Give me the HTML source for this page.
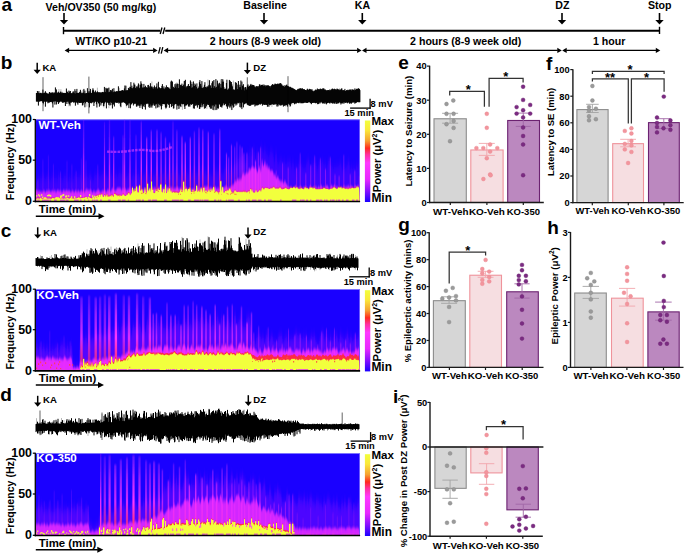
<!DOCTYPE html>
<html><head><meta charset="utf-8"><style>
html,body{margin:0;padding:0;background:#fff;overflow:hidden;}
svg{display:block;}
text{font-family:"Liberation Sans",sans-serif;font-weight:bold;}
</style></head><body>
<svg width="685" height="554" viewBox="0 0 685 554">
<defs>
<linearGradient id="cbar" x1="0" y1="0" x2="0" y2="1">
<stop offset="0" stop-color="#f2ff3c"/>
<stop offset="0.12" stop-color="#fbe83a"/>
<stop offset="0.25" stop-color="#f5a030"/>
<stop offset="0.34" stop-color="#ff2a1e"/>
<stop offset="0.42" stop-color="#ff30a0"/>
<stop offset="0.52" stop-color="#ff38ff"/>
<stop offset="0.72" stop-color="#e828ff"/>
<stop offset="0.86" stop-color="#8a10ff"/>
<stop offset="1" stop-color="#1a00ff"/>
</linearGradient>

<filter id="bl_h" filterUnits="userSpaceOnUse" x="0" y="0" width="685" height="554"><feGaussianBlur stdDeviation="0.6 5"/></filter>
<filter id="bl_m" filterUnits="userSpaceOnUse" x="0" y="0" width="685" height="554"><feGaussianBlur stdDeviation="0.4 1.6"/></filter>
<filter id="bl_s" filterUnits="userSpaceOnUse" x="0" y="0" width="685" height="554"><feGaussianBlur stdDeviation="0.45 0.8"/></filter>
<filter id="bl_y" filterUnits="userSpaceOnUse" x="0" y="0" width="685" height="554"><feGaussianBlur stdDeviation="0.3 0.45"/></filter>
<filter id="bl_c" filterUnits="userSpaceOnUse" x="0" y="0" width="685" height="554"><feGaussianBlur stdDeviation="3 3"/></filter>
<linearGradient id="hot_b" gradientUnits="userSpaceOnUse" x1="0" y1="119.3" x2="0" y2="201.0">
<stop offset="0" stop-color="#8020ff" stop-opacity="0.55"/>
<stop offset="0.3" stop-color="#d030ff" stop-opacity="0.85"/>
<stop offset="0.6" stop-color="#ff38ff" stop-opacity="1"/>
<stop offset="0.85" stop-color="#ff3080" stop-opacity="1"/>
<stop offset="1" stop-color="#ff5020" stop-opacity="1"/>
</linearGradient>
<linearGradient id="stk_b" gradientUnits="userSpaceOnUse" x1="0" y1="119.3" x2="0" y2="201.0">
<stop offset="0" stop-color="#7018ff" stop-opacity="0.5"/>
<stop offset="0.35" stop-color="#b024ff" stop-opacity="0.8"/>
<stop offset="0.6" stop-color="#f030ff" stop-opacity="0.95"/>
<stop offset="1" stop-color="#ff38c0" stop-opacity="1"/>
</linearGradient>
<linearGradient id="hot_c" gradientUnits="userSpaceOnUse" x1="0" y1="289.0" x2="0" y2="370.4">
<stop offset="0" stop-color="#8020ff" stop-opacity="0.55"/>
<stop offset="0.3" stop-color="#d030ff" stop-opacity="0.85"/>
<stop offset="0.6" stop-color="#ff38ff" stop-opacity="1"/>
<stop offset="0.85" stop-color="#ff3080" stop-opacity="1"/>
<stop offset="1" stop-color="#ff5020" stop-opacity="1"/>
</linearGradient>
<linearGradient id="stk_c" gradientUnits="userSpaceOnUse" x1="0" y1="289.0" x2="0" y2="370.4">
<stop offset="0" stop-color="#7018ff" stop-opacity="0.5"/>
<stop offset="0.35" stop-color="#b024ff" stop-opacity="0.8"/>
<stop offset="0.6" stop-color="#f030ff" stop-opacity="0.95"/>
<stop offset="1" stop-color="#ff38c0" stop-opacity="1"/>
</linearGradient>
<linearGradient id="hot_d" gradientUnits="userSpaceOnUse" x1="0" y1="453.0" x2="0" y2="535.0">
<stop offset="0" stop-color="#8020ff" stop-opacity="0.55"/>
<stop offset="0.3" stop-color="#d030ff" stop-opacity="0.85"/>
<stop offset="0.6" stop-color="#ff38ff" stop-opacity="1"/>
<stop offset="0.85" stop-color="#ff3080" stop-opacity="1"/>
<stop offset="1" stop-color="#ff5020" stop-opacity="1"/>
</linearGradient>
<linearGradient id="stk_d" gradientUnits="userSpaceOnUse" x1="0" y1="453.0" x2="0" y2="535.0">
<stop offset="0" stop-color="#7018ff" stop-opacity="0.5"/>
<stop offset="0.35" stop-color="#b024ff" stop-opacity="0.8"/>
<stop offset="0.6" stop-color="#f030ff" stop-opacity="0.95"/>
<stop offset="1" stop-color="#ff38c0" stop-opacity="1"/>
</linearGradient>
</defs>
<text x="1.43" y="10.70" font-size="19.00" fill="#000">a</text>
<text x="45.60" y="10.70" font-size="10.60" fill="#000">Veh/OV350 (50 mg/kg)</text>
<text x="243.26" y="9.20" font-size="10.60" fill="#000">Baseline</text>
<text x="354.76" y="9.40" font-size="10.60" fill="#000">KA</text>
<text x="555.34" y="9.40" font-size="10.60" fill="#000">DZ</text>
<text x="647.94" y="9.40" font-size="10.60" fill="#000">Stop</text>
<line x1="64.00" y1="13.00" x2="64.00" y2="20.50" stroke="#000" stroke-width="1.6" />
<path d="M59.80,20.00 L68.20,20.00 L64.00,24.50 Z" fill="#000"/>
<line x1="264.00" y1="13.00" x2="264.00" y2="20.50" stroke="#000" stroke-width="1.6" />
<path d="M259.80,20.00 L268.20,20.00 L264.00,24.50 Z" fill="#000"/>
<line x1="362.30" y1="13.00" x2="362.30" y2="20.50" stroke="#000" stroke-width="1.6" />
<path d="M358.10,20.00 L366.50,20.00 L362.30,24.50 Z" fill="#000"/>
<line x1="562.00" y1="13.00" x2="562.00" y2="20.50" stroke="#000" stroke-width="1.6" />
<path d="M557.80,20.00 L566.20,20.00 L562.00,24.50 Z" fill="#000"/>
<line x1="659.50" y1="13.00" x2="659.50" y2="20.50" stroke="#000" stroke-width="1.6" />
<path d="M655.30,20.00 L663.70,20.00 L659.50,24.50 Z" fill="#000"/>
<line x1="63.50" y1="30.70" x2="160.30" y2="30.70" stroke="#000" stroke-width="2.0" />
<line x1="165.20" y1="30.70" x2="659.50" y2="30.70" stroke="#000" stroke-width="2.0" />
<line x1="63.50" y1="27.00" x2="63.50" y2="34.20" stroke="#000" stroke-width="1.4" />
<line x1="659.50" y1="26.80" x2="659.50" y2="34.00" stroke="#000" stroke-width="1.4" />
<line x1="160.20" y1="34.00" x2="162.00" y2="27.50" stroke="#000" stroke-width="1.3" />
<line x1="163.00" y1="34.00" x2="164.80" y2="27.50" stroke="#000" stroke-width="1.3" />
<line x1="68.60" y1="50.40" x2="153.60" y2="50.40" stroke="#000" stroke-width="1.3" />
<path d="M64.60,50.40 L69.10,47.80 L69.10,53.00 Z" fill="#000"/>
<path d="M157.60,50.40 L153.10,47.80 L153.10,53.00 Z" fill="#000"/>
<line x1="158.60" y1="53.60" x2="160.20" y2="47.20" stroke="#000" stroke-width="1.3" />
<line x1="161.20" y1="53.60" x2="162.80" y2="47.20" stroke="#000" stroke-width="1.3" />
<line x1="167.60" y1="50.40" x2="357.60" y2="50.40" stroke="#000" stroke-width="1.3" />
<path d="M163.60,50.40 L168.10,47.80 L168.10,53.00 Z" fill="#000"/>
<path d="M361.60,50.40 L357.10,47.80 L357.10,53.00 Z" fill="#000"/>
<line x1="366.00" y1="50.40" x2="557.80" y2="50.40" stroke="#000" stroke-width="1.3" />
<path d="M362.00,50.40 L366.50,47.80 L366.50,53.00 Z" fill="#000"/>
<path d="M561.80,50.40 L557.30,47.80 L557.30,53.00 Z" fill="#000"/>
<line x1="566.20" y1="50.40" x2="656.30" y2="50.40" stroke="#000" stroke-width="1.3" />
<path d="M562.20,50.40 L566.70,47.80 L566.70,53.00 Z" fill="#000"/>
<path d="M660.30,50.40 L655.80,47.80 L655.80,53.00 Z" fill="#000"/>
<text x="75.25" y="44.90" font-size="10.60" fill="#000">WT/KO p10-21</text>
<text x="209.85" y="44.50" font-size="10.60" fill="#000">2 hours (8-9 week old)</text>
<text x="410.10" y="44.50" font-size="10.60" fill="#000">2 hours (8-9 week old)</text>
<text x="593.02" y="44.50" font-size="10.60" fill="#000">1 hour</text>
<text x="0.76" y="68.80" font-size="19.00" fill="#000">b</text>
<line x1="37.20" y1="62.80" x2="37.20" y2="70.30" stroke="#000" stroke-width="1.5" />
<path d="M33.60,69.80 L40.80,69.80 L37.20,74.00 Z" fill="#000"/>
<text x="42.38" y="71.20" font-size="9.60" fill="#000">KA</text>
<line x1="247.40" y1="62.60" x2="247.40" y2="70.60" stroke="#000" stroke-width="1.5" />
<path d="M243.80,70.10 L251.00,70.10 L247.40,74.30 Z" fill="#000"/>
<text x="253.28" y="70.50" font-size="9.60" fill="#000">DZ</text>
<path d="M43.4 100.8V105.4M58.9 89.0V93.8M60.9 89.2V93.8M68.9 101.0V106.3M70.4 101.1V106.3M82.9 89.8V93.8M83.4 90.0V93.8M86.9 101.2V106.7M89.9 88.3V93.7M93.4 88.7V93.5M97.4 87.7V93.3M103.9 101.4V107.5M107.4 89.1V93.0M108.9 101.4V108.2M119.4 87.9V92.6M126.4 101.8V107.6M136.9 102.6V106.6M141.4 102.7V107.9M151.9 81.5V89.9M160.9 102.7V106.9M167.4 102.7V106.7M173.9 102.7V106.3M176.9 82.3V89.8M179.4 102.7V108.2M182.4 102.7V109.8M183.9 81.2V89.7M192.4 82.1V89.7M201.4 84.0V89.6M206.9 102.8V108.9M207.9 79.5V89.6M220.4 79.4V90.2M221.9 80.8V90.3M229.4 79.7V90.7M229.9 80.2V90.7M229.9 102.4V108.4M231.4 102.3V110.1M233.4 80.6V90.9M248.4 84.7V88.4M250.4 86.7V87.6M262.4 103.3V104.4M266.4 103.3V104.5M271.9 103.3V106.9M277.4 103.3V105.0M280.9 84.4V87.6M285.4 103.3V106.5M289.4 102.7V106.7M291.9 90.7V90.3M291.9 102.0V105.2M294.4 102.0V103.9M295.9 102.0V104.2M300.4 102.0V103.1M304.9 89.7V91.0M309.4 88.4V91.2M317.4 101.9V103.4M317.9 89.7V91.2M326.4 101.9V104.4M334.9 90.8V91.2M339.4 88.3V91.2M353.9 101.8V102.4M357.4 88.4V91.2" stroke="#888" stroke-width="0.6" fill="none"/><path d="M43.0 77.2V111.2M88.9 76.6V113.4M247.3 77.3V105.2M288.0 76.2V112.2" stroke="#222" stroke-width="0.7" fill="none"/><path d="M36.4 93.0V101.6M36.9 93.0V101.4M37.4 91.0V101.3M37.9 93.0V101.9M38.4 92.7V105.6M38.9 91.1V101.2M39.4 93.3V101.6M39.9 93.2V101.4M40.4 93.0V101.1M40.9 92.7V101.2M41.4 93.3V101.1M41.9 93.5V101.0M42.4 93.2V101.5M42.9 89.6V102.9M43.4 93.3V103.5M43.9 93.0V101.3M44.4 92.8V101.6M44.9 92.7V101.5M45.4 91.2V106.7M45.9 92.4V102.0M46.4 93.1V101.4M46.9 93.3V101.4M47.4 93.7V101.6M47.9 93.6V103.3M48.4 93.7V102.3M48.9 93.9V102.8M49.4 92.0V102.4M49.9 92.2V101.8M50.4 93.1V102.0M50.9 93.2V102.1M51.4 92.5V101.7M51.9 93.2V102.1M52.4 92.9V103.4M52.9 92.0V107.5M53.4 93.4V101.6M53.9 93.0V101.4M54.4 92.6V101.3M54.9 92.6V104.6M55.4 87.4V101.2M55.9 92.8V101.4M56.4 89.4V104.5M56.9 93.4V101.5M57.4 92.5V101.7M57.9 93.1V102.1M58.4 91.7V104.0M58.9 93.0V102.8M59.4 93.0V102.2M59.9 92.6V101.7M60.4 91.6V101.4M60.9 93.2V101.4M61.4 93.2V101.6M61.9 91.8V101.6M62.4 93.1V102.8M62.9 92.8V102.2M63.4 93.0V102.7M63.9 92.9V101.7M64.4 93.1V102.3M64.9 92.9V102.1M65.4 93.0V106.0M65.9 93.2V102.4M66.4 88.5V101.8M66.9 91.2V104.0M67.4 92.0V101.6M67.9 93.1V101.6M68.4 93.1V101.6M68.9 90.6V103.5M69.4 91.5V104.1M69.9 93.1V105.5M70.4 91.0V102.6M70.9 93.4V102.3M71.4 93.3V102.5M71.9 93.2V102.2M72.4 93.2V101.7M72.9 91.6V101.8M73.4 92.4V102.0M73.9 91.2V103.1M74.4 93.2V102.1M74.9 89.2V102.1M75.4 93.6V105.7M75.9 90.9V102.4M76.4 92.8V102.5M76.9 88.9V102.2M77.4 92.8V103.3M77.9 93.0V104.7M78.4 93.0V102.4M78.9 92.9V102.7M79.4 92.2V103.0M79.9 91.8V102.5M80.4 89.8V102.9M80.9 91.6V102.6M81.4 93.3V102.8M81.9 93.0V102.5M82.4 93.3V105.4M82.9 92.7V105.2M83.4 92.6V103.2M83.9 88.9V102.2M84.4 93.3V102.0M84.9 90.6V107.3M85.4 93.4V103.4M85.9 93.3V101.7M86.4 93.1V101.8M86.9 93.0V101.9M87.4 88.2V101.8M87.9 92.9V102.1M88.4 92.7V103.0M88.9 91.2V101.7M89.4 93.1V107.4M89.9 91.4V102.4M90.4 89.0V102.8M90.9 92.9V103.1M91.4 93.1V103.3M91.9 92.8V101.7M92.4 90.3V102.4M92.9 88.3V102.4M93.4 90.1V101.8M93.9 91.5V106.0M94.4 92.3V102.8M94.9 92.4V101.4M95.4 90.5V101.4M95.9 92.3V101.8M96.4 92.6V104.3M96.9 92.3V107.5M97.4 91.3V101.7M97.9 92.6V101.8M98.4 92.4V103.1M98.9 92.2V103.6M99.4 92.3V106.7M99.9 92.9V101.9M100.4 92.4V102.1M100.9 92.7V105.5M101.4 92.6V103.3M101.9 92.4V102.3M102.4 92.0V102.9M102.9 91.9V102.2M103.4 92.5V106.2M103.9 92.1V105.9M104.4 86.9V103.5M104.9 92.4V102.1M105.4 91.8V101.7M105.9 87.8V102.5M106.4 88.5V108.4M106.9 92.8V102.6M107.4 88.8V102.5M107.9 88.1V102.4M108.4 92.2V103.4M108.9 87.6V105.0M109.4 92.1V102.9M109.9 91.7V105.5M110.4 90.0V101.9M110.9 91.6V105.1M111.4 90.3V102.8M111.9 92.0V102.5M112.4 88.8V108.5M112.9 92.7V104.4M113.4 92.1V104.5M113.9 88.2V102.1M114.4 91.5V106.5M114.9 91.7V102.8M115.4 91.8V102.4M115.9 91.8V102.1M116.4 91.1V102.8M116.9 91.8V102.9M117.4 91.2V102.4M117.9 91.5V102.9M118.4 86.3V102.1M118.9 91.5V103.6M119.4 90.9V102.6M119.9 91.0V102.9M120.4 90.9V106.1M120.9 90.9V107.2M121.4 90.4V102.5M121.9 91.1V102.8M122.4 90.0V102.4M122.9 90.6V102.0M123.4 90.4V102.1M123.9 91.0V102.4M124.4 88.4V102.7M124.9 85.5V102.9M125.4 90.4V103.2M125.9 85.7V104.1M126.4 90.5V105.6M126.9 90.1V105.6M127.4 90.3V104.8M127.9 90.3V104.6M128.4 87.9V103.4M128.9 88.4V108.1M129.4 88.8V102.9M129.9 86.8V103.7M130.4 87.0V108.3M130.9 82.1V104.9M131.4 87.9V104.1M131.9 85.7V103.2M132.4 88.3V102.8M132.9 88.3V103.4M133.4 87.2V105.5M133.9 82.7V104.0M134.4 84.6V103.4M134.9 84.6V104.2M135.4 87.9V103.5M135.9 88.4V103.5M136.4 86.4V106.5M136.9 88.6V106.5M137.4 87.2V105.5M137.9 85.6V104.4M138.4 83.4V104.8M138.9 84.6V106.1M139.4 88.3V105.7M139.9 87.7V107.9M140.4 84.7V104.4M140.9 81.3V105.8M141.4 83.5V104.4M141.9 84.0V103.9M142.4 88.0V109.1M142.9 87.2V105.6M143.4 87.7V106.5M143.9 83.9V104.2M144.4 87.1V104.7M144.9 87.8V107.1M145.4 85.7V109.6M145.9 87.1V103.7M146.4 87.4V103.6M146.9 87.5V104.2M147.4 88.0V103.5M147.9 85.1V103.3M148.4 84.9V103.8M148.9 86.9V107.2M149.4 87.7V106.2M149.9 86.1V108.0M150.4 83.2V104.5M150.9 87.9V106.8M151.4 86.8V105.6M151.9 86.3V107.7M152.4 88.3V105.5M152.9 87.1V103.3M153.4 89.0V103.6M153.9 87.4V105.2M154.4 85.5V105.9M154.9 87.4V104.9M155.4 88.5V104.3M155.9 87.1V108.4M156.4 86.5V104.3M156.9 83.4V103.4M157.4 88.7V107.6M157.9 88.5V102.9M158.4 81.8V103.9M158.9 87.0V107.3M159.4 87.6V104.9M159.9 88.3V103.3M160.4 88.3V105.8M160.9 88.7V103.5M161.4 88.0V109.4M161.9 85.9V106.0M162.4 84.1V104.1M162.9 88.1V104.1M163.4 88.5V104.1M163.9 86.4V103.8M164.4 89.2V104.3M164.9 88.4V103.8M165.4 87.3V107.3M165.9 88.9V108.5M166.4 85.3V107.6M166.9 88.1V104.1M167.4 87.0V103.6M167.9 87.1V103.4M168.4 88.0V104.6M168.9 87.5V104.8M169.4 88.6V107.8M169.9 89.1V103.8M170.4 89.2V103.8M170.9 81.6V104.1M171.4 80.6V107.1M171.9 82.2V106.1M172.4 81.5V103.7M172.9 88.7V106.0M173.4 86.8V108.5M173.9 88.3V108.4M174.4 88.0V104.7M174.9 84.2V104.2M175.4 86.6V103.8M175.9 83.5V104.1M176.4 88.1V104.1M176.9 84.4V109.6M177.4 83.6V105.7M177.9 88.6V104.5M178.4 88.0V105.8M178.9 83.9V109.0M179.4 79.3V104.7M179.9 87.5V105.7M180.4 84.8V106.0M180.9 85.7V107.1M181.4 85.2V103.7M181.9 83.6V103.8M182.4 86.0V104.1M182.9 86.0V104.3M183.4 84.6V104.1M183.9 86.8V103.6M184.4 80.9V106.6M184.9 87.1V109.0M185.4 79.8V105.6M185.9 88.2V105.3M186.4 87.2V105.4M186.9 86.1V104.9M187.4 86.3V104.1M187.9 85.7V103.8M188.4 84.0V106.2M188.9 86.5V106.8M189.4 86.0V105.4M189.9 86.1V106.6M190.4 80.4V104.1M190.9 81.8V104.4M191.4 87.8V104.8M191.9 83.9V104.4M192.4 87.5V103.9M192.9 87.3V103.8M193.4 81.4V108.4M193.9 86.1V103.7M194.4 86.0V108.7M194.9 83.5V105.7M195.4 84.6V105.7M195.9 88.9V103.1M196.4 86.8V105.4M196.9 83.4V103.9M197.4 88.6V107.6M197.9 88.7V105.0M198.4 88.0V105.2M198.9 86.5V104.6M199.4 82.2V109.0M199.9 80.1V108.7M200.4 83.9V107.1M200.9 85.8V104.7M201.4 87.8V103.3M201.9 81.1V107.3M202.4 87.9V104.9M202.9 88.7V106.6M203.4 87.6V104.0M203.9 86.8V104.1M204.4 84.8V108.7M204.9 82.2V103.3M205.4 87.0V108.2M205.9 87.1V104.2M206.4 87.9V106.4M206.9 86.5V104.7M207.4 86.5V104.6M207.9 87.6V103.3M208.4 86.3V105.0M208.9 84.9V104.5M209.4 80.2V106.8M209.9 85.0V107.3M210.4 85.6V108.7M210.9 88.1V105.8M211.4 87.8V108.7M211.9 83.2V104.8M212.4 81.4V105.6M212.9 81.3V109.8M213.4 88.0V105.2M213.9 80.0V110.2M214.4 86.2V106.5M214.9 88.2V104.2M215.4 87.6V104.5M215.9 79.1V110.1M216.4 86.8V104.6M216.9 88.8V109.7M217.4 80.6V108.2M217.9 83.2V108.1M218.4 85.4V108.6M218.9 84.0V103.7M219.4 82.8V104.6M219.9 89.1V103.9M220.4 87.5V106.9M220.9 83.9V106.0M221.4 87.8V106.8M221.9 79.0V107.6M222.4 81.8V105.5M222.9 79.4V105.3M223.4 81.6V103.5M223.9 87.1V103.1M224.4 89.1V105.2M224.9 88.7V104.3M225.4 88.9V103.8M225.9 88.7V103.6M226.4 83.0V106.2M226.9 79.7V106.6M227.4 89.6V108.8M227.9 90.0V105.3M228.4 88.5V105.5M228.9 89.8V106.7M229.4 80.1V103.2M229.9 82.0V107.7M230.4 81.2V106.5M230.9 84.3V105.8M231.4 82.0V104.2M231.9 84.4V109.9M232.4 86.3V105.5M232.9 90.0V103.5M233.4 89.3V107.6M233.9 90.1V106.9M234.4 89.6V103.5M234.9 90.3V103.9M235.4 82.2V103.5M235.9 86.5V105.6M236.4 82.8V103.7M236.9 89.4V104.7M237.4 89.1V102.7M237.9 84.6V103.3M238.4 81.0V103.2M238.9 89.5V102.0M239.4 87.2V102.7M239.9 84.7V107.1M240.4 87.1V103.1M240.9 80.5V107.6M241.4 89.6V106.9M241.9 81.6V109.1M242.4 85.6V102.4M242.9 86.1V102.6M243.4 84.2V107.4M243.9 87.4V103.6M244.4 90.4V104.3M244.9 87.6V103.8M245.4 87.0V103.3M245.9 87.2V103.2M246.4 90.0V102.8M246.9 88.6V103.5M247.4 85.7V104.2M247.9 84.4V105.0M248.4 86.7V105.0M248.9 87.1V105.6M249.4 85.8V105.9M249.9 86.2V104.3M250.4 84.8V105.8M250.9 83.9V105.4M251.4 85.7V104.6M251.9 84.7V104.7M252.4 84.9V104.1M252.9 85.5V105.0M253.4 85.1V104.4M253.9 85.0V104.0M254.4 86.6V104.3M254.9 86.3V106.5M255.4 87.5V104.7M255.9 86.8V105.8M256.4 86.3V105.2M256.9 86.1V104.3M257.4 87.0V105.3M257.9 86.0V105.3M258.4 87.3V104.8M258.9 86.0V104.5M259.4 84.4V104.2M259.9 84.4V103.7M260.4 85.7V104.6M260.9 85.5V103.9M261.4 84.9V103.6M261.9 85.0V103.7M262.4 84.7V105.7M262.9 85.5V104.3M263.4 86.1V104.0M263.9 84.4V105.0M264.4 85.8V104.7M264.9 85.2V104.9M265.4 86.5V104.5M265.9 85.3V104.8M266.4 85.5V104.8M266.9 86.0V105.0M267.4 85.6V106.8M267.9 85.1V105.7M268.4 85.5V103.9M268.9 85.8V106.8M269.4 86.3V105.1M269.9 86.1V104.3M270.4 87.4V105.2M270.9 86.0V104.6M271.4 85.4V104.5M271.9 85.3V104.2M272.4 84.1V104.0M272.9 84.4V104.5M273.4 84.9V104.8M273.9 84.9V103.9M274.4 84.7V104.3M274.9 83.7V104.8M275.4 83.8V103.8M275.9 84.8V104.3M276.4 84.2V104.0M276.9 84.0V106.5M277.4 83.6V105.1M277.9 84.2V106.5M278.4 84.2V104.0M278.9 83.6V105.5M279.4 83.5V104.4M279.9 83.9V105.0M280.4 83.1V105.6M280.9 83.3V104.7M281.4 84.4V105.4M281.9 84.5V104.7M282.4 85.6V104.5M282.9 86.0V105.2M283.4 85.7V106.6M283.9 86.9V104.7M284.4 86.9V105.7M284.9 85.2V105.8M285.4 85.8V104.9M285.9 86.3V105.2M286.4 84.9V105.2M286.9 84.6V104.6M287.4 86.0V106.6M287.9 86.0V104.4M288.4 86.5V103.8M288.9 86.4V103.3M289.4 87.2V104.6M289.9 87.1V105.2M290.4 86.8V106.4M290.9 87.6V104.0M291.4 87.9V103.3M291.9 87.6V103.1M292.4 88.1V102.9M292.9 88.7V103.1M293.4 88.5V102.9M293.9 88.9V102.6M294.4 89.1V104.3M294.9 89.7V103.2M295.4 89.8V103.4M295.9 90.2V103.4M296.4 90.2V103.4M296.9 90.5V102.4M297.4 89.6V102.7M297.9 88.9V102.8M298.4 89.3V103.0M298.9 88.7V103.3M299.4 89.0V102.3M299.9 88.2V102.9M300.4 88.5V102.3M300.9 88.3V103.3M301.4 88.9V103.2M301.9 88.6V103.0M302.4 88.3V103.3M302.9 89.7V102.9M303.4 89.1V103.2M303.9 89.6V102.5M304.4 89.2V102.8M304.9 90.0V102.0M305.4 90.0V102.7M305.9 90.0V102.4M306.4 90.4V102.8M306.9 89.6V103.0M307.4 88.7V102.9M307.9 89.8V102.7M308.4 89.8V102.2M308.9 89.7V102.2M309.4 89.0V102.2M309.9 89.9V102.3M310.4 89.1V103.2M310.9 90.2V103.1M311.4 90.1V104.2M311.9 89.0V102.6M312.4 90.8V103.0M312.9 90.5V102.4M313.4 91.4V102.8M313.9 91.3V102.7M314.4 90.6V102.6M314.9 90.8V102.9M315.4 89.8V103.3M315.9 89.5V103.0M316.4 90.2V102.8M316.9 89.8V102.8M317.4 88.5V104.2M317.9 90.1V102.2M318.4 89.2V104.1M318.9 89.3V103.2M319.4 89.6V102.3M319.9 88.9V103.6M320.4 88.6V102.6M320.9 89.8V102.0M321.4 89.2V101.8M321.9 88.9V102.7M322.4 89.3V103.2M322.9 88.2V103.6M323.4 88.7V103.3M323.9 88.4V102.9M324.4 89.7V102.7M324.9 89.4V104.0M325.4 89.7V102.3M325.9 90.5V103.0M326.4 90.7V104.3M326.9 90.0V103.1M327.4 90.5V103.2M327.9 90.0V103.0M328.4 90.1V102.5M328.9 90.1V102.7M329.4 90.5V103.1M329.9 89.4V103.6M330.4 90.3V102.4M330.9 90.1V102.8M331.4 89.6V102.7M331.9 88.9V103.2M332.4 88.6V103.1M332.9 88.9V103.8M333.4 89.2V102.7M333.9 90.4V103.2M334.4 88.7V103.1M334.9 89.1V104.0M335.4 89.4V102.5M335.9 89.5V102.4M336.4 89.9V103.9M336.9 88.7V102.5M337.4 88.8V103.6M337.9 89.5V102.2M338.4 89.8V103.3M338.9 89.1V103.2M339.4 90.2V102.1M339.9 90.3V102.3M340.4 89.8V102.9M340.9 89.3V104.5M341.4 88.6V103.4M341.9 88.4V102.9M342.4 90.2V103.5M342.9 90.5V102.4M343.4 90.3V102.4M343.9 90.0V103.8M344.4 90.5V102.6M344.9 88.9V102.2M345.4 90.9V102.7M345.9 91.0V103.0M346.4 90.2V102.2M346.9 90.1V102.5M347.4 90.3V103.3M347.9 89.7V102.4M348.4 90.2V102.5M348.9 90.6V102.2M349.4 89.6V103.4M349.9 89.8V103.9M350.4 89.8V102.9M350.9 89.4V102.8M351.4 90.8V103.7M351.9 89.6V102.6M352.4 89.6V102.5M352.9 89.5V102.3M353.4 90.0V102.3M353.9 89.7V102.4M354.4 90.4V102.3M354.9 88.4V103.8M355.4 90.0V102.9M355.9 89.6V102.8M356.4 88.8V102.6M356.9 89.5V102.3M357.4 89.1V102.0M357.9 88.8V101.6M358.4 88.3V102.1M358.9 88.6V102.3M359.4 89.0V102.1M359.9 90.1V102.2" stroke="#000" stroke-width="1.0" fill="none"/>
<line x1="370.10" y1="98.80" x2="370.10" y2="108.70" stroke="#000" stroke-width="1.3" />
<line x1="350.10" y1="108.10" x2="370.70" y2="108.10" stroke="#000" stroke-width="1.3" />
<text x="370.62" y="107.00" font-size="9.30" fill="#000">8 mV</text>
<text x="344.44" y="116.10" font-size="9.30" fill="#000">15 min</text>
<svg x="36.0" y="119.3" width="323.8" height="81.7" viewBox="36.0 119.3 323.8 81.7" overflow="hidden">
<rect x="36.0" y="119.3" width="323.8" height="81.7" fill="#1a00ff"/>
<path d="M36.0 209.0L36.0 182.0L37.0 182.1L38.0 177.5L39.0 177.8L40.0 181.9L41.0 175.1L42.0 181.4L43.0 175.7L44.0 174.7L45.0 182.1L46.0 176.8L47.0 178.2L48.0 174.8L49.0 179.1L50.0 179.3L51.0 180.9L52.0 175.3L53.0 180.1L54.0 174.6L55.0 182.6L56.0 174.8L57.0 182.7L58.0 176.2L59.0 174.1L60.0 179.8L61.0 177.3L62.0 178.9L63.0 182.1L64.0 174.9L65.0 178.1L66.0 175.2L67.0 182.3L68.0 181.1L69.0 180.4L70.0 174.9L71.0 182.3L72.0 182.3L73.0 178.9L74.0 178.8L75.0 174.4L76.0 174.3L77.0 180.1L78.0 175.3L79.0 178.9L80.0 175.0L81.0 176.0L82.0 181.5L83.0 177.7L84.0 178.1L85.0 177.8L86.0 176.8L87.0 175.5L88.0 178.2L89.0 177.0L90.0 174.1L91.0 175.4L92.0 180.1L93.0 180.6L94.0 179.3L95.0 172.7L96.0 178.1L97.0 173.3L98.0 172.5L99.0 175.0L100.0 178.1L101.0 174.5L102.0 176.8L103.0 172.4L104.0 176.7L105.0 175.4L106.0 174.9L107.0 175.4L108.0 179.8L109.0 175.9L110.0 177.3L111.0 174.8L112.0 173.8L113.0 179.3L114.0 177.7L115.0 178.8L116.0 171.9L117.0 176.4L118.0 176.8L119.0 171.7L120.0 173.5L121.0 172.7L122.0 176.2L123.0 179.8L124.0 177.4L125.0 180.2L126.0 177.1L127.0 176.5L128.0 176.2L129.0 171.2L130.0 175.6L131.0 179.2L132.0 179.1L133.0 174.1L134.0 175.7L135.0 176.7L136.0 175.8L137.0 176.6L138.0 173.9L139.0 174.7L140.0 180.2L141.0 175.6L142.0 178.1L143.0 174.7L144.0 175.9L145.0 172.9L146.0 170.8L147.0 173.0L148.0 174.2L149.0 175.3L150.0 179.2L151.0 173.0L152.0 178.3L153.0 176.5L154.0 174.3L155.0 177.6L156.0 171.4L157.0 174.6L158.0 170.3L159.0 179.9L160.0 175.4L161.0 176.8L162.0 174.2L163.0 173.4L164.0 174.0L165.0 170.4L166.0 175.4L167.0 176.1L168.0 172.2L169.0 174.2L170.0 177.1L171.0 170.3L172.0 177.5L173.0 179.0L174.0 174.2L175.0 170.3L176.0 170.8L177.0 171.2L178.0 173.3L179.0 174.3L180.0 176.6L181.0 177.8L182.0 174.9L183.0 170.8L184.0 173.7L185.0 169.2L186.0 171.1L187.0 173.7L188.0 173.2L189.0 175.0L190.0 169.8L191.0 170.6L192.0 177.4L193.0 169.8L194.0 172.1L195.0 175.4L196.0 171.3L197.0 174.7L198.0 171.8L199.0 173.8L200.0 172.4L201.0 169.3L202.0 169.6L203.0 173.9L204.0 174.8L205.0 171.3L206.0 171.8L207.0 177.9L208.0 173.4L209.0 175.8L210.0 171.9L211.0 177.0L212.0 175.6L213.0 176.0L214.0 175.7L215.0 172.6L216.0 169.4L217.0 171.7L218.0 171.6L219.0 170.4L220.0 174.3L221.0 173.9L222.0 171.5L223.0 176.2L224.0 170.3L225.0 168.5L226.0 168.0L227.0 176.3L228.0 165.8L229.0 173.0L230.0 173.4L231.0 166.8L232.0 169.3L233.0 170.7L234.0 164.4L235.0 164.5L236.0 163.7L237.0 163.2L238.0 161.0L239.0 157.9L240.0 157.8L241.0 157.2L242.0 154.5L243.0 159.1L244.0 155.7L245.0 163.0L246.0 163.2L247.0 157.0L248.0 153.1L249.0 159.8L250.0 147.8L251.0 158.3L252.0 154.7L253.0 154.7L254.0 146.0L255.0 159.2L256.0 157.3L257.0 150.5L258.0 154.8L259.0 154.7L260.0 158.0L261.0 144.1L262.0 152.0L263.0 150.1L264.0 156.3L265.0 145.0L266.0 159.5L267.0 150.0L268.0 161.0L269.0 153.8L270.0 157.6L271.0 147.9L272.0 156.6L273.0 150.8L274.0 164.0L275.0 161.2L276.0 150.0L277.0 160.0L278.0 165.5L279.0 162.5L280.0 161.4L281.0 159.5L282.0 162.1L283.0 163.6L284.0 161.6L285.0 162.2L286.0 166.7L287.0 162.4L288.0 162.1L289.0 162.6L290.0 160.8L291.0 165.2L292.0 168.8L293.0 159.2L294.0 170.1L295.0 167.7L296.0 166.2L297.0 166.3L298.0 169.0L299.0 160.5L300.0 167.8L301.0 164.6L302.0 163.9L303.0 170.2L304.0 166.3L305.0 170.2L306.0 164.9L307.0 162.4L308.0 160.8L309.0 159.8L310.0 170.6L311.0 166.1L312.0 163.4L313.0 167.3L314.0 159.9L315.0 165.7L316.0 160.9L317.0 171.4L318.0 167.2L319.0 163.2L320.0 161.5L321.0 165.9L322.0 161.2L323.0 162.6L324.0 167.1L325.0 163.3L326.0 165.8L327.0 171.0L328.0 160.9L329.0 161.7L330.0 161.1L331.0 169.6L332.0 162.6L333.0 172.1L334.0 166.2L335.0 168.8L336.0 166.2L337.0 167.8L338.0 165.7L339.0 167.2L340.0 163.1L341.0 164.4L342.0 169.3L343.0 170.3L344.0 169.9L345.0 168.8L346.0 167.5L347.0 166.6L348.0 163.3L349.0 160.6L350.0 169.7L351.0 169.3L352.0 166.5L353.0 173.0L354.0 165.1L355.0 172.7L356.0 165.7L357.0 165.8L358.0 168.4L359.0 160.8L359.8 209.0Z" fill="#8a10ff" opacity="0.3" filter="url(#bl_h)"/>
<path d="M37.9 180.1V201.0M42.9 159.5V201.0M48.4 155.3V201.0M53.4 164.2V201.0M60.5 171.7V201.0M67.0 160.9V201.0M71.9 164.5V201.0M76.2 171.1V201.0M81.3 158.5V201.0M86.0 160.4V201.0M90.4 180.0V201.0M97.8 164.8V201.0M268.5 169.8V201.0" stroke="url(#stk_b)" stroke-width="1.0" opacity="0.2" fill="none" filter="url(#bl_s)"/>
<path d="M276.2 170.8V201.0M282.6 162.9V201.0M288.2 167.6V201.0" stroke="url(#stk_b)" stroke-width="1.0" opacity="0.4" fill="none" filter="url(#bl_s)"/>
<path d="M296.6 168.1V201.0M300.2 153.2V201.0M305.8 173.3V201.0M310.7 164.9V201.0M314.7 155.8V201.0M320.4 158.4V201.0M325.5 169.1V201.0M330.3 157.3V201.0M335.0 174.5V201.0M339.1 176.1V201.0M343.8 154.9V201.0M350.2 174.2V201.0M354.8 170.5V201.0M359.4 176.1V201.0" stroke="url(#stk_b)" stroke-width="1.1" opacity="0.4" fill="none" filter="url(#bl_s)"/>
<path d="M228.7 157.5V201.0M234.7 146.7V201.0M236.9 142.0V201.0M240.0 145.5V201.0M243.9 153.2V201.0M246.9 153.0V201.0M252.3 147.8V201.0M258.4 152.3V201.0M260.5 147.4V201.0" stroke="url(#hot_b)" stroke-width="1.2" opacity="0.4" fill="none" filter="url(#bl_s)"/>
<path d="M226.5 153.5V201.0M231.5 144.8V201.0M242.1 147.4V201.0M249.2 168.0V201.0M255.5 160.8V201.0" stroke="url(#hot_b)" stroke-width="1.2" opacity="0.6" fill="none" filter="url(#bl_s)"/>
<path d="M123.0 135.4V201.0M136.0 135.0V201.0" stroke="url(#stk_b)" stroke-width="1.2" opacity="0.6" fill="none" filter="url(#bl_s)"/>
<path d="M161.1 132.6V201.0M165.5 137.4V201.0M173.0 121.6V201.0M176.9 130.3V201.0M194.4 131.4V201.0M214.0 133.8V201.0" stroke="url(#hot_b)" stroke-width="1.4" opacity="0.6" fill="none" filter="url(#bl_s)"/>
<path d="M104.5 122.2V201.0M113.7 136.8V201.0M130.0 120.0V201.0" stroke="url(#stk_b)" stroke-width="1.2" opacity="0.8" fill="none" filter="url(#bl_s)"/>
<path d="M141.3 121.6V201.0M146.7 137.4V201.0M151.3 130.4V201.0M157.0 130.0V201.0M169.6 143.1V201.0M182.0 136.4V201.0M185.3 142.4V201.0M190.3 137.4V201.0M199.0 127.9V201.0M202.8 129.8V201.0M208.3 132.0V201.0M219.8 129.6V201.0" stroke="url(#hot_b)" stroke-width="1.4" opacity="0.8" fill="none" filter="url(#bl_s)"/>
<path d="M83.6 119.3V201.0M109.5 119.3V201.0M124.5 119.3V201.0" stroke="url(#stk_b)" stroke-width="1.4" opacity="0.8" fill="none" filter="url(#bl_s)"/>
<path d="M36.0 207.0L36.0 190.7L37.0 189.7L38.0 192.4L39.0 190.5L40.0 192.1L41.0 191.4L42.0 192.3L43.0 191.8L44.0 189.9L45.0 192.4L46.0 191.7L47.0 189.9L48.0 191.6L49.0 190.2L50.0 191.3L51.0 191.9L52.0 190.5L53.0 190.8L54.0 191.8L55.0 189.5L56.0 192.9L57.0 190.0L58.0 190.5L59.0 190.5L60.0 191.4L61.0 190.4L62.0 193.0L63.0 190.6L64.0 189.9L65.0 191.6L66.0 190.3L67.0 190.5L68.0 191.2L69.0 190.2L70.0 191.3L71.0 192.6L72.0 191.1L73.0 190.2L74.0 192.5L75.0 191.3L76.0 189.9L77.0 193.0L78.0 189.8L79.0 191.7L80.0 191.7L81.0 190.4L82.0 190.8L83.0 191.9L84.0 192.4L85.0 191.4L86.0 189.6L87.0 189.2L88.0 190.2L89.0 190.3L90.0 190.3L91.0 189.5L92.0 192.3L93.0 192.4L94.0 189.7L95.0 192.9L96.0 190.9L97.0 191.3L98.0 189.3L99.0 190.3L100.0 191.8L101.0 192.4L102.0 190.8L103.0 190.4L104.0 190.7L105.0 190.1L106.0 192.2L107.0 190.9L108.0 189.0L109.0 191.1L110.0 191.4L111.0 191.4L112.0 188.3L113.0 188.5L114.0 190.3L115.0 190.6L116.0 190.4L117.0 188.2L118.0 188.0L119.0 187.8L120.0 188.1L121.0 188.8L122.0 191.1L123.0 187.5L124.0 190.8L125.0 188.3L126.0 189.8L127.0 191.2L128.0 188.4L129.0 190.1L130.0 187.3L131.0 190.4L132.0 188.3L133.0 189.2L134.0 190.9L135.0 189.9L136.0 189.8L137.0 187.7L138.0 187.7L139.0 187.0L140.0 190.3L141.0 190.1L142.0 189.4L143.0 189.6L144.0 190.1L145.0 187.7L146.0 191.0L147.0 188.7L148.0 190.4L149.0 189.6L150.0 189.7L151.0 188.9L152.0 186.8L153.0 187.7L154.0 189.1L155.0 186.6L156.0 189.8L157.0 190.1L158.0 188.1L159.0 187.5L160.0 187.7L161.0 188.6L162.0 187.7L163.0 189.4L164.0 186.7L165.0 187.6L166.0 187.3L167.0 188.4L168.0 186.8L169.0 188.7L170.0 186.6L171.0 188.8L172.0 186.6L173.0 189.4L174.0 188.5L175.0 188.3L176.0 188.3L177.0 187.0L178.0 187.0L179.0 189.9L180.0 187.6L181.0 188.3L182.0 188.9L183.0 190.2L184.0 186.6L185.0 186.2L186.0 187.4L187.0 188.1L188.0 190.3L189.0 189.2L190.0 189.1L191.0 190.2L192.0 188.9L193.0 188.9L194.0 188.7L195.0 190.2L196.0 190.0L197.0 186.3L198.0 188.0L199.0 189.5L200.0 188.5L201.0 188.9L202.0 188.3L203.0 189.7L204.0 187.1L205.0 186.3L206.0 187.6L207.0 186.1L208.0 186.8L209.0 188.0L210.0 188.1L211.0 187.3L212.0 188.7L213.0 190.0L214.0 188.3L215.0 186.7L216.0 187.3L217.0 190.2L218.0 186.6L219.0 190.1L220.0 188.0L221.0 189.5L222.0 188.9L223.0 189.2L224.0 187.5L225.0 187.0L226.0 185.6L227.0 186.8L228.0 188.4L229.0 188.0L230.0 187.2L231.0 186.4L232.0 185.6L233.0 184.4L234.0 184.6L235.0 179.9L236.0 182.1L237.0 180.5L238.0 177.7L239.0 181.0L240.0 178.0L241.0 180.5L242.0 176.5L243.0 172.4L244.0 174.3L245.0 175.6L246.0 172.5L247.0 173.2L248.0 172.8L249.0 171.3L250.0 170.2L251.0 168.3L252.0 167.1L253.0 166.8L254.0 167.7L255.0 168.4L256.0 167.0L257.0 172.1L258.0 171.8L259.0 165.5L260.0 168.9L261.0 172.5L262.0 158.3L263.0 166.0L264.0 165.4L265.0 159.7L266.0 168.1L267.0 163.0L268.0 169.6L269.0 165.8L270.0 170.7L271.0 170.3L272.0 170.5L273.0 171.1L274.0 176.1L275.0 173.3L276.0 178.0L277.0 178.3L278.0 175.3L279.0 180.5L280.0 179.6L281.0 182.3L282.0 180.0L283.0 183.3L284.0 182.8L285.0 180.0L286.0 183.8L287.0 184.2L288.0 187.5L289.0 186.7L290.0 188.0L291.0 185.9L292.0 188.7L293.0 188.6L294.0 188.7L295.0 185.8L296.0 186.3L297.0 188.0L298.0 187.9L299.0 188.1L300.0 186.8L301.0 186.7L302.0 188.8L303.0 188.7L304.0 186.4L305.0 188.1L306.0 186.2L307.0 188.6L308.0 188.9L309.0 189.1L310.0 185.3L311.0 186.8L312.0 189.3L313.0 187.7L314.0 186.4L315.0 188.4L316.0 185.4L317.0 189.4L318.0 186.9L319.0 186.6L320.0 188.5L321.0 184.7L322.0 186.8L323.0 188.8L324.0 185.8L325.0 189.3L326.0 186.1L327.0 185.4L328.0 186.3L329.0 189.3L330.0 189.1L331.0 185.4L332.0 185.3L333.0 188.1L334.0 184.9L335.0 185.5L336.0 188.9L337.0 185.2L338.0 189.3L339.0 187.8L340.0 188.4L341.0 188.4L342.0 187.0L343.0 189.2L344.0 184.8L345.0 188.4L346.0 186.1L347.0 187.7L348.0 185.0L349.0 186.7L350.0 187.0L351.0 185.7L352.0 186.7L353.0 187.2L354.0 188.6L355.0 185.6L356.0 186.4L357.0 187.2L358.0 184.7L359.0 187.2L359.8 207.0Z" fill="#ff32ff" opacity="0.78" filter="url(#bl_m)"/>
<path d="M36.0 204.0L36.0 197.9L37.0 197.0L38.0 197.0L39.0 196.9L40.0 197.1L41.0 197.7L42.0 197.8L43.0 197.2L44.0 197.9L45.0 197.5L46.0 197.0L47.0 197.1L48.0 197.6L49.0 197.4L50.0 197.3L51.0 196.9L52.0 197.2L53.0 197.3L54.0 197.1L55.0 197.7L56.0 197.3L57.0 197.1L58.0 197.5L59.0 197.0L60.0 197.1L61.0 197.2L62.0 197.0L63.0 197.5L64.0 197.9L65.0 197.0L66.0 197.2L67.0 196.1L68.0 196.8L69.0 197.2L70.0 197.7L71.0 196.8L72.0 197.4L73.0 196.8L74.0 196.9L75.0 197.3L76.0 197.9L77.0 197.2L78.0 197.0L79.0 196.0L80.0 197.0L81.0 197.0L82.0 197.0L83.0 197.6L84.0 196.2L85.0 196.9L86.0 195.8L87.0 197.8L88.0 197.0L89.0 195.4L90.0 196.2L91.0 196.7L92.0 197.0L93.0 196.8L94.0 197.2L95.0 196.8L96.0 194.4L97.0 194.7L98.0 194.0L99.0 194.8L100.0 195.8L101.0 195.5L102.0 195.2L103.0 195.5L104.0 195.4L105.0 194.9L106.0 194.9L107.0 192.4L108.0 195.4L109.0 195.2L110.0 195.0L111.0 194.3L112.0 193.7L113.0 194.9L114.0 195.1L115.0 192.8L116.0 194.0L117.0 193.1L118.0 194.8L119.0 193.9L120.0 194.7L121.0 194.4L122.0 194.7L123.0 192.5L124.0 193.4L125.0 195.0L126.0 195.1L127.0 192.6L128.0 193.1L129.0 192.1L130.0 194.2L131.0 192.9L132.0 191.6L133.0 187.7L134.0 191.3L135.0 185.6L136.0 190.6L137.0 189.6L138.0 191.7L139.0 189.9L140.0 189.3L141.0 189.0L142.0 186.8L143.0 192.3L144.0 191.6L145.0 185.9L146.0 192.1L147.0 190.5L148.0 190.7L149.0 188.5L150.0 186.0L151.0 191.5L152.0 191.8L153.0 191.5L154.0 192.1L155.0 192.2L156.0 186.7L157.0 191.3L158.0 186.6L159.0 188.9L160.0 191.1L161.0 190.5L162.0 190.3L163.0 191.7L164.0 191.6L165.0 191.9L166.0 191.5L167.0 191.8L168.0 186.1L169.0 191.0L170.0 191.2L171.0 188.3L172.0 192.3L173.0 191.3L174.0 190.6L175.0 190.9L176.0 190.9L177.0 190.9L178.0 191.2L179.0 191.8L180.0 189.6L181.0 187.3L182.0 191.2L183.0 188.5L184.0 192.0L185.0 188.2L186.0 186.6L187.0 187.1L188.0 190.7L189.0 187.8L190.0 185.4L191.0 191.5L192.0 190.4L193.0 188.1L194.0 191.5L195.0 189.2L196.0 190.2L197.0 190.3L198.0 191.0L199.0 188.8L200.0 191.0L201.0 186.1L202.0 188.8L203.0 191.7L204.0 190.4L205.0 190.1L206.0 188.8L207.0 190.9L208.0 190.7L209.0 187.4L210.0 191.2L211.0 187.0L212.0 190.3L213.0 185.7L214.0 184.9L215.0 191.3L216.0 189.9L217.0 190.7L218.0 191.1L219.0 191.1L220.0 190.4L221.0 191.0L222.0 188.6L223.0 191.4L224.0 191.5L225.0 191.1L226.0 191.6L227.0 188.1L228.0 190.2L229.0 188.8L230.0 187.1L231.0 189.3L232.0 191.5L233.0 191.5L234.0 190.6L235.0 188.9L236.0 190.4L237.0 190.7L238.0 190.8L239.0 189.9L240.0 191.4L241.0 190.0L242.0 191.4L243.0 189.7L244.0 190.7L245.0 189.7L246.0 190.9L247.0 191.4L248.0 190.1L249.0 190.1L250.0 190.1L251.0 191.0L252.0 187.5L253.0 191.5L254.0 191.2L255.0 191.7L256.0 188.4L257.0 190.7L258.0 191.1L259.0 189.9L260.0 188.4L261.0 190.4L262.0 186.1L263.0 187.1L264.0 188.1L265.0 186.4L266.0 187.2L267.0 187.0L268.0 187.2L269.0 188.2L270.0 187.8L271.0 186.2L272.0 187.4L273.0 186.1L274.0 185.5L275.0 187.8L276.0 187.3L277.0 186.7L278.0 187.3L279.0 187.3L280.0 185.6L281.0 187.2L282.0 187.8L283.0 187.3L284.0 187.7L285.0 186.9L286.0 186.5L287.0 188.0L288.0 187.2L289.0 188.6L290.0 186.8L291.0 186.3L292.0 187.1L293.0 186.7L294.0 185.5L295.0 186.9L296.0 187.4L297.0 185.1L298.0 188.1L299.0 186.9L300.0 187.8L301.0 186.1L302.0 187.1L303.0 187.9L304.0 188.0L305.0 185.9L306.0 186.9L307.0 186.3L308.0 187.5L309.0 188.2L310.0 186.2L311.0 186.9L312.0 185.4L313.0 188.3L314.0 186.1L315.0 186.8L316.0 188.5L317.0 187.3L318.0 188.5L319.0 188.2L320.0 188.7L321.0 187.1L322.0 188.3L323.0 187.1L324.0 186.5L325.0 187.5L326.0 187.4L327.0 187.9L328.0 188.1L329.0 188.9L330.0 188.0L331.0 187.4L332.0 187.4L333.0 186.8L334.0 186.1L335.0 187.3L336.0 186.8L337.0 188.1L338.0 186.5L339.0 185.4L340.0 186.8L341.0 185.1L342.0 187.9L343.0 186.4L344.0 187.2L345.0 186.7L346.0 187.5L347.0 187.2L348.0 188.0L349.0 187.4L350.0 187.4L351.0 187.7L352.0 185.9L353.0 186.8L354.0 187.3L355.0 187.0L356.0 186.5L357.0 185.3L358.0 186.4L359.0 185.8L359.8 204.0Z" fill="#ff2a30" opacity="0.35" filter="url(#bl_y)"/>
<path d="M36.0 204.0L36.0 198.9L37.0 198.8L38.0 198.7L39.0 198.6L40.0 198.8L41.0 198.6L42.0 198.7L43.0 198.8L44.0 198.8L45.0 198.7L46.0 198.6L47.0 198.8L48.0 198.8L49.0 198.6L50.0 198.8L51.0 198.7L52.0 198.7L53.0 198.5L54.0 198.1L55.0 198.7L56.0 198.7L57.0 198.6L58.0 198.5L59.0 198.5L60.0 198.5L61.0 198.5L62.0 198.3L63.0 198.7L64.0 198.7L65.0 198.3L66.0 198.7L67.0 197.8L68.0 198.6L69.0 198.6L70.0 198.7L71.0 198.4L72.0 198.6L73.0 198.6L74.0 198.7L75.0 198.2L76.0 198.7L77.0 198.0L78.0 198.5L79.0 197.3L80.0 198.5L81.0 198.1L82.0 198.4L83.0 198.5L84.0 197.2L85.0 198.5L86.0 196.8L87.0 198.7L88.0 198.5L89.0 197.2L90.0 197.9L91.0 198.4L92.0 198.5L93.0 197.5L94.0 198.2L95.0 198.2L96.0 195.7L97.0 196.3L98.0 194.8L99.0 196.2L100.0 196.6L101.0 197.1L102.0 196.1L103.0 196.8L104.0 196.9L105.0 196.7L106.0 196.5L107.0 194.0L108.0 196.5L109.0 196.6L110.0 196.4L111.0 195.6L112.0 195.1L113.0 196.1L114.0 196.3L115.0 194.4L116.0 195.5L117.0 194.9L118.0 196.6L119.0 195.5L120.0 195.6L121.0 195.7L122.0 195.9L123.0 194.1L124.0 195.2L125.0 196.0L126.0 195.9L127.0 194.3L128.0 194.9L129.0 193.3L130.0 195.6L131.0 194.1L132.0 192.8L133.0 189.1L134.0 192.8L135.0 187.4L136.0 191.8L137.0 190.9L138.0 193.0L139.0 191.7L140.0 190.6L141.0 190.8L142.0 188.5L143.0 193.1L144.0 193.2L145.0 186.8L146.0 193.4L147.0 191.9L148.0 191.5L149.0 189.9L150.0 187.5L151.0 192.6L152.0 193.1L153.0 192.7L154.0 193.0L155.0 193.3L156.0 188.4L157.0 192.7L158.0 188.0L159.0 190.6L160.0 192.7L161.0 192.1L162.0 191.5L163.0 193.0L164.0 192.7L165.0 192.8L166.0 193.2L167.0 192.7L168.0 187.3L169.0 192.6L170.0 192.3L171.0 190.0L172.0 193.1L173.0 192.3L174.0 191.9L175.0 192.3L176.0 192.5L177.0 192.6L178.0 192.9L179.0 192.8L180.0 191.4L181.0 188.2L182.0 192.4L183.0 189.6L184.0 192.8L185.0 189.2L186.0 188.4L187.0 188.9L188.0 191.8L189.0 189.6L190.0 186.9L191.0 192.3L192.0 191.8L193.0 189.1L194.0 192.6L195.0 190.7L196.0 191.2L197.0 191.4L198.0 191.8L199.0 189.9L200.0 192.1L201.0 187.0L202.0 189.7L203.0 192.9L204.0 191.3L205.0 191.9L206.0 189.8L207.0 192.1L208.0 191.5L209.0 189.0L210.0 192.2L211.0 187.9L212.0 191.4L213.0 187.4L214.0 186.6L215.0 192.6L216.0 191.3L217.0 191.6L218.0 192.8L219.0 192.7L220.0 191.4L221.0 192.7L222.0 189.5L223.0 192.6L224.0 192.5L225.0 192.4L226.0 192.7L227.0 189.5L228.0 191.3L229.0 189.6L230.0 188.0L231.0 190.9L232.0 192.7L233.0 192.8L234.0 192.1L235.0 190.0L236.0 191.4L237.0 192.0L238.0 192.3L239.0 191.5L240.0 192.6L241.0 191.4L242.0 192.5L243.0 191.5L244.0 192.1L245.0 191.3L246.0 192.1L247.0 192.8L248.0 191.6L249.0 191.4L250.0 191.6L251.0 192.1L252.0 189.1L253.0 192.6L254.0 192.6L255.0 192.7L256.0 189.6L257.0 192.4L258.0 191.9L259.0 190.9L260.0 189.7L261.0 191.9L262.0 187.6L263.0 188.6L264.0 189.7L265.0 187.8L266.0 188.1L267.0 188.3L268.0 188.2L269.0 189.0L270.0 189.1L271.0 188.0L272.0 188.7L273.0 187.6L274.0 186.9L275.0 188.6L276.0 188.7L277.0 188.5L278.0 188.8L279.0 188.4L280.0 187.3L281.0 188.6L282.0 189.5L283.0 189.0L284.0 189.0L285.0 188.2L286.0 187.8L287.0 189.1L288.0 188.9L289.0 189.5L290.0 188.6L291.0 187.5L292.0 188.3L293.0 188.1L294.0 186.6L295.0 188.3L296.0 188.3L297.0 186.8L298.0 189.0L299.0 188.5L300.0 189.5L301.0 187.7L302.0 188.7L303.0 188.8L304.0 189.4L305.0 186.7L306.0 188.4L307.0 187.9L308.0 188.5L309.0 189.4L310.0 187.1L311.0 188.3L312.0 186.9L313.0 189.1L314.0 187.5L315.0 188.5L316.0 189.4L317.0 189.1L318.0 189.6L319.0 189.0L320.0 189.5L321.0 188.7L322.0 189.3L323.0 188.8L324.0 187.8L325.0 188.4L326.0 189.0L327.0 189.0L328.0 189.0L329.0 189.7L330.0 189.1L331.0 188.7L332.0 188.7L333.0 188.2L334.0 187.0L335.0 188.1L336.0 188.5L337.0 189.3L338.0 188.0L339.0 187.1L340.0 188.2L341.0 186.6L342.0 188.9L343.0 187.4L344.0 188.5L345.0 188.5L346.0 189.3L347.0 188.3L348.0 189.4L349.0 188.5L350.0 188.6L351.0 188.7L352.0 187.8L353.0 187.9L354.0 188.6L355.0 187.9L356.0 188.2L357.0 186.1L358.0 188.1L359.0 186.8L359.8 204.0Z" fill="#f2ff3c" filter="url(#bl_y)"/>
<path d="M96.0 196.8h1.2v1.4h-1.2ZM98.0 195.8h1.4v1.4h-1.4ZM99.0 193.5h1.6v1.4h-1.6ZM101.0 193.3h1.5v1.4h-1.5ZM104.0 194.0h1.3v1.4h-1.3ZM107.0 195.6h1.4v1.4h-1.4ZM111.0 195.4h1.3v1.4h-1.3ZM113.0 195.7h1.6v1.4h-1.6ZM114.0 192.7h1.5v1.4h-1.5ZM118.0 194.5h1.6v1.4h-1.6ZM119.0 195.7h1.1v1.4h-1.1ZM128.0 192.0h1.4v1.4h-1.4ZM132.0 186.6h1.0v1.4h-1.0ZM134.0 190.4h1.1v1.4h-1.1ZM135.0 189.7h1.1v1.4h-1.1ZM136.0 185.3h1.1v1.4h-1.1ZM139.0 184.3h1.2v1.4h-1.2ZM141.0 192.7h1.6v1.4h-1.6ZM145.0 193.0h1.5v1.4h-1.5ZM147.0 182.6h1.2v1.4h-1.2ZM151.0 180.2h1.1v1.4h-1.1ZM152.0 188.6h1.3v1.4h-1.3ZM156.0 189.8h1.4v1.4h-1.4ZM158.0 190.8h1.3v1.4h-1.3ZM159.0 188.7h1.6v1.4h-1.6ZM160.0 183.2h1.5v1.4h-1.5ZM163.0 188.1h1.5v1.4h-1.5ZM165.0 183.2h1.1v1.4h-1.1ZM169.0 187.3h1.2v1.4h-1.2ZM174.0 191.8h1.4v1.4h-1.4ZM178.0 193.5h1.0v1.4h-1.0ZM180.0 193.7h1.5v1.4h-1.5ZM181.0 190.9h1.5v1.4h-1.5ZM183.0 180.6h1.3v1.4h-1.3ZM188.0 187.8h1.4v1.4h-1.4ZM191.0 193.1h1.3v1.4h-1.3ZM192.0 190.9h1.6v1.4h-1.6ZM193.0 192.5h1.4v1.4h-1.4ZM196.0 184.6h1.2v1.4h-1.2ZM199.0 190.6h1.3v1.4h-1.3ZM203.0 186.5h1.5v1.4h-1.5ZM205.0 192.0h1.4v1.4h-1.4ZM206.0 192.4h1.2v1.4h-1.2ZM210.0 190.9h1.0v1.4h-1.0ZM214.0 191.8h1.1v1.4h-1.1ZM218.0 193.2h1.2v1.4h-1.2ZM220.0 180.0h1.5v1.4h-1.5ZM221.0 193.8h1.5v1.4h-1.5ZM222.0 186.1h1.3v1.4h-1.3ZM225.0 189.9h1.5v1.4h-1.5ZM226.0 192.9h1.5v1.4h-1.5ZM227.0 193.5h1.5v1.4h-1.5ZM230.0 193.5h1.0v1.4h-1.0ZM231.0 192.7h1.6v1.4h-1.6ZM233.0 192.3h1.3v1.4h-1.3ZM234.0 193.7h1.1v1.4h-1.1ZM235.0 193.8h1.6v1.4h-1.6ZM244.0 191.2h1.6v1.4h-1.6ZM249.0 192.3h1.4v1.4h-1.4ZM250.0 188.1h1.2v1.4h-1.2Z" fill="#ff3040" opacity="0.5" filter="url(#bl_y)"/>
<path d="M96.0 198.0h1.2V201.0h-1.2ZM98.0 197.0h1.4V201.0h-1.4ZM99.0 194.7h1.6V201.0h-1.6ZM101.0 194.5h1.5V201.0h-1.5ZM104.0 195.2h1.3V201.0h-1.3ZM107.0 196.8h1.4V201.0h-1.4ZM111.0 196.6h1.3V201.0h-1.3ZM113.0 196.9h1.6V201.0h-1.6ZM114.0 193.9h1.5V201.0h-1.5ZM118.0 195.7h1.6V201.0h-1.6ZM119.0 196.9h1.1V201.0h-1.1ZM128.0 193.2h1.4V201.0h-1.4ZM132.0 187.8h1.0V201.0h-1.0ZM134.0 191.6h1.1V201.0h-1.1ZM135.0 190.9h1.1V201.0h-1.1ZM136.0 186.5h1.1V201.0h-1.1ZM139.0 185.5h1.2V201.0h-1.2ZM141.0 193.9h1.6V201.0h-1.6ZM145.0 194.2h1.5V201.0h-1.5ZM147.0 183.8h1.2V201.0h-1.2ZM151.0 181.4h1.1V201.0h-1.1ZM152.0 189.8h1.3V201.0h-1.3ZM156.0 191.0h1.4V201.0h-1.4ZM158.0 192.0h1.3V201.0h-1.3ZM159.0 189.9h1.6V201.0h-1.6ZM160.0 184.4h1.5V201.0h-1.5ZM163.0 189.3h1.5V201.0h-1.5ZM165.0 184.4h1.1V201.0h-1.1ZM169.0 188.5h1.2V201.0h-1.2ZM174.0 193.0h1.4V201.0h-1.4ZM178.0 194.7h1.0V201.0h-1.0ZM180.0 194.9h1.5V201.0h-1.5ZM181.0 192.1h1.5V201.0h-1.5ZM183.0 181.8h1.3V201.0h-1.3ZM188.0 189.0h1.4V201.0h-1.4ZM191.0 194.3h1.3V201.0h-1.3ZM192.0 192.1h1.6V201.0h-1.6ZM193.0 193.7h1.4V201.0h-1.4ZM196.0 185.8h1.2V201.0h-1.2ZM199.0 191.8h1.3V201.0h-1.3ZM203.0 187.7h1.5V201.0h-1.5ZM205.0 193.2h1.4V201.0h-1.4ZM206.0 193.6h1.2V201.0h-1.2ZM210.0 192.1h1.0V201.0h-1.0ZM214.0 193.0h1.1V201.0h-1.1ZM218.0 194.4h1.2V201.0h-1.2ZM220.0 181.2h1.5V201.0h-1.5ZM221.0 195.0h1.5V201.0h-1.5ZM222.0 187.3h1.3V201.0h-1.3ZM225.0 191.1h1.5V201.0h-1.5ZM226.0 194.1h1.5V201.0h-1.5ZM227.0 194.7h1.5V201.0h-1.5ZM230.0 194.7h1.0V201.0h-1.0ZM231.0 193.9h1.6V201.0h-1.6ZM233.0 193.5h1.3V201.0h-1.3ZM234.0 194.9h1.1V201.0h-1.1ZM235.0 195.0h1.6V201.0h-1.6ZM244.0 192.4h1.6V201.0h-1.6ZM249.0 193.5h1.4V201.0h-1.4ZM250.0 189.3h1.2V201.0h-1.2Z" fill="#f2ff3c" filter="url(#bl_y)"/>
<path d="M36.0 195.2h1.3v1.4h-1.3ZM37.0 198.4h1.3v1.9h-1.3ZM38.0 194.3h1.3v1.5h-1.3ZM39.0 195.2h1.3v1.6h-1.3ZM40.0 197.8h1.3v2.1h-1.3ZM41.0 194.3h1.3v1.4h-1.3ZM42.0 196.5h1.3v1.6h-1.3ZM43.0 198.5h1.3v1.9h-1.3ZM44.0 197.2h1.3v2.5h-1.3ZM45.0 197.2h1.3v1.7h-1.3ZM46.0 198.5h1.3v1.8h-1.3ZM47.0 195.0h1.3v1.3h-1.3ZM48.0 194.5h1.3v1.7h-1.3ZM49.0 194.6h1.3v1.6h-1.3ZM50.0 195.1h1.3v1.6h-1.3ZM51.0 199.0h1.3v2.0h-1.3ZM52.0 198.0h1.3v1.5h-1.3ZM55.0 197.4h1.3v1.6h-1.3ZM56.0 197.1h1.3v2.4h-1.3ZM57.0 197.2h1.3v1.9h-1.3ZM58.0 197.3h1.3v2.1h-1.3ZM59.0 198.2h1.3v2.4h-1.3ZM60.0 195.5h1.3v2.4h-1.3ZM61.0 195.2h1.3v2.2h-1.3ZM62.0 194.4h1.3v1.4h-1.3ZM63.0 194.1h1.3v1.9h-1.3ZM65.0 195.8h1.3v1.8h-1.3ZM66.0 195.3h1.3v2.1h-1.3ZM67.0 197.9h1.3v2.0h-1.3ZM68.0 195.3h1.3v1.4h-1.3ZM69.0 198.9h1.3v2.5h-1.3ZM70.0 197.8h1.3v2.0h-1.3ZM71.0 196.2h1.3v2.2h-1.3ZM74.0 196.3h1.3v1.9h-1.3ZM75.0 198.8h1.3v2.4h-1.3ZM77.0 198.1h1.3v2.0h-1.3ZM78.0 197.4h1.3v2.2h-1.3ZM80.0 195.1h1.3v2.1h-1.3ZM81.0 198.3h1.3v1.7h-1.3ZM82.0 198.0h1.3v1.4h-1.3ZM83.0 198.1h1.3v1.5h-1.3ZM84.0 197.9h1.3v1.3h-1.3ZM85.0 197.3h1.3v1.4h-1.3ZM86.0 197.0h1.3v1.3h-1.3ZM87.0 198.8h1.3v2.2h-1.3ZM88.0 196.7h1.3v1.4h-1.3ZM89.0 194.1h1.3v2.1h-1.3ZM90.0 198.0h1.3v1.4h-1.3ZM92.0 195.2h1.3v2.2h-1.3ZM93.0 196.9h1.3v1.7h-1.3ZM94.0 195.7h1.3v1.8h-1.3ZM95.0 196.8h1.3v2.3h-1.3Z" fill="#f2ff3c" opacity="0.9" filter="url(#bl_y)"/>
<path d="M107 151.6 Q118 152.5 130 150.8 T150 150.6 T172 147" stroke="#ff50ff" stroke-width="2.4" opacity="0.5" stroke-dasharray="2.5 1" fill="none" filter="url(#bl_y)"/>
<path d="M36.0 199.6h1.5v1.4h-1.5ZM38.0 199.6h1.5v1.4h-1.5ZM42.0 199.6h1.8v1.4h-1.8ZM44.0 199.6h2.2v1.4h-2.2ZM46.0 199.6h2.3v1.4h-2.3ZM48.0 199.6h1.6v1.4h-1.6ZM50.0 199.6h1.1v1.4h-1.1ZM54.0 199.6h2.8v1.4h-2.8ZM60.0 199.6h2.1v1.4h-2.1ZM62.0 199.6h2.1v1.4h-2.1ZM64.0 199.6h1.4v1.4h-1.4ZM66.0 199.6h2.6v1.4h-2.6ZM74.0 199.6h2.1v1.4h-2.1ZM76.0 199.6h2.7v1.4h-2.7ZM80.0 199.6h1.6v1.4h-1.6ZM84.0 199.6h1.2v1.4h-1.2ZM88.0 199.6h1.2v1.4h-1.2ZM92.0 199.6h1.4v1.4h-1.4ZM94.0 199.6h1.5v1.4h-1.5ZM96.0 199.6h1.9v1.4h-1.9ZM100.0 199.6h1.9v1.4h-1.9ZM108.0 199.6h2.6v1.4h-2.6ZM118.0 199.6h2.9v1.4h-2.9ZM122.0 199.6h2.1v1.4h-2.1ZM124.0 199.6h1.5v1.4h-1.5ZM128.0 199.6h1.0v1.4h-1.0ZM136.0 199.6h1.6v1.4h-1.6ZM138.0 199.6h2.8v1.4h-2.8ZM142.0 199.6h1.9v1.4h-1.9ZM148.0 199.6h2.1v1.4h-2.1ZM150.0 199.6h1.1v1.4h-1.1ZM152.0 199.6h2.0v1.4h-2.0ZM154.0 199.6h2.8v1.4h-2.8ZM156.0 199.6h1.0v1.4h-1.0ZM164.0 199.6h2.8v1.4h-2.8ZM172.0 199.6h1.9v1.4h-1.9ZM174.0 199.6h2.3v1.4h-2.3ZM176.0 199.6h1.9v1.4h-1.9ZM178.0 199.6h1.4v1.4h-1.4ZM180.0 199.6h2.5v1.4h-2.5ZM182.0 199.6h1.3v1.4h-1.3ZM188.0 199.6h2.7v1.4h-2.7ZM194.0 199.6h2.9v1.4h-2.9ZM196.0 199.6h2.0v1.4h-2.0ZM198.0 199.6h1.6v1.4h-1.6ZM200.0 199.6h1.5v1.4h-1.5ZM202.0 199.6h1.4v1.4h-1.4ZM204.0 199.6h2.1v1.4h-2.1ZM206.0 199.6h2.6v1.4h-2.6ZM214.0 199.6h2.3v1.4h-2.3ZM218.0 199.6h1.3v1.4h-1.3ZM220.0 199.6h1.4v1.4h-1.4ZM226.0 199.6h1.0v1.4h-1.0ZM228.0 199.6h2.7v1.4h-2.7ZM230.0 199.6h2.1v1.4h-2.1ZM232.0 199.6h1.8v1.4h-1.8ZM238.0 199.6h1.8v1.4h-1.8ZM246.0 199.6h1.1v1.4h-1.1ZM248.0 199.6h2.1v1.4h-2.1ZM252.0 199.6h2.2v1.4h-2.2ZM254.0 199.6h2.5v1.4h-2.5ZM258.0 199.6h2.3v1.4h-2.3ZM260.0 199.6h1.5v1.4h-1.5ZM264.0 199.6h1.8v1.4h-1.8ZM268.0 199.6h1.8v1.4h-1.8ZM270.0 199.6h1.7v1.4h-1.7ZM280.0 199.6h1.6v1.4h-1.6ZM292.0 199.6h2.3v1.4h-2.3ZM294.0 199.6h2.4v1.4h-2.4ZM300.0 199.6h1.7v1.4h-1.7ZM302.0 199.6h2.7v1.4h-2.7ZM306.0 199.6h2.1v1.4h-2.1ZM310.0 199.6h1.4v1.4h-1.4ZM316.0 199.6h2.1v1.4h-2.1ZM318.0 199.6h1.5v1.4h-1.5ZM320.0 199.6h2.3v1.4h-2.3ZM324.0 199.6h1.4v1.4h-1.4ZM326.0 199.6h1.6v1.4h-1.6ZM330.0 199.6h1.5v1.4h-1.5ZM332.0 199.6h2.7v1.4h-2.7ZM336.0 199.6h1.3v1.4h-1.3ZM338.0 199.6h2.3v1.4h-2.3ZM342.0 199.6h1.6v1.4h-1.6ZM346.0 199.6h2.5v1.4h-2.5ZM352.0 199.6h2.5v1.4h-2.5ZM356.0 199.6h2.2v1.4h-2.2Z" fill="#e040e0" opacity="0.8"/>
<rect x="36.0" y="119.3" width="323.8" height="0.9" fill="#8a80ff"/>
</svg>
<line x1="35.30" y1="119.00" x2="35.30" y2="202.20" stroke="#000" stroke-width="1.3" />
<line x1="34.70" y1="201.50" x2="360.10" y2="201.50" stroke="#000" stroke-width="1.6" />
<line x1="32.80" y1="119.50" x2="35.30" y2="119.50" stroke="#000" stroke-width="1.2" />
<text x="11.25" y="123.30" font-size="12.40" fill="#000">100</text>
<line x1="32.80" y1="160.15" x2="35.30" y2="160.15" stroke="#000" stroke-width="1.2" />
<text x="18.13" y="163.95" font-size="12.40" fill="#000">50</text>
<line x1="32.80" y1="201.30" x2="35.30" y2="201.30" stroke="#000" stroke-width="1.2" />
<text x="25.01" y="205.10" font-size="12.40" fill="#000">0</text>
<text x="0" y="0" font-size="10.62" fill="#000" transform="translate(14.10,200.19) rotate(-90)">Frequency (Hz)</text>
<text x="38.50" y="128.70" font-size="11.72" fill="#fff">WT-Veh</text>
<rect x="364.9" y="120.50" width="5.4" height="81.50" fill="url(#cbar)"/>
<text x="371.45" y="125.40" font-size="11.57" fill="#000">Max</text>
<text x="371.43" y="201.90" font-size="11.91" fill="#000">Min</text>
<text x="0" y="0" font-size="11.20" fill="#000" transform="translate(381.30,192.13) rotate(-90)">Power (&#956;V<tspan font-size="7" dy="-4">2</tspan><tspan dy="4">)</tspan></text>
<text x="38.69" y="212.50" font-size="11.43" fill="#000">Time (min)</text>
<line x1="35.80" y1="216.20" x2="99.00" y2="216.20" stroke="#000" stroke-width="1.5" />
<path d="M104.50,216.20 L98.50,213.20 L98.50,219.20 Z" fill="#000"/>
<text x="0.84" y="236.50" font-size="19.00" fill="#000">c</text>
<line x1="37.70" y1="227.30" x2="37.70" y2="234.90" stroke="#000" stroke-width="1.5" />
<path d="M34.10,234.40 L41.30,234.40 L37.70,238.60 Z" fill="#000"/>
<text x="43.18" y="235.70" font-size="9.60" fill="#000">KA</text>
<line x1="248.00" y1="227.50" x2="248.00" y2="235.10" stroke="#000" stroke-width="1.5" />
<path d="M244.40,234.60 L251.60,234.60 L248.00,238.80 Z" fill="#000"/>
<text x="253.28" y="235.20" font-size="9.60" fill="#000">DZ</text>
<path d="M40.5 255.4V259.3M50.0 256.4V259.3M51.5 255.0V259.3M57.5 265.2V269.1M63.0 265.2V271.0M81.5 253.3V258.4M83.0 252.7V258.0M87.0 249.3V257.1M89.5 266.7V272.3M93.5 250.8V256.3M94.5 251.4V256.3M99.0 250.4V256.2M102.5 250.5V256.1M105.5 267.2V274.5M106.5 250.7V256.0M109.5 267.3V271.7M111.0 246.6V255.9M116.5 247.3V255.8M117.0 248.0V255.8M118.5 248.2V255.7M119.5 267.5V274.0M122.5 250.3V255.6M124.5 247.7V255.6M132.0 248.1V255.3M138.0 243.5V255.1M144.0 267.9V272.7M147.0 268.0V273.3M154.0 268.1V274.5M177.5 242.4V254.0M182.0 236.9V253.9M184.0 268.4V274.1M184.5 268.4V275.0M189.5 268.4V276.4M198.5 268.5V276.5M200.0 239.4V253.4M208.0 236.4V253.2M214.5 268.6V274.9M217.5 242.8V253.0M227.0 268.5V276.1M231.0 268.5V275.4M238.5 236.9V252.3M240.0 240.8V252.3M246.0 238.8V252.1M254.0 266.1V271.2M272.0 266.2V269.9M275.0 266.2V269.2M290.0 255.8V258.7M290.0 266.3V269.1M295.5 266.3V268.8M298.0 266.3V269.8M310.5 266.4V269.8M314.5 266.4V271.3M315.0 255.7V258.8M316.0 266.4V270.4M320.0 266.4V270.1M329.5 266.5V270.1M337.5 254.7V258.9M346.5 255.3V259.0M352.0 254.7V259.0M353.5 253.6V259.0M355.0 266.6V269.5M355.5 255.2V259.0M355.5 266.6V269.6" stroke="#888" stroke-width="0.6" fill="none"/><path d="" stroke="#222" stroke-width="0.7" fill="none"/><path d="M36.0 258.1V265.8M36.5 258.3V265.9M37.0 258.2V266.0M37.5 257.0V266.3M38.0 257.3V266.0M38.5 258.7V265.6M39.0 258.7V265.9M39.5 258.6V266.5M40.0 258.9V265.4M40.5 258.9V265.7M41.0 258.2V266.0M41.5 258.7V265.7M42.0 256.1V269.1M42.5 258.8V266.7M43.0 258.5V265.7M43.5 258.5V266.7M44.0 259.1V265.8M44.5 259.1V267.1M45.0 259.1V265.3M45.5 259.0V271.1M46.0 259.0V265.9M46.5 258.8V268.8M47.0 257.3V269.6M47.5 258.4V268.9M48.0 259.1V269.7M48.5 258.1V266.2M49.0 258.9V267.9M49.5 258.2V266.4M50.0 259.2V266.0M50.5 259.0V266.0M51.0 259.2V267.1M51.5 258.8V266.2M52.0 259.0V266.1M52.5 257.6V266.3M53.0 258.7V266.4M53.5 258.3V266.2M54.0 259.0V266.5M54.5 258.4V267.0M55.0 254.0V267.7M55.5 258.3V265.8M56.0 257.2V268.4M56.5 254.4V265.5M57.0 258.5V265.4M57.5 257.4V268.0M58.0 258.5V266.1M58.5 258.3V266.1M59.0 258.8V266.0M59.5 258.7V265.5M60.0 258.5V266.0M60.5 258.4V268.8M61.0 256.1V265.8M61.5 258.5V265.8M62.0 255.6V266.4M62.5 258.0V270.0M63.0 258.5V265.9M63.5 257.8V268.7M64.0 254.8V265.7M64.5 258.3V265.8M65.0 254.4V265.7M65.5 258.0V265.4M66.0 257.7V266.0M66.5 258.7V265.5M67.0 256.3V266.1M67.5 258.9V266.6M68.0 256.5V270.5M68.5 258.8V265.9M69.0 258.8V265.5M69.5 258.9V268.0M70.0 258.8V265.9M70.5 259.1V270.7M71.0 256.6V265.7M71.5 257.6V266.1M72.0 258.8V266.0M72.5 258.7V266.2M73.0 259.1V265.9M73.5 259.2V267.1M74.0 257.0V266.9M74.5 258.0V266.1M75.0 258.6V266.4M75.5 255.9V266.3M76.0 258.7V265.5M76.5 259.0V266.0M77.0 258.6V266.3M77.5 258.9V269.3M78.0 258.7V266.0M78.5 258.7V266.3M79.0 255.3V266.5M79.5 258.1V266.9M80.0 257.2V266.9M80.5 255.1V268.5M81.0 257.9V269.6M81.5 257.4V266.6M82.0 255.0V266.3M82.5 253.4V272.3M83.0 257.0V271.3M83.5 251.6V270.8M84.0 257.0V268.2M84.5 252.8V266.8M85.0 256.2V266.8M85.5 257.4V268.4M86.0 257.6V267.2M86.5 253.6V267.0M87.0 254.0V266.9M87.5 255.3V266.6M88.0 256.1V267.1M88.5 255.8V267.5M89.0 253.8V267.5M89.5 255.5V267.5M90.0 250.3V273.0M90.5 251.1V267.8M91.0 248.1V272.5M91.5 250.7V271.7M92.0 249.2V271.0M92.5 254.1V273.8M93.0 252.7V272.7M93.5 251.0V267.4M94.0 253.8V267.4M94.5 253.7V268.1M95.0 253.2V269.0M95.5 248.5V272.0M96.0 254.6V268.8M96.5 250.2V269.9M97.0 251.6V267.7M97.5 253.3V270.5M98.0 254.5V268.2M98.5 254.9V271.8M99.0 255.2V267.1M99.5 253.3V272.7M100.0 255.5V267.9M100.5 251.8V268.8M101.0 248.9V267.6M101.5 255.5V268.4M102.0 248.3V268.1M102.5 250.3V269.0M103.0 250.7V268.3M103.5 251.6V269.4M104.0 247.9V272.9M104.5 253.8V270.9M105.0 254.9V274.1M105.5 255.7V267.7M106.0 253.7V270.4M106.5 249.2V271.9M107.0 254.4V267.7M107.5 254.5V272.0M108.0 247.7V268.0M108.5 254.9V268.6M109.0 249.1V269.8M109.5 253.6V268.9M110.0 251.1V273.0M110.5 253.9V270.9M111.0 255.1V269.4M111.5 253.7V269.3M112.0 254.2V269.0M112.5 254.6V271.2M113.0 252.1V268.9M113.5 255.2V268.9M114.0 255.3V268.6M114.5 249.6V269.9M115.0 248.7V268.2M115.5 254.1V271.7M116.0 254.9V270.1M116.5 250.1V272.8M117.0 253.9V268.5M117.5 251.4V269.4M118.0 255.0V268.4M118.5 249.9V269.5M119.0 255.2V274.6M119.5 247.6V270.2M120.0 254.2V270.2M120.5 248.6V269.5M121.0 253.4V268.6M121.5 253.7V268.5M122.0 250.4V270.8M122.5 252.5V274.0M123.0 253.5V268.9M123.5 252.3V268.3M124.0 248.9V273.6M124.5 249.3V268.7M125.0 248.0V270.4M125.5 253.6V270.5M126.0 254.4V269.4M126.5 250.7V273.6M127.0 253.6V271.5M127.5 254.0V272.1M128.0 252.8V268.4M128.5 247.5V268.2M129.0 254.5V268.4M129.5 253.1V270.3M130.0 254.0V268.9M130.5 251.6V269.5M131.0 249.0V269.4M131.5 250.9V269.4M132.0 248.4V268.9M132.5 255.2V272.0M133.0 251.1V272.8M133.5 246.0V269.8M134.0 249.9V270.4M134.5 253.2V269.0M135.0 252.5V273.4M135.5 247.5V270.0M136.0 249.2V269.7M136.5 252.0V268.6M137.0 253.8V269.0M137.5 254.2V273.2M138.0 253.0V275.1M138.5 247.3V269.3M139.0 246.0V274.9M139.5 254.2V270.7M140.0 252.0V270.6M140.5 252.5V269.1M141.0 248.1V269.7M141.5 252.5V274.7M142.0 245.2V276.0M142.5 243.1V269.2M143.0 246.0V269.0M143.5 253.4V269.1M144.0 245.7V275.6M144.5 254.4V270.0M145.0 252.7V271.3M145.5 253.1V269.3M146.0 252.8V272.5M146.5 252.4V269.0M147.0 254.1V272.6M147.5 252.7V268.7M148.0 254.3V268.3M148.5 243.3V268.5M149.0 252.1V270.6M149.5 252.7V270.3M150.0 244.9V270.4M150.5 251.7V273.6M151.0 249.2V269.1M151.5 248.3V269.4M152.0 251.4V269.2M152.5 249.7V269.1M153.0 248.1V269.5M153.5 252.7V269.5M154.0 243.4V271.6M154.5 253.5V274.2M155.0 251.3V269.0M155.5 253.0V269.8M156.0 250.1V268.6M156.5 251.6V269.1M157.0 253.1V268.9M157.5 246.1V276.1M158.0 253.4V270.1M158.5 253.9V269.7M159.0 252.6V275.9M159.5 252.7V268.9M160.0 248.6V268.8M160.5 243.0V269.2M161.0 249.9V270.5M161.5 251.2V270.9M162.0 252.1V269.8M162.5 253.5V270.4M163.0 250.4V269.6M163.5 251.8V269.7M164.0 249.9V272.8M164.5 243.6V269.6M165.0 242.0V274.0M165.5 249.6V273.4M166.0 245.9V269.3M166.5 247.0V269.7M167.0 245.7V270.2M167.5 251.1V269.2M168.0 250.9V271.7M168.5 250.8V273.6M169.0 252.4V272.2M169.5 249.8V270.0M170.0 242.0V269.3M170.5 244.0V269.3M171.0 253.6V270.4M171.5 242.1V270.4M172.0 251.3V269.6M172.5 240.8V273.9M173.0 248.0V269.3M173.5 252.8V269.7M174.0 248.4V270.9M174.5 242.6V271.1M175.0 243.2V269.0M175.5 242.9V273.1M176.0 247.8V268.7M176.5 240.1V270.4M177.0 243.1V269.6M177.5 246.1V272.4M178.0 251.0V269.8M178.5 249.4V272.5M179.0 253.5V271.2M179.5 250.1V270.5M180.0 249.0V269.3M180.5 240.9V270.4M181.0 244.8V272.4M181.5 252.0V274.3M182.0 250.7V270.9M182.5 249.1V276.8M183.0 238.1V274.3M183.5 248.8V271.9M184.0 247.1V273.8M184.5 250.4V269.2M185.0 247.8V268.7M185.5 240.3V269.0M186.0 250.9V270.8M186.5 251.2V273.3M187.0 238.1V273.8M187.5 239.6V274.3M188.0 249.2V272.1M188.5 251.0V272.2M189.0 242.4V274.6M189.5 252.5V274.6M190.0 248.2V270.1M190.5 248.7V270.5M191.0 252.3V270.0M191.5 252.0V271.9M192.0 251.4V275.6M192.5 244.1V272.2M193.0 249.9V269.4M193.5 248.1V272.2M194.0 251.9V275.8M194.5 247.0V269.5M195.0 243.6V271.7M195.5 247.8V269.4M196.0 252.2V270.4M196.5 240.4V270.5M197.0 248.3V271.7M197.5 246.5V269.6M198.0 251.5V273.8M198.5 250.9V275.8M199.0 246.9V276.9M199.5 243.3V273.3M200.0 243.9V275.5M200.5 243.3V270.7M201.0 252.3V270.2M201.5 245.3V272.5M202.0 250.6V274.9M202.5 246.3V276.2M203.0 242.6V276.3M203.5 252.1V271.8M204.0 249.2V274.5M204.5 242.0V275.4M205.0 240.9V273.5M205.5 247.9V270.5M206.0 251.6V273.1M206.5 249.8V272.8M207.0 249.7V270.3M207.5 250.2V273.9M208.0 249.8V270.0M208.5 249.0V269.5M209.0 237.2V269.3M209.5 248.5V272.0M210.0 243.6V273.6M210.5 250.5V273.3M211.0 244.1V275.7M211.5 240.7V270.3M212.0 250.6V275.3M212.5 241.6V271.5M213.0 250.6V269.8M213.5 247.7V273.0M214.0 242.3V271.1M214.5 251.0V270.9M215.0 242.5V273.4M215.5 247.6V271.8M216.0 250.3V275.7M216.5 252.0V275.3M217.0 244.4V270.6M217.5 244.7V276.8M218.0 242.4V272.3M218.5 238.6V270.5M219.0 250.7V270.4M219.5 250.4V273.3M220.0 250.4V270.9M220.5 251.2V269.2M221.0 249.1V271.2M221.5 248.8V271.5M222.0 248.9V270.4M222.5 250.3V271.2M223.0 248.7V272.1M223.5 249.3V269.7M224.0 244.8V271.9M224.5 240.1V272.0M225.0 236.7V270.2M225.5 244.5V270.1M226.0 240.6V274.9M226.5 251.1V275.8M227.0 247.6V276.1M227.5 249.7V274.5M228.0 251.5V274.4M228.5 240.4V276.0M229.0 250.6V274.0M229.5 240.9V271.7M230.0 247.5V271.2M230.5 248.4V270.2M231.0 238.2V269.4M231.5 245.5V269.6M232.0 248.0V273.0M232.5 249.7V275.5M233.0 250.0V269.6M233.5 251.1V276.7M234.0 250.5V276.0M234.5 251.3V269.4M235.0 250.5V270.7M235.5 250.8V269.5M236.0 251.5V269.3M236.5 251.9V269.9M237.0 250.9V273.0M237.5 252.0V270.4M238.0 251.2V271.2M238.5 250.9V275.2M239.0 243.9V270.1M239.5 237.4V271.5M240.0 248.5V275.6M240.5 242.7V269.5M241.0 249.9V269.3M241.5 246.7V270.0M242.0 248.4V271.0M242.5 249.7V269.2M243.0 250.0V269.2M243.5 250.6V273.3M244.0 250.6V269.8M244.5 245.0V273.9M245.0 250.0V274.6M245.5 250.2V270.7M246.0 248.9V275.5M246.5 249.9V274.4M247.0 244.0V271.4M247.5 246.0V270.2M248.0 248.3V269.9M248.5 249.5V270.2M249.0 239.6V273.8M249.5 245.9V269.4M250.0 250.4V270.3M250.5 243.2V272.3M251.0 247.6V268.0M251.5 253.8V268.5M252.0 253.7V266.4M252.5 257.5V266.4M253.0 258.0V267.4M253.5 257.6V269.7M254.0 257.3V266.3M254.5 254.4V268.8M255.0 257.2V266.3M255.5 257.2V267.0M256.0 257.4V271.5M256.5 257.4V267.4M257.0 256.3V270.0M257.5 257.2V266.9M258.0 254.0V269.3M258.5 257.7V269.4M259.0 258.0V267.2M259.5 257.8V266.9M260.0 257.7V267.4M260.5 257.7V268.1M261.0 257.9V266.9M261.5 257.8V267.5M262.0 257.3V268.8M262.5 254.6V267.3M263.0 255.9V266.7M263.5 257.5V267.3M264.0 255.4V267.4M264.5 256.1V266.6M265.0 257.9V267.5M265.5 258.1V266.9M266.0 256.7V267.3M266.5 256.7V266.6M267.0 258.1V267.6M267.5 258.3V268.1M268.0 257.6V267.5M268.5 258.0V268.1M269.0 256.4V267.3M269.5 257.2V268.6M270.0 257.8V267.2M270.5 257.2V267.5M271.0 258.2V267.4M271.5 254.4V268.7M272.0 257.6V268.9M272.5 257.1V266.9M273.0 258.2V267.2M273.5 257.7V267.1M274.0 257.5V267.5M274.5 257.7V269.5M275.0 257.7V267.0M275.5 257.5V267.1M276.0 254.8V267.5M276.5 258.1V270.7M277.0 257.2V266.8M277.5 255.9V266.5M278.0 256.8V269.8M278.5 258.2V267.3M279.0 254.8V269.8M279.5 255.0V267.0M280.0 255.1V267.4M280.5 254.3V269.2M281.0 258.3V267.6M281.5 258.4V269.7M282.0 255.9V270.7M282.5 258.2V267.9M283.0 257.9V266.9M283.5 257.5V267.3M284.0 254.6V269.4M284.5 257.4V267.6M285.0 257.0V267.3M285.5 258.4V267.2M286.0 257.6V266.9M286.5 257.8V267.8M287.0 255.2V268.5M287.5 256.6V267.7M288.0 254.1V266.8M288.5 257.9V267.1M289.0 255.4V267.0M289.5 257.9V266.9M290.0 258.1V267.0M290.5 257.6V266.7M291.0 258.3V267.4M291.5 256.1V270.5M292.0 258.3V266.5M292.5 258.3V267.9M293.0 257.2V267.3M293.5 255.2V269.8M294.0 258.1V267.3M294.5 258.2V267.1M295.0 256.5V267.3M295.5 256.8V268.3M296.0 258.1V267.2M296.5 258.0V267.1M297.0 257.5V267.0M297.5 258.1V266.8M298.0 258.4V267.2M298.5 258.2V266.9M299.0 255.5V267.1M299.5 257.6V269.0M300.0 258.0V267.1M300.5 254.2V267.2M301.0 258.0V270.7M301.5 258.3V267.7M302.0 257.0V267.6M302.5 253.5V267.0M303.0 257.7V266.8M303.5 257.7V270.0M304.0 258.1V271.1M304.5 258.2V267.1M305.0 257.2V270.7M305.5 258.1V267.0M306.0 258.1V269.1M306.5 257.9V267.2M307.0 255.3V266.6M307.5 257.6V266.5M308.0 258.2V267.2M308.5 258.3V266.9M309.0 257.3V267.2M309.5 258.7V267.0M310.0 255.1V267.0M310.5 258.2V267.0M311.0 258.8V267.5M311.5 258.0V266.4M312.0 256.6V267.1M312.5 258.5V267.8M313.0 257.3V267.1M313.5 256.0V268.4M314.0 255.3V269.8M314.5 258.2V267.4M315.0 257.2V266.7M315.5 257.3V268.9M316.0 258.4V267.1M316.5 254.3V267.2M317.0 258.5V267.6M317.5 254.0V267.6M318.0 258.9V267.8M318.5 257.6V267.7M319.0 258.4V268.2M319.5 258.1V267.3M320.0 255.0V268.2M320.5 258.1V268.5M321.0 257.8V267.8M321.5 258.0V268.3M322.0 258.6V267.3M322.5 257.8V267.6M323.0 258.3V267.6M323.5 258.1V267.5M324.0 257.2V268.1M324.5 258.3V267.2M325.0 258.5V266.9M325.5 258.7V268.4M326.0 258.3V268.9M326.5 258.3V267.0M327.0 254.1V267.2M327.5 255.7V267.2M328.0 257.9V267.7M328.5 255.4V269.2M329.0 254.2V268.0M329.5 257.7V267.3M330.0 253.8V267.2M330.5 255.1V267.3M331.0 257.5V267.5M331.5 256.6V270.8M332.0 258.1V267.8M332.5 256.7V270.5M333.0 258.3V267.9M333.5 258.5V267.5M334.0 255.0V270.4M334.5 258.6V267.7M335.0 258.0V269.5M335.5 258.6V269.3M336.0 258.5V267.1M336.5 258.4V266.9M337.0 256.7V269.1M337.5 258.1V266.7M338.0 258.7V266.8M338.5 258.7V267.0M339.0 258.6V267.8M339.5 256.7V267.7M340.0 253.9V268.0M340.5 254.9V270.7M341.0 258.8V267.8M341.5 258.8V267.9M342.0 258.7V268.0M342.5 257.6V269.7M343.0 256.3V268.2M343.5 258.2V267.5M344.0 254.5V267.3M344.5 258.5V267.3M345.0 257.6V267.3M345.5 255.6V268.3M346.0 257.7V267.2M346.5 256.3V266.8M347.0 255.5V268.1M347.5 257.7V267.0M348.0 256.2V267.8M348.5 257.5V269.2M349.0 257.9V267.5M349.5 258.5V270.5M350.0 254.9V267.9M350.5 258.2V267.5M351.0 258.0V267.8M351.5 254.2V266.6M352.0 253.8V267.7M352.5 258.0V267.2M353.0 258.4V267.0M353.5 254.1V267.5M354.0 258.2V267.2M354.5 258.3V268.0M355.0 257.8V267.0M355.5 257.4V267.4M356.0 257.5V268.0M356.5 258.5V267.1M357.0 256.5V267.7M357.5 258.2V270.3M358.0 258.5V267.8" stroke="#000" stroke-width="1.0" fill="none"/>
<line x1="369.20" y1="267.60" x2="369.20" y2="277.40" stroke="#000" stroke-width="1.3" />
<line x1="349.20" y1="276.80" x2="369.80" y2="276.80" stroke="#000" stroke-width="1.3" />
<text x="369.92" y="275.60" font-size="9.30" fill="#000">8 mV</text>
<text x="343.64" y="284.90" font-size="9.30" fill="#000">15 min</text>
<svg x="36.0" y="289.0" width="323.8" height="81.4" viewBox="36.0 289.0 323.8 81.4" overflow="hidden">
<rect x="36.0" y="289.0" width="323.8" height="81.39999999999998" fill="#1a00ff"/>
<path d="M36.0 378.4L36.0 348.1L37.0 345.9L38.0 350.2L39.0 350.6L40.0 344.4L41.0 349.7L42.0 350.7L43.0 348.3L44.0 346.0L45.0 351.7L46.0 350.4L47.0 346.8L48.0 351.3L49.0 352.6L50.0 350.7L51.0 351.8L52.0 350.6L53.0 348.2L54.0 352.6L55.0 347.0L56.0 349.4L57.0 345.2L58.0 352.4L59.0 352.6L60.0 348.8L61.0 344.6L62.0 345.9L63.0 344.0L64.0 351.0L65.0 344.1L66.0 352.5L67.0 346.3L68.0 346.6L69.0 351.3L70.0 352.3L71.0 345.7L72.0 346.8L73.0 364.9L74.0 363.8L75.0 366.4L76.0 367.1L77.0 363.8L78.0 366.6L79.0 366.6L80.0 336.8L81.0 341.3L82.0 343.6L83.0 338.9L84.0 338.1L85.0 342.8L86.0 333.6L87.0 343.3L88.0 343.2L89.0 335.6L90.0 343.3L91.0 337.8L92.0 340.2L93.0 335.4L94.0 341.4L95.0 339.6L96.0 330.7L97.0 333.1L98.0 335.2L99.0 332.7L100.0 339.1L101.0 335.3L102.0 332.1L103.0 339.6L104.0 333.8L105.0 338.4L106.0 336.2L107.0 331.5L108.0 326.2L109.0 326.3L110.0 328.1L111.0 338.5L112.0 327.4L113.0 335.1L114.0 328.1L115.0 335.6L116.0 327.6L117.0 335.2L118.0 325.2L119.0 328.9L120.0 336.8L121.0 327.1L122.0 327.2L123.0 324.6L124.0 326.0L125.0 324.5L126.0 332.1L127.0 322.4L128.0 331.6L129.0 332.3L130.0 322.2L131.0 335.0L132.0 334.9L133.0 322.7L134.0 328.0L135.0 327.1L136.0 327.4L137.0 327.1L138.0 331.7L139.0 326.2L140.0 322.8L141.0 331.6L142.0 332.3L143.0 333.2L144.0 326.8L145.0 331.7L146.0 332.0L147.0 319.6L148.0 321.6L149.0 329.8L150.0 320.6L151.0 327.2L152.0 326.2L153.0 330.9L154.0 329.4L155.0 318.7L156.0 333.8L157.0 333.1L158.0 321.0L159.0 324.7L160.0 326.7L161.0 318.7L162.0 318.4L163.0 330.1L164.0 327.1L165.0 329.4L166.0 328.6L167.0 324.1L168.0 329.5L169.0 329.6L170.0 324.5L171.0 320.1L172.0 326.7L173.0 328.5L174.0 323.7L175.0 325.7L176.0 324.5L177.0 323.9L178.0 323.5L179.0 319.0L180.0 330.6L181.0 327.9L182.0 331.3L183.0 318.6L184.0 331.7L185.0 321.9L186.0 322.3L187.0 325.2L188.0 330.2L189.0 323.2L190.0 326.5L191.0 322.4L192.0 329.0L193.0 330.6L194.0 321.0L195.0 317.1L196.0 323.3L197.0 322.2L198.0 316.4L199.0 327.4L200.0 317.4L201.0 319.0L202.0 331.3L203.0 319.0L204.0 321.6L205.0 328.0L206.0 317.1L207.0 321.3L208.0 323.1L209.0 322.7L210.0 315.5L211.0 328.0L212.0 326.5L213.0 323.0L214.0 326.7L215.0 331.0L216.0 329.0L217.0 315.1L218.0 320.3L219.0 320.9L220.0 323.7L221.0 321.3L222.0 314.9L223.0 327.2L224.0 318.4L225.0 326.4L226.0 326.9L227.0 323.6L228.0 320.7L229.0 318.8L230.0 329.3L231.0 325.2L232.0 320.2L233.0 329.4L234.0 320.3L235.0 313.1L236.0 319.5L237.0 328.4L238.0 320.3L239.0 324.6L240.0 316.9L241.0 321.0L242.0 323.6L243.0 329.5L244.0 325.0L245.0 328.6L246.0 326.0L247.0 313.7L248.0 322.6L249.0 312.0L250.0 325.3L251.0 325.2L252.0 340.0L253.0 343.4L254.0 338.2L255.0 343.5L256.0 344.0L257.0 333.7L258.0 340.1L259.0 336.0L260.0 335.8L261.0 339.0L262.0 339.4L263.0 336.0L264.0 341.5L265.0 341.9L266.0 337.0L267.0 333.9L268.0 340.8L269.0 342.3L270.0 340.8L271.0 337.2L272.0 335.7L273.0 339.5L274.0 342.7L275.0 340.7L276.0 343.3L277.0 342.8L278.0 339.0L279.0 336.2L280.0 335.8L281.0 336.0L282.0 335.5L283.0 344.3L284.0 339.8L285.0 340.2L286.0 336.5L287.0 338.1L288.0 343.9L289.0 337.2L290.0 342.9L291.0 335.9L292.0 341.8L293.0 336.7L294.0 338.2L295.0 334.1L296.0 333.5L297.0 333.3L298.0 337.9L299.0 334.4L300.0 336.8L301.0 340.7L302.0 336.2L303.0 342.2L304.0 333.5L305.0 343.9L306.0 333.0L307.0 341.8L308.0 339.6L309.0 343.1L310.0 337.9L311.0 338.8L312.0 333.9L313.0 342.0L314.0 333.0L315.0 340.1L316.0 341.0L317.0 343.9L318.0 344.0L319.0 344.2L320.0 338.4L321.0 334.6L322.0 333.6L323.0 332.5L324.0 336.9L325.0 341.1L326.0 334.6L327.0 339.7L328.0 336.7L329.0 343.0L330.0 338.4L331.0 336.3L332.0 344.2L333.0 337.7L334.0 336.2L335.0 344.1L336.0 336.0L337.0 335.6L338.0 341.4L339.0 341.9L340.0 336.9L341.0 332.8L342.0 341.6L343.0 335.2L344.0 343.9L345.0 336.7L346.0 340.4L347.0 333.6L348.0 335.4L349.0 341.0L350.0 340.1L351.0 335.4L352.0 341.3L353.0 340.2L354.0 339.2L355.0 338.5L356.0 340.2L357.0 337.8L358.0 339.5L359.0 334.3L359.8 378.4Z" fill="#8a10ff" opacity="0.5" filter="url(#bl_h)"/>
<path d="M41.1 341.5V370.4M49.8 331.0V370.4M57.8 343.3V370.4M64.0 336.2V370.4M70.1 341.5V370.4" stroke="url(#stk_c)" stroke-width="1.0" opacity="0.2" fill="none" filter="url(#bl_s)"/>
<path d="M253.8 332.7V370.4M258.7 326.3V370.4M264.5 344.8V370.4M268.2 327.8V370.4M273.0 345.5V370.4M276.6 340.5V370.4M282.2 344.3V370.4M288.5 329.1V370.4M294.9 335.3V370.4M300.2 333.9V370.4M306.4 335.8V370.4M311.3 339.9V370.4M317.7 345.2V370.4M321.8 331.7V370.4M326.5 328.6V370.4M330.3 341.3V370.4M334.5 328.5V370.4M340.8 343.0V370.4M345.7 339.9V370.4M350.3 343.4V370.4M355.3 333.2V370.4" stroke="url(#stk_c)" stroke-width="1.1" opacity="0.4" fill="none" filter="url(#bl_s)"/>
<path d="M153.2 313.9V370.4M156.5 313.3V370.4M161.3 315.5V370.4M167.0 302.9V370.4M170.9 315.6V370.4M175.2 315.3V370.4M181.0 325.0V370.4M184.2 305.4V370.4M188.1 305.8V370.4M193.1 301.6V370.4M196.7 305.3V370.4M206.0 310.3V370.4M210.2 314.8V370.4M219.6 324.4V370.4M223.7 315.1V370.4M227.5 306.8V370.4M232.3 304.8V370.4M236.4 324.5V370.4M241.5 306.8V370.4M251.5 312.8V370.4" stroke="url(#hot_c)" stroke-width="1.5" opacity="0.6" fill="none" filter="url(#bl_s)"/>
<path d="M89.1 295.4V370.4M100.1 296.8V370.4M104.9 294.8V370.4M123.8 295.5V370.4M143.2 296.7V370.4" stroke="url(#hot_c)" stroke-width="2.4" opacity="0.6" fill="none" filter="url(#bl_s)"/>
<path d="M201.9 306.8V370.4M215.2 305.0V370.4M247.1 322.9V370.4" stroke="url(#hot_c)" stroke-width="1.5" opacity="0.8" fill="none" filter="url(#bl_s)"/>
<path d="M81.5 296.9V370.4M95.7 297.5V370.4M109.3 296.5V370.4M129.0 296.3V370.4M137.1 293.6V370.4M149.9 297.8V370.4" stroke="url(#hot_c)" stroke-width="2.4" opacity="0.8" fill="none" filter="url(#bl_s)"/>
<path d="M115.9 293.7V370.4" stroke="url(#hot_c)" stroke-width="2.4" opacity="1.0" fill="none" filter="url(#bl_s)"/>
<path d="M36.0 376.4L36.0 357.0L37.0 357.5L38.0 357.3L39.0 357.8L40.0 359.7L41.0 357.9L42.0 358.8L43.0 359.0L44.0 359.7L45.0 360.1L46.0 357.4L47.0 356.9L48.0 356.4L49.0 359.7L50.0 356.4L51.0 360.1L52.0 357.9L53.0 356.3L54.0 359.0L55.0 357.7L56.0 359.9L57.0 358.1L58.0 360.0L59.0 359.2L60.0 357.2L61.0 359.9L62.0 358.3L63.0 360.4L64.0 357.1L65.0 356.6L66.0 358.3L67.0 359.8L68.0 359.2L69.0 358.8L70.0 357.8L71.0 357.2L72.0 360.1L73.0 368.4L74.0 367.1L75.0 367.9L76.0 367.7L77.0 367.0L78.0 367.0L79.0 368.2L80.0 360.9L81.0 361.6L82.0 362.4L83.0 362.1L84.0 362.6L85.0 362.7L86.0 360.9L87.0 362.1L88.0 360.5L89.0 361.1L90.0 361.8L91.0 360.2L92.0 361.9L93.0 358.5L94.0 359.2L95.0 358.0L96.0 360.7L97.0 360.0L98.0 361.2L99.0 358.7L100.0 358.4L101.0 360.9L102.0 358.7L103.0 358.3L104.0 358.8L105.0 359.6L106.0 357.2L107.0 358.3L108.0 358.8L109.0 356.9L110.0 356.3L111.0 357.8L112.0 357.6L113.0 357.2L114.0 356.2L115.0 356.7L116.0 357.5L117.0 357.9L118.0 357.0L119.0 357.8L120.0 357.8L121.0 357.7L122.0 354.8L123.0 356.0L124.0 355.2L125.0 355.5L126.0 352.5L127.0 353.5L128.0 351.3L129.0 350.7L130.0 354.5L131.0 350.3L132.0 353.4L133.0 351.1L134.0 352.0L135.0 352.4L136.0 346.9L137.0 347.0L138.0 350.9L139.0 349.5L140.0 350.5L141.0 350.5L142.0 347.1L143.0 350.8L144.0 347.5L145.0 350.6L146.0 348.8L147.0 350.0L148.0 346.2L149.0 349.3L150.0 348.7L151.0 348.5L152.0 352.2L153.0 346.5L154.0 348.8L155.0 346.9L156.0 347.4L157.0 349.4L158.0 347.1L159.0 346.1L160.0 347.0L161.0 345.9L162.0 350.7L163.0 351.7L164.0 346.8L165.0 345.5L166.0 346.3L167.0 345.5L168.0 346.0L169.0 351.4L170.0 346.1L171.0 349.2L172.0 346.3L173.0 350.4L174.0 349.1L175.0 348.0L176.0 349.4L177.0 349.3L178.0 345.6L179.0 346.6L180.0 345.3L181.0 351.3L182.0 349.3L183.0 344.8L184.0 344.9L185.0 345.3L186.0 350.2L187.0 348.4L188.0 344.7L189.0 349.1L190.0 348.9L191.0 346.2L192.0 345.0L193.0 349.5L194.0 348.6L195.0 350.4L196.0 346.6L197.0 346.5L198.0 347.3L199.0 345.6L200.0 347.9L201.0 344.3L202.0 346.7L203.0 350.6L204.0 348.6L205.0 350.5L206.0 348.0L207.0 350.5L208.0 349.9L209.0 346.2L210.0 345.4L211.0 348.2L212.0 344.7L213.0 348.1L214.0 348.8L215.0 347.1L216.0 344.9L217.0 350.0L218.0 343.8L219.0 350.3L220.0 348.7L221.0 349.3L222.0 344.1L223.0 347.2L224.0 347.1L225.0 345.5L226.0 343.6L227.0 349.0L228.0 347.1L229.0 345.7L230.0 346.9L231.0 343.8L232.0 345.4L233.0 345.6L234.0 349.6L235.0 347.9L236.0 349.9L237.0 349.8L238.0 347.1L239.0 343.7L240.0 343.4L241.0 343.5L242.0 349.7L243.0 343.7L244.0 343.1L245.0 348.3L246.0 347.0L247.0 346.7L248.0 348.3L249.0 348.7L250.0 348.9L251.0 344.3L252.0 350.6L253.0 348.5L254.0 347.5L255.0 349.7L256.0 350.2L257.0 351.5L258.0 353.3L259.0 353.1L260.0 347.3L261.0 352.0L262.0 353.1L263.0 353.1L264.0 348.8L265.0 348.9L266.0 348.2L267.0 350.7L268.0 347.8L269.0 347.3L270.0 350.2L271.0 353.4L272.0 347.4L273.0 350.9L274.0 350.0L275.0 351.3L276.0 348.7L277.0 349.6L278.0 352.8L279.0 352.0L280.0 349.0L281.0 351.2L282.0 348.1L283.0 353.0L284.0 348.1L285.0 352.0L286.0 350.7L287.0 349.4L288.0 351.5L289.0 348.1L290.0 348.2L291.0 348.0L292.0 352.3L293.0 350.6L294.0 353.2L295.0 351.6L296.0 349.3L297.0 349.4L298.0 350.0L299.0 350.5L300.0 349.7L301.0 353.4L302.0 353.4L303.0 348.7L304.0 350.7L305.0 352.4L306.0 350.9L307.0 350.3L308.0 349.3L309.0 348.7L310.0 353.3L311.0 349.8L312.0 351.1L313.0 351.4L314.0 348.1L315.0 349.7L316.0 348.9L317.0 350.6L318.0 349.1L319.0 351.0L320.0 350.2L321.0 352.2L322.0 352.9L323.0 353.5L324.0 351.8L325.0 350.8L326.0 353.0L327.0 348.0L328.0 349.8L329.0 351.8L330.0 348.5L331.0 352.2L332.0 349.5L333.0 348.4L334.0 348.4L335.0 349.1L336.0 349.9L337.0 347.5L338.0 353.3L339.0 353.1L340.0 351.6L341.0 351.7L342.0 350.0L343.0 349.5L344.0 347.9L345.0 353.0L346.0 350.7L347.0 348.2L348.0 350.5L349.0 352.7L350.0 350.9L351.0 352.6L352.0 353.5L353.0 351.7L354.0 352.7L355.0 351.2L356.0 348.1L357.0 349.6L358.0 349.7L359.0 347.3L359.8 376.4Z" fill="#ff32ff" opacity="0.85" filter="url(#bl_m)"/>
<path d="M36.0 373.4L36.0 373.4L37.0 373.4L38.0 373.4L39.0 373.4L40.0 373.4L41.0 373.4L42.0 373.4L43.0 373.4L44.0 373.4L45.0 373.4L46.0 373.4L47.0 373.4L48.0 373.4L49.0 373.4L50.0 373.4L51.0 373.4L52.0 373.4L53.0 373.4L54.0 373.4L55.0 373.4L56.0 373.4L57.0 373.4L58.0 373.4L59.0 373.4L60.0 373.4L61.0 373.4L62.0 373.4L63.0 373.4L64.0 373.4L65.0 373.4L66.0 373.4L67.0 373.4L68.0 373.4L69.0 373.4L70.0 373.4L71.0 373.4L72.0 373.4L73.0 373.4L74.0 373.4L75.0 373.4L76.0 373.4L77.0 373.4L78.0 373.4L79.0 373.4L80.0 373.4L81.0 363.7L82.0 366.3L83.0 365.3L84.0 367.1L85.0 361.4L86.0 364.1L87.0 361.3L88.0 361.8L89.0 366.1L90.0 363.1L91.0 366.0L92.0 361.2L93.0 366.7L94.0 363.0L95.0 366.1L96.0 366.0L97.0 366.0L98.0 362.1L99.0 364.9L100.0 365.7L101.0 362.8L102.0 365.5L103.0 363.2L104.0 364.8L105.0 364.6L106.0 364.8L107.0 364.3L108.0 363.8L109.0 360.5L110.0 361.8L111.0 363.2L112.0 360.2L113.0 361.9L114.0 362.6L115.0 357.7L116.0 356.6L117.0 361.8L118.0 357.2L119.0 360.1L120.0 360.6L121.0 359.6L122.0 360.3L123.0 360.0L124.0 357.8L125.0 359.1L126.0 357.9L127.0 355.9L128.0 355.5L129.0 352.8L130.0 356.1L131.0 355.9L132.0 354.4L133.0 354.2L134.0 352.1L135.0 355.3L136.0 354.3L137.0 352.2L138.0 353.2L139.0 354.6L140.0 354.3L141.0 354.4L142.0 353.8L143.0 354.0L144.0 351.5L145.0 354.9L146.0 353.9L147.0 352.5L148.0 352.6L149.0 351.7L150.0 352.1L151.0 353.0L152.0 352.3L153.0 353.2L154.0 351.8L155.0 354.4L156.0 351.7L157.0 353.7L158.0 351.7L159.0 353.4L160.0 352.0L161.0 353.2L162.0 352.8L163.0 352.8L164.0 354.0L165.0 353.6L166.0 353.3L167.0 353.0L168.0 353.3L169.0 353.8L170.0 352.9L171.0 352.5L172.0 352.3L173.0 352.5L174.0 351.3L175.0 351.1L176.0 353.1L177.0 353.3L178.0 354.0L179.0 352.0L180.0 352.9L181.0 351.4L182.0 353.0L183.0 353.3L184.0 354.1L185.0 354.4L186.0 353.7L187.0 354.3L188.0 352.0L189.0 353.8L190.0 353.2L191.0 353.0L192.0 353.5L193.0 352.9L194.0 353.6L195.0 353.8L196.0 349.8L197.0 350.4L198.0 353.7L199.0 352.1L200.0 351.7L201.0 354.3L202.0 351.0L203.0 350.2L204.0 353.0L205.0 353.9L206.0 351.7L207.0 351.9L208.0 353.9L209.0 353.6L210.0 352.1L211.0 352.4L212.0 353.8L213.0 352.1L214.0 352.8L215.0 354.5L216.0 354.4L217.0 352.8L218.0 349.9L219.0 352.6L220.0 353.6L221.0 351.4L222.0 353.1L223.0 352.2L224.0 354.2L225.0 353.0L226.0 352.3L227.0 351.3L228.0 352.9L229.0 353.3L230.0 353.2L231.0 351.5L232.0 352.9L233.0 353.0L234.0 352.7L235.0 353.6L236.0 354.1L237.0 350.8L238.0 353.4L239.0 350.9L240.0 352.4L241.0 353.6L242.0 353.5L243.0 352.9L244.0 354.0L245.0 351.5L246.0 352.7L247.0 351.5L248.0 351.5L249.0 353.8L250.0 352.4L251.0 353.8L252.0 354.8L253.0 355.1L254.0 354.9L255.0 356.5L256.0 356.5L257.0 357.4L258.0 357.0L259.0 355.8L260.0 355.1L261.0 357.3L262.0 354.2L263.0 356.8L264.0 355.5L265.0 355.5L266.0 356.1L267.0 354.4L268.0 354.4L269.0 355.8L270.0 355.0L271.0 354.2L272.0 354.6L273.0 355.4L274.0 357.2L275.0 356.2L276.0 356.9L277.0 356.0L278.0 354.2L279.0 356.7L280.0 356.7L281.0 357.3L282.0 357.0L283.0 354.3L284.0 354.8L285.0 355.5L286.0 354.6L287.0 354.0L288.0 356.3L289.0 354.6L290.0 355.9L291.0 354.8L292.0 355.4L293.0 354.8L294.0 354.1L295.0 354.6L296.0 356.1L297.0 356.5L298.0 356.5L299.0 354.2L300.0 355.9L301.0 354.6L302.0 355.5L303.0 355.4L304.0 354.9L305.0 356.7L306.0 357.2L307.0 356.0L308.0 355.0L309.0 355.1L310.0 356.1L311.0 354.5L312.0 357.0L313.0 355.6L314.0 355.0L315.0 357.4L316.0 355.2L317.0 354.2L318.0 354.9L319.0 356.4L320.0 355.1L321.0 356.9L322.0 355.5L323.0 354.4L324.0 355.5L325.0 355.9L326.0 354.4L327.0 356.4L328.0 356.3L329.0 355.3L330.0 354.2L331.0 354.4L332.0 357.3L333.0 355.9L334.0 354.8L335.0 356.2L336.0 355.2L337.0 355.5L338.0 353.4L339.0 355.7L340.0 355.3L341.0 355.1L342.0 355.4L343.0 352.8L344.0 355.6L345.0 356.1L346.0 358.0L347.0 356.5L348.0 356.1L349.0 356.4L350.0 352.7L351.0 355.1L352.0 354.8L353.0 355.3L354.0 356.2L355.0 353.7L356.0 354.7L357.0 354.7L358.0 357.0L359.0 354.5L359.8 373.4Z" fill="#ff2a30" opacity="0.9" filter="url(#bl_y)"/>
<path d="M36.0 373.4L36.0 373.4L37.0 373.4L38.0 373.4L39.0 373.4L40.0 373.4L41.0 373.4L42.0 373.4L43.0 373.4L44.0 373.4L45.0 373.4L46.0 373.4L47.0 373.4L48.0 373.4L49.0 373.4L50.0 373.4L51.0 373.4L52.0 373.4L53.0 373.4L54.0 373.4L55.0 373.4L56.0 373.4L57.0 373.4L58.0 373.4L59.0 373.4L60.0 373.4L61.0 373.4L62.0 373.4L63.0 373.4L64.0 373.4L65.0 373.4L66.0 373.4L67.0 373.4L68.0 373.4L69.0 373.4L70.0 373.4L71.0 373.4L72.0 373.4L73.0 373.4L74.0 373.4L75.0 373.4L76.0 373.4L77.0 373.4L78.0 373.4L79.0 373.4L80.0 373.4L81.0 364.8L82.0 367.8L83.0 366.8L84.0 368.2L85.0 362.3L86.0 365.5L87.0 362.8L88.0 363.4L89.0 367.2L90.0 364.3L91.0 367.5L92.0 362.1L93.0 367.8L94.0 364.5L95.0 367.5L96.0 367.8L97.0 367.3L98.0 363.3L99.0 365.9L100.0 367.5L101.0 364.6L102.0 366.4L103.0 365.1L104.0 366.3L105.0 365.8L106.0 366.0L107.0 365.2L108.0 365.2L109.0 361.9L110.0 363.4L111.0 364.4L112.0 361.1L113.0 363.6L114.0 364.0L115.0 359.2L116.0 358.3L117.0 363.1L118.0 359.0L119.0 361.8L120.0 362.3L121.0 360.9L122.0 361.6L123.0 361.0L124.0 359.5L125.0 360.9L126.0 359.4L127.0 357.6L128.0 356.9L129.0 354.7L130.0 357.0L131.0 357.8L132.0 356.0L133.0 355.1L134.0 353.8L135.0 356.9L136.0 356.0L137.0 353.2L138.0 354.2L139.0 355.9L140.0 355.8L141.0 355.7L142.0 355.7L143.0 355.3L144.0 352.8L145.0 356.1L146.0 355.1L147.0 354.3L148.0 354.3L149.0 352.6L150.0 353.1L151.0 354.2L152.0 353.7L153.0 354.2L154.0 353.3L155.0 355.8L156.0 353.5L157.0 355.1L158.0 352.6L159.0 354.3L160.0 353.8L161.0 355.1L162.0 354.4L163.0 354.4L164.0 355.2L165.0 355.2L166.0 354.2L167.0 354.9L168.0 354.8L169.0 355.7L170.0 354.5L171.0 354.5L172.0 354.2L173.0 353.8L174.0 352.3L175.0 352.8L176.0 354.2L177.0 354.3L178.0 355.4L179.0 353.8L180.0 354.6L181.0 353.2L182.0 354.9L183.0 355.2L184.0 355.2L185.0 355.7L186.0 354.9L187.0 355.8L188.0 353.3L189.0 355.0L190.0 354.8L191.0 353.9L192.0 355.0L193.0 354.7L194.0 354.6L195.0 354.8L196.0 351.5L197.0 352.1L198.0 355.1L199.0 354.0L200.0 353.5L201.0 355.4L202.0 352.6L203.0 351.6L204.0 354.7L205.0 355.0L206.0 353.3L207.0 353.9L208.0 355.7L209.0 354.6L210.0 353.3L211.0 353.3L212.0 355.5L213.0 353.9L214.0 354.3L215.0 355.5L216.0 355.4L217.0 354.6L218.0 351.4L219.0 354.0L220.0 354.7L221.0 352.6L222.0 354.7L223.0 354.2L224.0 355.5L225.0 354.0L226.0 354.0L227.0 352.3L228.0 354.1L229.0 355.3L230.0 355.1L231.0 352.5L232.0 354.5L233.0 354.3L234.0 354.1L235.0 355.4L236.0 355.2L237.0 352.1L238.0 354.3L239.0 352.6L240.0 353.6L241.0 354.6L242.0 354.4L243.0 354.5L244.0 355.3L245.0 353.0L246.0 354.2L247.0 352.5L248.0 353.0L249.0 355.3L250.0 353.6L251.0 355.0L252.0 357.2L253.0 359.4L254.0 359.4L255.0 360.0L256.0 360.2L257.0 360.5L258.0 360.3L259.0 360.1L260.0 360.0L261.0 359.9L262.0 359.6L263.0 360.1L264.0 360.2L265.0 360.1L266.0 359.5L267.0 359.4L268.0 359.7L269.0 360.3L270.0 359.8L271.0 359.4L272.0 359.7L273.0 358.2L274.0 359.7L275.0 359.0L276.0 359.8L277.0 358.6L278.0 358.3L279.0 360.4L280.0 359.5L281.0 360.2L282.0 360.3L283.0 359.9L284.0 359.2L285.0 360.2L286.0 359.9L287.0 359.6L288.0 359.4L289.0 359.8L290.0 360.3L291.0 359.5L292.0 358.4L293.0 359.3L294.0 358.5L295.0 359.3L296.0 359.0L297.0 359.2L298.0 360.4L299.0 359.6L300.0 359.3L301.0 360.2L302.0 358.6L303.0 359.7L304.0 359.5L305.0 359.9L306.0 360.3L307.0 359.5L308.0 360.4L309.0 360.0L310.0 359.1L311.0 359.6L312.0 359.7L313.0 360.5L314.0 359.6L315.0 360.1L316.0 358.6L317.0 359.8L318.0 360.3L319.0 359.5L320.0 359.9L321.0 360.4L322.0 359.5L323.0 359.6L324.0 358.5L325.0 359.3L326.0 359.9L327.0 359.4L328.0 359.7L329.0 360.3L330.0 359.4L331.0 359.3L332.0 359.7L333.0 358.6L334.0 359.8L335.0 360.1L336.0 359.1L337.0 359.5L338.0 358.8L339.0 358.9L340.0 359.5L341.0 360.4L342.0 359.9L343.0 358.3L344.0 358.4L345.0 359.1L346.0 360.4L347.0 359.7L348.0 360.3L349.0 359.7L350.0 358.2L351.0 359.2L352.0 360.0L353.0 360.0L354.0 359.3L355.0 358.0L356.0 360.2L357.0 359.6L358.0 360.4L359.0 360.0L359.8 373.4Z" fill="#f2ff3c" filter="url(#bl_y)"/>
<path d="M83.0 357.7h1.3v1.4h-1.3ZM85.0 366.6h1.1v1.4h-1.1ZM87.0 364.7h1.0v1.4h-1.0ZM93.0 365.2h1.1v1.4h-1.1ZM95.0 362.2h1.3v1.4h-1.3ZM99.0 360.7h1.5v1.4h-1.5ZM100.0 359.9h1.2v1.4h-1.2ZM102.0 363.6h1.6v1.4h-1.6ZM104.0 365.1h1.4v1.4h-1.4ZM105.0 362.9h1.3v1.4h-1.3ZM107.0 365.2h1.4v1.4h-1.4ZM111.0 355.6h1.2v1.4h-1.2ZM115.0 358.0h1.1v1.4h-1.1ZM118.0 360.2h1.5v1.4h-1.5ZM119.0 357.6h1.1v1.4h-1.1ZM127.0 359.3h1.3v1.4h-1.3ZM128.0 358.2h1.0v1.4h-1.0ZM129.0 366.7h1.3v1.4h-1.3ZM252.0 360.9h1.3v1.4h-1.3ZM253.0 357.2h1.1v1.4h-1.1ZM254.0 358.4h1.2v1.4h-1.2ZM255.0 357.9h1.2v1.4h-1.2ZM258.0 361.1h1.1v1.4h-1.1ZM259.0 359.3h1.4v1.4h-1.4ZM261.0 356.8h1.5v1.4h-1.5ZM262.0 359.4h1.2v1.4h-1.2ZM266.0 358.5h1.4v1.4h-1.4Z" fill="#ff3040" opacity="0.5" filter="url(#bl_y)"/>
<path d="M83.0 358.9h1.3V370.4h-1.3ZM85.0 367.8h1.1V370.4h-1.1ZM87.0 365.9h1.0V370.4h-1.0ZM93.0 366.4h1.1V370.4h-1.1ZM95.0 363.4h1.3V370.4h-1.3ZM99.0 361.9h1.5V370.4h-1.5ZM100.0 361.1h1.2V370.4h-1.2ZM102.0 364.8h1.6V370.4h-1.6ZM104.0 366.3h1.4V370.4h-1.4ZM105.0 364.1h1.3V370.4h-1.3ZM107.0 366.4h1.4V370.4h-1.4ZM111.0 356.8h1.2V370.4h-1.2ZM115.0 359.2h1.1V370.4h-1.1ZM118.0 361.4h1.5V370.4h-1.5ZM119.0 358.8h1.1V370.4h-1.1ZM127.0 360.5h1.3V370.4h-1.3ZM128.0 359.4h1.0V370.4h-1.0ZM129.0 367.9h1.3V370.4h-1.3ZM252.0 362.1h1.3V370.4h-1.3ZM253.0 358.4h1.1V370.4h-1.1ZM254.0 359.6h1.2V370.4h-1.2ZM255.0 359.1h1.2V370.4h-1.2ZM258.0 362.3h1.1V370.4h-1.1ZM259.0 360.5h1.4V370.4h-1.4ZM261.0 358.0h1.5V370.4h-1.5ZM262.0 360.6h1.2V370.4h-1.2ZM266.0 359.7h1.4V370.4h-1.4Z" fill="#f2ff3c" filter="url(#bl_y)"/>
<path d="M80.0 367.9h1.3v2.4h-1.3ZM82.0 369.3h1.3v2.0h-1.3ZM83.0 369.0h1.3v1.7h-1.3ZM88.0 367.2h1.3v1.4h-1.3ZM89.0 366.7h1.3v1.8h-1.3ZM94.0 364.3h1.3v2.5h-1.3ZM95.0 368.8h1.3v1.7h-1.3ZM99.0 368.7h1.3v1.6h-1.3Z" fill="#f2ff3c" opacity="0.9" filter="url(#bl_y)"/>
<path d="M36.0 367.4h1.2v1.6h-1.2ZM38.0 363.3h1.2v1.6h-1.2ZM40.0 361.6h1.2v1.6h-1.2ZM42.0 364.5h1.2v1.6h-1.2ZM45.0 362.3h1.2v1.6h-1.2ZM50.0 366.7h1.2v1.6h-1.2ZM51.0 364.4h1.2v1.6h-1.2ZM54.0 362.6h1.2v1.6h-1.2ZM56.0 367.4h1.2v1.6h-1.2ZM58.0 363.6h1.2v1.6h-1.2ZM59.0 361.2h1.2v1.6h-1.2ZM60.0 368.1h1.2v1.6h-1.2ZM69.0 364.1h1.2v1.6h-1.2ZM72.0 364.2h1.2v1.6h-1.2ZM255.0 359.2h1.2v1.6h-1.2ZM258.0 358.1h1.2v1.6h-1.2ZM260.0 359.9h1.2v1.6h-1.2ZM261.0 357.4h1.2v1.6h-1.2ZM262.0 359.6h1.2v1.6h-1.2ZM265.0 357.5h1.2v1.6h-1.2ZM272.0 360.8h1.2v1.6h-1.2ZM274.0 360.5h1.2v1.6h-1.2ZM281.0 358.2h1.2v1.6h-1.2ZM282.0 358.1h1.2v1.6h-1.2ZM286.0 357.2h1.2v1.6h-1.2ZM287.0 356.4h1.2v1.6h-1.2ZM289.0 359.0h1.2v1.6h-1.2ZM293.0 361.0h1.2v1.6h-1.2ZM295.0 358.2h1.2v1.6h-1.2ZM296.0 357.6h1.2v1.6h-1.2ZM301.0 357.0h1.2v1.6h-1.2ZM304.0 359.5h1.2v1.6h-1.2ZM305.0 357.8h1.2v1.6h-1.2ZM309.0 358.4h1.2v1.6h-1.2ZM311.0 356.7h1.2v1.6h-1.2ZM316.0 361.1h1.2v1.6h-1.2ZM322.0 357.3h1.2v1.6h-1.2ZM326.0 359.0h1.2v1.6h-1.2ZM328.0 359.6h1.2v1.6h-1.2ZM334.0 360.7h1.2v1.6h-1.2ZM338.0 356.5h1.2v1.6h-1.2ZM339.0 358.6h1.2v1.6h-1.2ZM342.0 357.3h1.2v1.6h-1.2ZM346.0 360.0h1.2v1.6h-1.2ZM347.0 358.4h1.2v1.6h-1.2ZM348.0 359.0h1.2v1.6h-1.2ZM351.0 356.8h1.2v1.6h-1.2ZM353.0 357.9h1.2v1.6h-1.2ZM356.0 357.4h1.2v1.6h-1.2Z" fill="#ff4040" opacity="0.8"/>
<path d="M36.0 369.0h2.1v1.4h-2.1ZM38.0 369.0h2.0v1.4h-2.0ZM40.0 369.0h1.6v1.4h-1.6ZM42.0 369.0h2.0v1.4h-2.0ZM46.0 369.0h1.3v1.4h-1.3ZM48.0 369.0h1.1v1.4h-1.1ZM52.0 369.0h2.1v1.4h-2.1ZM54.0 369.0h2.8v1.4h-2.8ZM58.0 369.0h1.7v1.4h-1.7ZM60.0 369.0h1.4v1.4h-1.4ZM62.0 369.0h1.9v1.4h-1.9ZM64.0 369.0h1.2v1.4h-1.2ZM70.0 369.0h2.4v1.4h-2.4ZM76.0 369.0h2.8v1.4h-2.8ZM78.0 369.0h1.3v1.4h-1.3ZM80.0 369.0h1.3v1.4h-1.3ZM82.0 369.0h2.5v1.4h-2.5ZM86.0 369.0h2.0v1.4h-2.0ZM88.0 369.0h1.9v1.4h-1.9ZM94.0 369.0h2.1v1.4h-2.1ZM96.0 369.0h1.3v1.4h-1.3ZM102.0 369.0h2.2v1.4h-2.2ZM106.0 369.0h2.0v1.4h-2.0ZM108.0 369.0h1.2v1.4h-1.2ZM110.0 369.0h1.5v1.4h-1.5ZM112.0 369.0h1.9v1.4h-1.9ZM114.0 369.0h2.8v1.4h-2.8ZM118.0 369.0h1.7v1.4h-1.7ZM120.0 369.0h2.5v1.4h-2.5ZM122.0 369.0h2.8v1.4h-2.8ZM124.0 369.0h2.0v1.4h-2.0ZM126.0 369.0h1.2v1.4h-1.2ZM128.0 369.0h2.9v1.4h-2.9ZM130.0 369.0h2.6v1.4h-2.6ZM132.0 369.0h1.9v1.4h-1.9ZM134.0 369.0h2.5v1.4h-2.5ZM136.0 369.0h1.8v1.4h-1.8ZM138.0 369.0h2.6v1.4h-2.6ZM142.0 369.0h2.4v1.4h-2.4ZM144.0 369.0h1.3v1.4h-1.3ZM146.0 369.0h2.2v1.4h-2.2ZM148.0 369.0h1.5v1.4h-1.5ZM150.0 369.0h3.0v1.4h-3.0ZM152.0 369.0h2.3v1.4h-2.3ZM154.0 369.0h2.3v1.4h-2.3ZM156.0 369.0h2.7v1.4h-2.7ZM158.0 369.0h1.6v1.4h-1.6ZM166.0 369.0h1.4v1.4h-1.4ZM168.0 369.0h1.4v1.4h-1.4ZM170.0 369.0h1.5v1.4h-1.5ZM172.0 369.0h2.6v1.4h-2.6ZM174.0 369.0h1.4v1.4h-1.4ZM176.0 369.0h1.2v1.4h-1.2ZM180.0 369.0h2.8v1.4h-2.8ZM184.0 369.0h1.8v1.4h-1.8ZM186.0 369.0h1.0v1.4h-1.0ZM190.0 369.0h2.1v1.4h-2.1ZM192.0 369.0h1.3v1.4h-1.3ZM194.0 369.0h1.2v1.4h-1.2ZM198.0 369.0h2.9v1.4h-2.9ZM200.0 369.0h1.9v1.4h-1.9ZM202.0 369.0h2.0v1.4h-2.0ZM208.0 369.0h1.8v1.4h-1.8ZM210.0 369.0h1.7v1.4h-1.7ZM214.0 369.0h2.7v1.4h-2.7ZM218.0 369.0h1.4v1.4h-1.4ZM220.0 369.0h2.4v1.4h-2.4ZM222.0 369.0h1.5v1.4h-1.5ZM224.0 369.0h1.3v1.4h-1.3ZM226.0 369.0h2.8v1.4h-2.8ZM228.0 369.0h1.8v1.4h-1.8ZM230.0 369.0h1.2v1.4h-1.2ZM232.0 369.0h2.4v1.4h-2.4ZM234.0 369.0h2.9v1.4h-2.9ZM236.0 369.0h2.6v1.4h-2.6ZM238.0 369.0h2.2v1.4h-2.2ZM240.0 369.0h2.7v1.4h-2.7ZM244.0 369.0h1.1v1.4h-1.1ZM246.0 369.0h2.0v1.4h-2.0ZM254.0 369.0h2.5v1.4h-2.5ZM256.0 369.0h1.1v1.4h-1.1ZM260.0 369.0h3.0v1.4h-3.0ZM262.0 369.0h1.7v1.4h-1.7ZM264.0 369.0h1.3v1.4h-1.3ZM266.0 369.0h3.0v1.4h-3.0ZM272.0 369.0h1.6v1.4h-1.6ZM274.0 369.0h1.1v1.4h-1.1ZM276.0 369.0h2.8v1.4h-2.8ZM278.0 369.0h1.8v1.4h-1.8ZM280.0 369.0h2.5v1.4h-2.5ZM284.0 369.0h1.8v1.4h-1.8ZM290.0 369.0h2.2v1.4h-2.2ZM292.0 369.0h1.1v1.4h-1.1ZM296.0 369.0h1.7v1.4h-1.7ZM298.0 369.0h2.2v1.4h-2.2ZM300.0 369.0h2.9v1.4h-2.9ZM302.0 369.0h2.5v1.4h-2.5ZM304.0 369.0h2.9v1.4h-2.9ZM306.0 369.0h2.2v1.4h-2.2ZM312.0 369.0h1.3v1.4h-1.3ZM314.0 369.0h1.4v1.4h-1.4ZM320.0 369.0h1.7v1.4h-1.7ZM324.0 369.0h2.9v1.4h-2.9ZM330.0 369.0h1.5v1.4h-1.5ZM332.0 369.0h2.1v1.4h-2.1ZM334.0 369.0h1.3v1.4h-1.3ZM338.0 369.0h2.7v1.4h-2.7ZM340.0 369.0h1.6v1.4h-1.6ZM342.0 369.0h2.8v1.4h-2.8ZM344.0 369.0h1.5v1.4h-1.5ZM346.0 369.0h1.8v1.4h-1.8ZM348.0 369.0h1.7v1.4h-1.7ZM350.0 369.0h1.6v1.4h-1.6ZM352.0 369.0h2.1v1.4h-2.1ZM354.0 369.0h2.3v1.4h-2.3ZM358.0 369.0h2.8v1.4h-2.8Z" fill="#e040e0" opacity="0.8"/>
<rect x="36.0" y="289.0" width="323.8" height="0.9" fill="#8a80ff"/>
</svg>
<line x1="35.30" y1="288.70" x2="35.30" y2="371.60" stroke="#000" stroke-width="1.3" />
<line x1="34.70" y1="370.90" x2="360.10" y2="370.90" stroke="#000" stroke-width="1.6" />
<line x1="32.80" y1="289.20" x2="35.30" y2="289.20" stroke="#000" stroke-width="1.2" />
<text x="11.25" y="293.00" font-size="12.40" fill="#000">100</text>
<line x1="32.80" y1="329.70" x2="35.30" y2="329.70" stroke="#000" stroke-width="1.2" />
<text x="18.13" y="333.50" font-size="12.40" fill="#000">50</text>
<line x1="32.80" y1="370.70" x2="35.30" y2="370.70" stroke="#000" stroke-width="1.2" />
<text x="25.01" y="374.50" font-size="12.40" fill="#000">0</text>
<text x="0" y="0" font-size="10.62" fill="#000" transform="translate(14.10,369.59) rotate(-90)">Frequency (Hz)</text>
<text x="36.33" y="298.70" font-size="11.79" fill="#fff">KO-Veh</text>
<rect x="364.9" y="290.20" width="5.4" height="81.20" fill="url(#cbar)"/>
<text x="371.45" y="295.10" font-size="11.57" fill="#000">Max</text>
<text x="371.43" y="371.30" font-size="11.91" fill="#000">Min</text>
<text x="0" y="0" font-size="11.20" fill="#000" transform="translate(381.30,361.53) rotate(-90)">Power (&#956;V<tspan font-size="7" dy="-4">2</tspan><tspan dy="4">)</tspan></text>
<text x="38.69" y="381.90" font-size="11.43" fill="#000">Time (min)</text>
<line x1="35.80" y1="384.90" x2="98.50" y2="384.90" stroke="#000" stroke-width="1.5" />
<path d="M104.00,384.90 L98.00,381.90 L98.00,387.90 Z" fill="#000"/>
<text x="0.34" y="400.60" font-size="19.00" fill="#000">d</text>
<line x1="37.70" y1="395.80" x2="37.70" y2="403.00" stroke="#000" stroke-width="1.5" />
<path d="M34.10,402.50 L41.30,402.50 L37.70,406.70 Z" fill="#000"/>
<text x="43.08" y="403.20" font-size="9.60" fill="#000">KA</text>
<line x1="248.30" y1="395.20" x2="248.30" y2="402.30" stroke="#000" stroke-width="1.5" />
<path d="M244.70,401.80 L251.90,401.80 L248.30,406.00 Z" fill="#000"/>
<text x="253.28" y="403.40" font-size="9.60" fill="#000">DZ</text>
<path d="M36.5 418.2V424.3M51.5 430.3V435.0M53.0 430.3V433.6M61.5 418.0V424.0M64.0 420.2V424.0M88.0 418.5V423.7M88.0 430.5V435.9M102.0 413.9V423.5M102.5 430.7V435.8M110.0 413.7V422.9M110.5 431.0V438.8M112.5 415.0V422.8M122.5 413.3V422.1M133.0 413.8V421.3M141.5 432.7V440.8M152.5 433.6V439.6M158.5 409.9V418.3M158.5 434.6V438.4M177.5 434.8V439.7M180.0 434.8V438.6M182.0 412.2V417.8M185.5 412.4V417.8M186.5 434.8V440.6M204.0 412.8V417.6M206.0 411.4V417.6M208.5 410.0V417.6M214.5 434.7V440.7M218.5 413.4V417.5M219.0 414.3V417.5M222.0 413.6V417.5M243.5 409.8V417.3M244.5 409.7V417.3M246.5 414.2V417.3M252.5 434.1V441.5M261.5 433.9V437.5M286.0 421.3V423.0M293.0 431.3V435.3M310.5 428.6V430.7M311.0 423.9V424.8M319.5 424.3V424.8M327.5 428.6V430.9M331.0 423.8V424.8M348.5 428.6V430.2M355.5 428.6V430.3M358.5 424.3V424.9" stroke="#888" stroke-width="0.6" fill="none"/><path d="M40.0 410.5V435.2M102.0 412.5V440.0M342.2 412.5V430.2" stroke="#222" stroke-width="0.7" fill="none"/><path d="M36.0 424.1V432.1M36.5 423.9V431.1M37.0 423.8V431.2M37.5 421.7V433.5M38.0 422.9V431.3M38.5 423.9V431.3M39.0 423.6V433.5M39.5 423.7V430.9M40.0 422.6V430.7M40.5 423.6V431.2M41.0 423.8V434.6M41.5 423.6V431.0M42.0 422.0V431.0M42.5 420.0V433.6M43.0 419.0V430.8M43.5 422.6V430.7M44.0 423.5V433.0M44.5 422.9V431.4M45.0 420.7V430.9M45.5 423.5V430.6M46.0 424.2V430.9M46.5 423.6V430.8M47.0 424.0V430.3M47.5 423.6V430.2M48.0 422.1V430.3M48.5 423.3V434.0M49.0 422.0V434.4M49.5 421.5V431.2M50.0 423.5V430.6M50.5 423.1V431.4M51.0 422.3V431.1M51.5 423.8V431.2M52.0 423.1V434.1M52.5 423.2V434.0M53.0 421.7V431.0M53.5 423.4V431.1M54.0 420.2V430.8M54.5 423.6V431.4M55.0 423.6V431.2M55.5 423.3V432.5M56.0 419.8V431.2M56.5 422.0V434.3M57.0 421.5V433.0M57.5 423.4V435.3M58.0 418.8V432.1M58.5 423.5V432.3M59.0 423.3V430.9M59.5 423.8V430.6M60.0 424.1V431.9M60.5 423.7V430.8M61.0 421.8V432.1M61.5 422.0V430.7M62.0 423.0V431.0M62.5 420.1V431.2M63.0 423.2V431.1M63.5 423.1V431.7M64.0 423.4V431.2M64.5 423.6V430.9M65.0 423.6V432.8M65.5 423.5V430.8M66.0 422.6V431.9M66.5 420.6V435.0M67.0 419.1V430.8M67.5 422.9V431.1M68.0 422.6V431.1M68.5 420.8V430.9M69.0 419.5V431.5M69.5 421.3V430.7M70.0 423.0V432.3M70.5 420.3V431.4M71.0 422.0V431.5M71.5 418.2V433.8M72.0 421.4V431.5M72.5 422.4V431.6M73.0 423.1V432.7M73.5 420.9V432.0M74.0 422.0V431.0M74.5 423.2V433.0M75.0 422.9V434.7M75.5 418.7V432.6M76.0 421.9V431.9M76.5 421.8V432.2M77.0 421.8V433.5M77.5 422.6V431.9M78.0 423.0V435.3M78.5 423.4V434.2M79.0 418.1V431.4M79.5 422.9V433.1M80.0 423.0V434.4M80.5 419.3V431.1M81.0 423.6V435.0M81.5 423.7V431.2M82.0 418.9V431.5M82.5 423.1V431.6M83.0 423.2V431.9M83.5 423.3V431.5M84.0 422.6V431.0M84.5 423.0V430.8M85.0 423.3V431.2M85.5 422.1V432.4M86.0 422.1V431.3M86.5 423.1V433.5M87.0 420.2V431.4M87.5 422.9V431.2M88.0 418.2V430.8M88.5 423.0V431.5M89.0 420.1V433.2M89.5 423.0V431.2M90.0 419.1V430.7M90.5 420.0V430.4M91.0 423.1V431.3M91.5 422.6V431.5M92.0 423.0V431.8M92.5 422.7V432.5M93.0 419.7V431.6M93.5 422.7V431.8M94.0 422.6V435.4M94.5 422.6V431.5M95.0 419.4V432.2M95.5 419.8V431.6M96.0 423.1V431.5M96.5 419.5V432.0M97.0 422.4V434.4M97.5 420.7V433.8M98.0 423.3V431.3M98.5 420.3V431.5M99.0 423.2V433.5M99.5 420.9V431.6M100.0 423.4V431.6M100.5 422.7V434.9M101.0 419.6V437.8M101.5 422.4V432.0M102.0 422.0V431.0M102.5 422.4V433.0M103.0 421.9V431.9M103.5 421.3V431.3M104.0 415.9V432.9M104.5 421.1V437.1M105.0 414.6V434.0M105.5 414.2V435.6M106.0 416.7V436.7M106.5 417.6V435.8M107.0 422.0V433.6M107.5 417.8V434.1M108.0 412.5V432.1M108.5 421.8V437.3M109.0 415.3V431.4M109.5 412.1V433.0M110.0 418.9V437.0M110.5 417.0V435.0M111.0 422.1V438.8M111.5 422.4V435.2M112.0 422.6V439.5M112.5 411.1V434.9M113.0 416.0V436.6M113.5 418.4V433.0M114.0 414.5V435.6M114.5 418.5V432.8M115.0 422.3V435.3M115.5 417.6V436.9M116.0 418.8V432.4M116.5 419.7V432.4M117.0 413.1V431.8M117.5 415.8V432.7M118.0 413.5V432.5M118.5 418.7V435.5M119.0 412.0V435.8M119.5 420.7V434.3M120.0 417.2V431.8M120.5 417.9V432.3M121.0 418.8V434.8M121.5 410.5V436.2M122.0 416.9V437.4M122.5 421.0V433.9M123.0 418.2V434.5M123.5 420.9V434.2M124.0 414.3V434.2M124.5 421.2V439.8M125.0 420.8V440.8M125.5 417.8V432.2M126.0 411.6V432.9M126.5 410.7V437.5M127.0 420.8V435.7M127.5 414.8V433.5M128.0 420.5V437.4M128.5 419.4V432.9M129.0 418.2V432.1M129.5 419.8V432.2M130.0 418.6V432.9M130.5 410.4V439.2M131.0 416.2V438.1M131.5 420.0V435.6M132.0 415.3V435.8M132.5 419.8V434.2M133.0 409.6V438.4M133.5 417.3V441.0M134.0 412.6V434.7M134.5 416.8V438.1M135.0 410.8V439.6M135.5 413.9V434.3M136.0 416.1V433.0M136.5 411.7V436.1M137.0 418.7V433.5M137.5 417.9V435.7M138.0 416.9V433.9M138.5 415.8V436.2M139.0 419.6V433.0M139.5 413.6V434.1M140.0 417.3V439.8M140.5 419.0V441.5M141.0 417.4V436.4M141.5 418.7V433.1M142.0 418.6V437.1M142.5 418.2V441.2M143.0 417.5V437.4M143.5 413.5V436.1M144.0 410.9V434.9M144.5 411.0V435.5M145.0 416.4V435.1M145.5 418.8V435.6M146.0 419.0V436.3M146.5 412.4V434.3M147.0 417.5V435.4M147.5 418.1V439.8M148.0 418.8V439.7M148.5 417.0V439.0M149.0 417.9V434.3M149.5 416.9V440.9M150.0 417.5V436.3M150.5 417.1V440.0M151.0 413.6V434.3M151.5 415.9V439.7M152.0 415.2V435.4M152.5 417.3V439.2M153.0 413.4V438.3M153.5 413.0V435.0M154.0 418.1V434.5M154.5 418.3V440.2M155.0 418.6V435.4M155.5 411.9V436.2M156.0 413.0V441.2M156.5 416.7V435.8M157.0 417.3V439.3M157.5 416.7V437.7M158.0 412.6V436.7M158.5 409.7V441.6M159.0 413.2V441.2M159.5 416.0V441.9M160.0 411.5V438.0M160.5 415.0V443.5M161.0 414.1V443.5M161.5 415.0V438.6M162.0 416.1V438.4M162.5 414.1V439.2M163.0 414.0V439.1M163.5 416.7V438.0M164.0 415.4V435.9M164.5 416.7V436.1M165.0 412.0V435.5M165.5 415.7V435.5M166.0 413.1V437.1M166.5 415.6V436.4M167.0 415.5V441.0M167.5 415.6V437.7M168.0 415.8V437.5M168.5 416.4V440.4M169.0 415.5V442.2M169.5 413.3V442.8M170.0 412.2V440.4M170.5 414.7V436.6M171.0 414.4V439.2M171.5 412.6V435.9M172.0 414.1V439.1M172.5 414.2V437.5M173.0 412.9V437.8M173.5 412.4V437.9M174.0 416.1V439.8M174.5 413.4V442.3M175.0 410.7V441.7M175.5 416.9V436.0M176.0 410.7V436.4M176.5 412.6V437.2M177.0 415.0V435.4M177.5 415.5V439.5M178.0 410.3V436.0M178.5 413.6V436.3M179.0 415.9V442.1M179.5 414.1V436.6M180.0 413.8V437.8M180.5 413.5V439.6M181.0 415.6V437.0M181.5 414.2V440.4M182.0 412.2V439.5M182.5 414.5V441.2M183.0 414.0V436.6M183.5 415.7V439.0M184.0 416.0V435.5M184.5 416.1V440.1M185.0 412.9V435.7M185.5 415.3V436.6M186.0 415.9V438.5M186.5 415.0V438.1M187.0 415.2V440.6M187.5 413.7V437.9M188.0 411.7V437.5M188.5 413.9V441.1M189.0 415.4V436.3M189.5 414.3V438.1M190.0 415.5V441.0M190.5 415.3V440.6M191.0 413.2V436.6M191.5 411.3V438.1M192.0 412.7V438.6M192.5 415.0V435.8M193.0 416.5V437.9M193.5 413.8V442.5M194.0 417.0V442.4M194.5 417.5V441.4M195.0 411.3V439.8M195.5 415.8V443.1M196.0 411.1V438.3M196.5 411.7V437.9M197.0 413.2V439.8M197.5 412.9V437.2M198.0 414.2V436.5M198.5 414.6V436.1M199.0 413.8V437.2M199.5 415.4V437.3M200.0 413.4V439.4M200.5 409.9V436.8M201.0 410.7V437.9M201.5 411.6V437.5M202.0 414.4V436.1M202.5 411.9V436.1M203.0 414.5V440.9M203.5 409.1V439.5M204.0 411.4V437.3M204.5 411.8V435.9M205.0 414.4V437.6M205.5 416.6V439.1M206.0 414.4V440.4M206.5 413.6V435.3M207.0 415.3V436.3M207.5 415.0V440.1M208.0 415.3V436.8M208.5 414.7V437.6M209.0 408.9V436.1M209.5 409.6V442.0M210.0 413.0V438.9M210.5 415.2V438.0M211.0 414.1V439.2M211.5 412.2V437.5M212.0 415.3V442.9M212.5 411.2V438.7M213.0 411.2V441.2M213.5 410.5V437.0M214.0 414.2V436.5M214.5 413.4V437.2M215.0 412.4V440.5M215.5 410.6V437.6M216.0 411.7V437.3M216.5 413.9V440.2M217.0 410.5V438.4M217.5 412.4V439.6M218.0 410.0V441.4M218.5 408.9V443.2M219.0 408.7V442.1M219.5 410.0V437.4M220.0 415.7V440.0M220.5 412.8V441.9M221.0 411.2V438.2M221.5 415.9V439.5M222.0 415.7V439.2M222.5 412.6V437.7M223.0 415.6V437.0M223.5 414.0V440.4M224.0 415.3V435.5M224.5 411.8V439.2M225.0 412.2V440.6M225.5 411.0V434.6M226.0 413.4V441.8M226.5 416.9V439.8M227.0 416.3V435.9M227.5 409.9V435.3M228.0 413.4V436.0M228.5 414.4V434.6M229.0 415.0V435.5M229.5 415.8V436.5M230.0 416.1V434.9M230.5 415.2V436.8M231.0 416.3V435.2M231.5 412.0V436.5M232.0 413.7V438.6M232.5 414.3V438.3M233.0 411.0V438.5M233.5 412.9V442.4M234.0 414.7V436.5M234.5 413.5V439.1M235.0 415.2V438.7M235.5 414.9V438.2M236.0 411.1V435.1M236.5 414.9V436.2M237.0 411.0V437.5M237.5 410.0V437.3M238.0 414.5V437.9M238.5 414.1V435.4M239.0 409.0V435.2M239.5 410.1V435.9M240.0 411.6V438.3M240.5 409.8V435.5M241.0 411.8V440.0M241.5 412.9V435.0M242.0 414.8V435.5M242.5 413.6V435.6M243.0 410.8V440.5M243.5 415.2V437.1M244.0 415.1V437.8M244.5 414.9V441.3M245.0 414.4V436.8M245.5 414.0V438.6M246.0 416.9V441.0M246.5 411.4V438.2M247.0 415.1V436.6M247.5 409.5V435.4M248.0 415.2V442.1M248.5 413.9V439.4M249.0 414.6V436.4M249.5 416.0V436.7M250.0 412.9V442.8M250.5 413.7V441.1M251.0 415.4V442.0M251.5 415.3V440.3M252.0 416.0V435.9M252.5 415.4V442.1M253.0 415.2V436.0M253.5 415.8V439.3M254.0 411.8V442.4M254.5 415.7V437.0M255.0 413.5V441.4M255.5 414.8V440.3M256.0 416.2V435.3M256.5 415.0V435.9M257.0 417.9V436.9M257.5 417.4V439.8M258.0 419.0V437.1M258.5 418.6V437.6M259.0 419.5V436.7M259.5 420.1V435.9M260.0 420.0V440.4M260.5 419.8V437.5M261.0 418.7V438.8M261.5 419.3V435.9M262.0 419.9V435.4M262.5 418.5V435.2M263.0 419.7V435.5M263.5 419.9V434.7M264.0 419.9V438.5M264.5 420.2V434.5M265.0 420.2V437.6M265.5 419.7V435.1M266.0 418.5V437.3M266.5 420.6V436.4M267.0 420.6V434.9M267.5 420.5V439.0M268.0 419.7V435.4M268.5 418.9V435.3M269.0 421.0V439.1M269.5 420.6V435.3M270.0 420.2V434.5M270.5 420.4V434.6M271.0 419.6V436.4M271.5 421.2V435.9M272.0 421.1V434.2M272.5 421.7V436.9M273.0 420.1V435.0M273.5 420.6V435.9M274.0 420.8V434.6M274.5 420.8V435.2M275.0 420.9V434.7M275.5 420.6V435.1M276.0 420.2V435.5M276.5 421.0V434.7M277.0 421.1V434.7M277.5 420.7V435.7M278.0 421.0V434.0M278.5 419.1V436.9M279.0 420.5V433.7M279.5 419.6V433.9M280.0 421.6V434.1M280.5 420.7V433.8M281.0 421.7V433.4M281.5 421.4V433.8M282.0 421.0V433.3M282.5 420.5V433.1M283.0 420.9V433.2M283.5 422.2V434.0M284.0 421.9V433.8M284.5 420.4V433.1M285.0 422.8V435.9M285.5 421.6V433.9M286.0 421.8V433.5M286.5 422.2V433.3M287.0 421.8V433.5M287.5 421.1V435.8M288.0 420.4V433.3M288.5 422.9V433.1M289.0 420.6V433.3M289.5 421.2V433.5M290.0 423.0V433.2M290.5 421.5V434.8M291.0 420.6V432.3M291.5 422.6V432.2M292.0 422.9V432.5M292.5 422.6V432.6M293.0 421.1V431.7M293.5 420.7V431.6M294.0 423.1V436.5M294.5 422.2V431.9M295.0 421.8V435.8M295.5 420.4V431.2M296.0 421.9V430.9M296.5 423.2V430.5M297.0 423.3V434.3M297.5 420.8V430.1M298.0 423.0V429.9M298.5 422.1V429.8M299.0 423.8V431.9M299.5 423.3V429.2M300.0 423.7V433.6M300.5 423.8V429.3M301.0 424.1V429.0M301.5 424.1V429.0M302.0 423.3V428.8M302.5 423.9V429.1M303.0 424.2V428.9M303.5 423.6V429.3M304.0 424.0V429.0M304.5 424.5V428.8M305.0 424.2V429.6M305.5 424.0V429.4M306.0 424.4V429.3M306.5 424.2V429.2M307.0 424.3V429.0M307.5 424.5V428.9M308.0 423.7V428.8M308.5 424.3V429.7M309.0 424.0V428.9M309.5 424.2V429.0M310.0 424.3V429.1M310.5 424.2V429.0M311.0 424.3V429.0M311.5 424.3V429.8M312.0 424.2V430.0M312.5 423.8V428.9M313.0 424.6V428.8M313.5 424.2V428.8M314.0 423.7V428.7M314.5 424.0V430.5M315.0 424.2V430.9M315.5 424.2V429.0M316.0 423.9V429.3M316.5 424.0V429.3M317.0 424.1V429.3M317.5 423.6V429.0M318.0 424.3V429.0M318.5 424.1V429.7M319.0 424.4V428.7M319.5 423.8V430.8M320.0 424.6V428.7M320.5 424.4V429.8M321.0 424.0V428.9M321.5 423.2V428.8M322.0 423.9V429.0M322.5 424.2V430.2M323.0 424.3V429.1M323.5 424.4V428.9M324.0 424.2V430.5M324.5 424.3V428.9M325.0 423.8V429.0M325.5 424.6V428.9M326.0 424.1V428.8M326.5 423.8V428.7M327.0 423.8V428.7M327.5 424.4V428.9M328.0 424.2V429.7M328.5 424.6V428.9M329.0 424.4V428.8M329.5 424.2V428.9M330.0 424.5V428.6M330.5 424.4V429.5M331.0 424.5V428.7M331.5 424.6V428.8M332.0 424.3V429.7M332.5 424.3V429.2M333.0 423.8V428.8M333.5 424.3V428.9M334.0 424.1V430.1M334.5 423.9V429.3M335.0 424.5V430.1M335.5 424.5V428.9M336.0 423.9V429.0M336.5 423.8V429.0M337.0 424.4V429.0M337.5 424.4V429.2M338.0 424.2V428.9M338.5 424.2V430.6M339.0 424.5V428.8M339.5 424.0V428.8M340.0 424.4V428.9M340.5 424.0V429.4M341.0 423.7V429.2M341.5 423.8V429.9M342.0 424.5V429.7M342.5 424.5V428.9M343.0 424.3V429.0M343.5 424.4V429.0M344.0 424.0V428.9M344.5 424.5V429.3M345.0 423.2V428.9M345.5 424.5V429.2M346.0 424.3V429.0M346.5 424.2V428.9M347.0 424.5V429.5M347.5 424.1V428.8M348.0 424.3V429.2M348.5 424.2V428.9M349.0 423.6V429.2M349.5 424.2V429.0M350.0 424.2V429.0M350.5 423.4V429.1M351.0 423.8V430.7M351.5 424.2V429.2M352.0 424.0V429.0M352.5 424.4V429.8M353.0 424.3V429.9M353.5 424.0V428.8M354.0 424.3V428.9M354.5 424.2V429.1M355.0 424.0V429.2M355.5 423.4V430.3M356.0 424.0V428.9M356.5 424.2V429.0M357.0 423.7V429.0M357.5 424.1V429.0M358.0 423.9V430.3M358.5 424.3V429.1M359.0 424.3V429.1" stroke="#000" stroke-width="1.0" fill="none"/>
<line x1="370.60" y1="432.10" x2="370.60" y2="441.70" stroke="#000" stroke-width="1.3" />
<line x1="350.60" y1="441.10" x2="371.20" y2="441.10" stroke="#000" stroke-width="1.3" />
<text x="371.12" y="440.40" font-size="9.30" fill="#000">8 mV</text>
<text x="345.34" y="449.20" font-size="9.30" fill="#000">15 min</text>
<svg x="36.0" y="453.0" width="323.8" height="82.0" viewBox="36.0 453.0 323.8 82.0" overflow="hidden">
<rect x="36.0" y="453.0" width="323.8" height="82.0" fill="#1a00ff"/>
<path d="M36.0 543.0L36.0 506.4L37.0 511.6L38.0 505.3L39.0 505.9L40.0 510.6L41.0 504.8L42.0 504.5L43.0 510.9L44.0 513.3L45.0 510.9L46.0 507.8L47.0 511.7L48.0 509.4L49.0 506.5L50.0 512.6L51.0 511.1L52.0 510.7L53.0 513.2L54.0 510.4L55.0 513.8L56.0 505.7L57.0 511.4L58.0 505.4L59.0 512.3L60.0 506.4L61.0 510.7L62.0 511.8L63.0 513.9L64.0 507.4L65.0 511.6L66.0 508.5L67.0 509.3L68.0 513.0L69.0 507.7L70.0 513.5L71.0 510.4L72.0 506.1L73.0 509.6L74.0 506.6L75.0 507.6L76.0 511.8L77.0 508.4L78.0 505.4L79.0 506.3L80.0 505.6L81.0 506.2L82.0 506.7L83.0 512.6L84.0 511.6L85.0 513.1L86.0 505.7L87.0 510.2L88.0 508.8L89.0 516.4L90.0 526.3L91.0 524.7L92.0 527.2L93.0 528.5L94.0 528.7L95.0 527.7L96.0 526.7L97.0 525.3L98.0 527.2L99.0 519.0L100.0 513.3L101.0 510.2L102.0 513.0L103.0 516.4L104.0 508.0L105.0 514.0L106.0 514.8L107.0 514.3L108.0 515.1L109.0 511.2L110.0 509.3L111.0 509.1L112.0 515.1L113.0 512.0L114.0 512.5L115.0 511.5L116.0 505.5L117.0 511.3L118.0 506.0L119.0 506.8L120.0 506.8L121.0 509.9L122.0 506.6L123.0 504.8L124.0 504.1L125.0 509.5L126.0 507.7L127.0 505.6L128.0 508.4L129.0 512.5L130.0 506.4L131.0 505.6L132.0 502.5L133.0 502.8L134.0 507.2L135.0 501.3L136.0 502.1L137.0 509.3L138.0 508.9L139.0 500.1L140.0 508.9L141.0 504.9L142.0 506.3L143.0 505.1L144.0 498.4L145.0 508.2L146.0 502.4L147.0 499.0L148.0 502.8L149.0 505.8L150.0 500.0L151.0 497.8L152.0 505.5L153.0 498.2L154.0 496.5L155.0 505.4L156.0 501.2L157.0 496.6L158.0 506.6L159.0 496.1L160.0 496.7L161.0 503.1L162.0 499.5L163.0 494.0L164.0 490.3L165.0 485.3L166.0 493.0L167.0 484.1L168.0 487.6L169.0 486.7L170.0 474.4L171.0 491.9L172.0 484.6L173.0 484.1L174.0 479.3L175.0 490.5L176.0 477.2L177.0 480.0L178.0 490.4L179.0 480.9L180.0 490.0L181.0 488.7L182.0 490.2L183.0 485.3L184.0 481.5L185.0 479.1L186.0 474.4L187.0 478.6L188.0 479.5L189.0 476.0L190.0 491.2L191.0 487.5L192.0 481.0L193.0 489.4L194.0 481.5L195.0 490.4L196.0 483.4L197.0 478.4L198.0 473.6L199.0 489.4L200.0 478.6L201.0 477.5L202.0 485.6L203.0 481.4L204.0 478.6L205.0 473.3L206.0 490.1L207.0 474.2L208.0 487.5L209.0 483.3L210.0 478.1L211.0 478.1L212.0 479.6L213.0 485.5L214.0 485.0L215.0 485.9L216.0 473.5L217.0 483.7L218.0 473.2L219.0 487.0L220.0 479.5L221.0 487.9L222.0 487.4L223.0 487.7L224.0 482.7L225.0 471.6L226.0 482.2L227.0 487.0L228.0 488.6L229.0 480.2L230.0 486.0L231.0 476.1L232.0 474.1L233.0 478.8L234.0 486.4L235.0 482.3L236.0 481.5L237.0 474.4L238.0 483.1L239.0 485.3L240.0 475.2L241.0 478.3L242.0 475.8L243.0 474.6L244.0 483.7L245.0 478.2L246.0 489.4L247.0 484.2L248.0 491.1L249.0 487.5L250.0 484.6L251.0 478.5L252.0 488.3L253.0 476.0L254.0 486.3L255.0 478.9L256.0 491.5L257.0 489.0L258.0 489.0L259.0 480.0L260.0 484.0L261.0 489.5L262.0 490.5L263.0 487.5L264.0 484.2L265.0 483.8L266.0 497.4L267.0 493.1L268.0 496.7L269.0 494.5L270.0 486.4L271.0 494.4L272.0 498.5L273.0 499.7L274.0 499.9L275.0 488.2L276.0 497.4L277.0 488.7L278.0 488.6L279.0 492.8L280.0 492.7L281.0 494.5L282.0 501.0L283.0 503.4L284.0 500.7L285.0 502.4L286.0 500.1L287.0 492.0L288.0 496.5L289.0 501.6L290.0 501.2L291.0 501.3L292.0 504.9L293.0 497.1L294.0 501.0L295.0 501.4L296.0 504.5L297.0 504.0L298.0 503.1L299.0 495.1L300.0 501.3L301.0 498.3L302.0 501.4L303.0 500.6L304.0 497.6L305.0 496.9L306.0 506.9L307.0 496.4L308.0 502.4L309.0 502.0L310.0 497.2L311.0 497.6L312.0 498.3L313.0 505.0L314.0 500.2L315.0 506.8L316.0 501.2L317.0 499.6L318.0 501.7L319.0 500.9L320.0 505.5L321.0 501.1L322.0 506.7L323.0 507.0L324.0 499.1L325.0 503.8L326.0 505.6L327.0 499.2L328.0 499.5L329.0 498.6L330.0 502.8L331.0 503.9L332.0 507.3L333.0 502.0L334.0 501.6L335.0 505.6L336.0 504.7L337.0 498.1L338.0 507.4L339.0 506.4L340.0 508.5L341.0 508.9L342.0 500.7L343.0 506.9L344.0 505.3L345.0 498.9L346.0 507.7L347.0 505.9L348.0 503.8L349.0 502.9L350.0 502.8L351.0 500.8L352.0 508.4L353.0 509.3L354.0 510.2L355.0 507.1L356.0 505.4L357.0 508.6L358.0 500.5L359.0 506.0L359.8 543.0Z" fill="#8a10ff" opacity="0.45" filter="url(#bl_h)"/>
<path d="M39.0 494.7V535.0M44.2 501.4V535.0M50.0 500.5V535.0M54.2 490.7V535.0M57.9 500.6V535.0M62.1 494.3V535.0M67.8 507.4V535.0M71.5 489.9V535.0M77.2 503.7V535.0M81.7 497.7V535.0M88.2 505.9V535.0M297.2 513.1V535.0M303.1 518.4V535.0M310.7 507.7V535.0M318.1 515.9V535.0M325.4 504.3V535.0M333.0 512.7V535.0M337.3 516.2V535.0M341.5 516.1V535.0M348.9 498.1V535.0M353.9 503.2V535.0" stroke="url(#stk_d)" stroke-width="1.0" opacity="0.2" fill="none" filter="url(#bl_s)"/>
<path d="M265.7 496.5V535.0M270.7 504.9V535.0M274.1 502.8V535.0M278.6 504.2V535.0M281.5 507.5V535.0M285.4 502.0V535.0M289.1 494.7V535.0M292.7 494.5V535.0" stroke="url(#stk_d)" stroke-width="1.1" opacity="0.4" fill="none" filter="url(#bl_s)"/>
<path d="M234.7 479.1V535.0M238.9 483.7V535.0M244.7 485.6V535.0M253.0 479.3V535.0M256.3 484.5V535.0" stroke="url(#stk_d)" stroke-width="1.2" opacity="0.4" fill="none" filter="url(#bl_s)"/>
<path d="M231.9 483.6V535.0M241.8 480.2V535.0M248.9 482.2V535.0M260.0 483.0V535.0" stroke="url(#stk_d)" stroke-width="1.2" opacity="0.6" fill="none" filter="url(#bl_s)"/>
<path d="M162.4 469.8V535.0M168.4 480.5V535.0M173.6 463.8V535.0M179.5 467.0V535.0M185.3 459.9V535.0M202.1 477.9V535.0M207.1 485.1V535.0M212.8 469.9V535.0M216.6 482.4V535.0M222.1 468.4V535.0M226.9 464.3V535.0" stroke="url(#hot_d)" stroke-width="1.5" opacity="0.6" fill="none" filter="url(#bl_s)"/>
<path d="M104.8 456.4V535.0M146.1 460.6V535.0M149.9 463.6V535.0M158.9 463.7V535.0" stroke="url(#hot_d)" stroke-width="2.2" opacity="0.6" fill="none" filter="url(#bl_s)"/>
<path d="M189.4 484.9V535.0M195.7 474.2V535.0" stroke="url(#hot_d)" stroke-width="1.5" opacity="0.8" fill="none" filter="url(#bl_s)"/>
<path d="M109.6 455.3V535.0M115.3 464.5V535.0M120.8 459.4V535.0M127.0 457.5V535.0M139.5 456.2V535.0M154.1 461.5V535.0" stroke="url(#hot_d)" stroke-width="2.2" opacity="0.8" fill="none" filter="url(#bl_s)"/>
<path d="M100.7 453.0V535.0" stroke="url(#stk_d)" stroke-width="1.4" opacity="1.0" fill="none" filter="url(#bl_s)"/>
<path d="M133.5 455.2V535.0" stroke="url(#hot_d)" stroke-width="2.2" opacity="1.0" fill="none" filter="url(#bl_s)"/>
<path d="M36.0 541.0L36.0 523.1L37.0 524.9L38.0 522.9L39.0 524.4L40.0 525.1L41.0 525.2L42.0 522.8L43.0 525.8L44.0 523.1L45.0 523.8L46.0 526.5L47.0 523.1L48.0 525.9L49.0 525.8L50.0 524.0L51.0 523.2L52.0 524.7L53.0 523.1L54.0 523.2L55.0 525.3L56.0 523.4L57.0 523.4L58.0 524.4L59.0 523.9L60.0 524.2L61.0 526.1L62.0 524.7L63.0 523.4L64.0 526.2L65.0 525.4L66.0 524.7L67.0 525.7L68.0 523.3L69.0 525.1L70.0 525.5L71.0 523.4L72.0 523.7L73.0 526.1L74.0 523.4L75.0 526.4L76.0 526.1L77.0 524.3L78.0 523.5L79.0 525.6L80.0 522.8L81.0 523.1L82.0 523.3L83.0 525.5L84.0 525.3L85.0 523.7L86.0 523.9L87.0 523.8L88.0 523.0L89.0 526.6L90.0 531.8L91.0 532.2L92.0 530.8L93.0 530.4L94.0 532.0L95.0 531.5L96.0 530.2L97.0 530.2L98.0 530.7L99.0 526.7L100.0 525.8L101.0 525.2L102.0 526.3L103.0 523.1L104.0 524.3L105.0 523.5L106.0 525.5L107.0 523.6L108.0 522.4L109.0 522.3L110.0 523.5L111.0 524.2L112.0 522.3L113.0 524.5L114.0 525.2L115.0 524.7L116.0 523.4L117.0 525.7L118.0 523.1L119.0 522.8L120.0 521.3L121.0 524.5L122.0 524.9L123.0 523.9L124.0 524.4L125.0 524.2L126.0 525.1L127.0 523.8L128.0 524.2L129.0 522.9L130.0 521.6L131.0 521.9L132.0 522.0L133.0 523.9L134.0 522.7L135.0 521.3L136.0 520.7L137.0 523.8L138.0 521.4L139.0 519.9L140.0 520.1L141.0 522.7L142.0 519.6L143.0 519.7L144.0 520.2L145.0 520.2L146.0 519.5L147.0 522.5L148.0 522.0L149.0 521.7L150.0 521.5L151.0 522.2L152.0 520.3L153.0 517.4L154.0 515.8L155.0 516.5L156.0 517.1L157.0 518.2L158.0 514.0L159.0 516.8L160.0 511.2L161.0 511.7L162.0 510.2L163.0 512.6L164.0 515.0L165.0 513.4L166.0 511.9L167.0 510.0L168.0 509.5L169.0 506.2L170.0 510.8L171.0 506.9L172.0 508.2L173.0 507.2L174.0 502.8L175.0 507.3L176.0 505.7L177.0 506.3L178.0 502.0L179.0 505.9L180.0 505.1L181.0 508.0L182.0 503.6L183.0 505.3L184.0 500.2L185.0 500.6L186.0 500.9L187.0 499.3L188.0 500.5L189.0 501.5L190.0 503.9L191.0 506.4L192.0 506.1L193.0 500.2L194.0 498.2L195.0 504.1L196.0 500.6L197.0 502.6L198.0 496.7L199.0 498.1L200.0 503.7L201.0 501.6L202.0 497.5L203.0 496.7L204.0 502.3L205.0 498.2L206.0 497.0L207.0 496.9L208.0 502.7L209.0 502.7L210.0 496.9L211.0 500.6L212.0 496.1L213.0 495.8L214.0 497.7L215.0 498.0L216.0 501.6L217.0 495.9L218.0 497.1L219.0 502.8L220.0 495.4L221.0 495.0L222.0 500.1L223.0 503.7L224.0 497.1L225.0 503.4L226.0 496.7L227.0 500.6L228.0 503.7L229.0 502.4L230.0 497.2L231.0 500.8L232.0 494.2L233.0 501.5L234.0 501.5L235.0 501.6L236.0 494.6L237.0 496.3L238.0 493.8L239.0 496.2L240.0 498.6L241.0 502.4L242.0 498.5L243.0 495.7L244.0 498.0L245.0 503.6L246.0 503.2L247.0 496.8L248.0 502.5L249.0 503.6L250.0 503.5L251.0 503.8L252.0 501.0L253.0 503.0L254.0 495.3L255.0 503.9L256.0 497.0L257.0 501.0L258.0 504.7L259.0 507.1L260.0 501.2L261.0 509.8L262.0 510.8L263.0 507.2L264.0 507.1L265.0 508.5L266.0 511.5L267.0 511.0L268.0 509.8L269.0 507.7L270.0 513.4L271.0 511.3L272.0 509.4L273.0 510.2L274.0 514.5L275.0 515.5L276.0 513.1L277.0 511.8L278.0 516.0L279.0 516.7L280.0 513.6L281.0 514.8L282.0 517.1L283.0 516.7L284.0 517.6L285.0 519.7L286.0 517.8L287.0 519.1L288.0 522.0L289.0 524.1L290.0 521.5L291.0 523.4L292.0 525.6L293.0 524.4L294.0 525.1L295.0 527.2L296.0 529.1L297.0 527.5L298.0 529.6L299.0 528.2L300.0 527.5L301.0 529.7L302.0 528.2L303.0 528.5L304.0 529.0L305.0 528.1L306.0 528.8L307.0 529.4L308.0 528.6L309.0 529.0L310.0 528.7L311.0 527.6L312.0 529.3L313.0 527.2L314.0 527.7L315.0 527.3L316.0 529.5L317.0 527.1L318.0 528.9L319.0 529.0L320.0 529.1L321.0 527.3L322.0 529.3L323.0 529.5L324.0 527.9L325.0 527.9L326.0 527.3L327.0 528.2L328.0 528.5L329.0 527.2L330.0 527.4L331.0 528.6L332.0 528.9L333.0 528.3L334.0 528.2L335.0 527.1L336.0 528.4L337.0 529.0L338.0 529.5L339.0 527.8L340.0 528.1L341.0 527.5L342.0 527.6L343.0 528.0L344.0 527.7L345.0 528.5L346.0 529.4L347.0 527.1L348.0 527.8L349.0 527.0L350.0 527.4L351.0 528.7L352.0 528.0L353.0 527.4L354.0 527.6L355.0 527.9L356.0 528.6L357.0 527.2L358.0 528.4L359.0 528.4L359.8 541.0Z" fill="#ff32ff" opacity="0.75" filter="url(#bl_m)"/>
<path d="M36.0 538.0L36.0 538.0L37.0 538.0L38.0 538.0L39.0 538.0L40.0 538.0L41.0 538.0L42.0 538.0L43.0 538.0L44.0 538.0L45.0 538.0L46.0 538.0L47.0 538.0L48.0 538.0L49.0 538.0L50.0 538.0L51.0 538.0L52.0 538.0L53.0 538.0L54.0 538.0L55.0 538.0L56.0 538.0L57.0 538.0L58.0 538.0L59.0 538.0L60.0 538.0L61.0 538.0L62.0 538.0L63.0 538.0L64.0 538.0L65.0 538.0L66.0 538.0L67.0 538.0L68.0 538.0L69.0 538.0L70.0 538.0L71.0 538.0L72.0 538.0L73.0 538.0L74.0 538.0L75.0 538.0L76.0 538.0L77.0 538.0L78.0 538.0L79.0 538.0L80.0 538.0L81.0 538.0L82.0 538.0L83.0 538.0L84.0 538.0L85.0 538.0L86.0 538.0L87.0 538.0L88.0 538.0L89.0 538.0L90.0 538.0L91.0 538.0L92.0 538.0L93.0 538.0L94.0 538.0L95.0 538.0L96.0 538.0L97.0 538.0L98.0 538.0L99.0 538.0L100.0 538.0L101.0 538.0L102.0 538.0L103.0 538.0L104.0 538.0L105.0 538.0L106.0 538.0L107.0 538.0L108.0 538.0L109.0 538.0L110.0 538.0L111.0 538.0L112.0 538.0L113.0 538.0L114.0 538.0L115.0 538.0L116.0 538.0L117.0 538.0L118.0 538.0L119.0 538.0L120.0 538.0L121.0 538.0L122.0 538.0L123.0 538.0L124.0 538.0L125.0 538.0L126.0 538.0L127.0 538.0L128.0 538.0L129.0 538.0L130.0 538.0L131.0 538.0L132.0 538.0L133.0 538.0L134.0 538.0L135.0 538.0L136.0 538.0L137.0 538.0L138.0 538.0L139.0 538.0L140.0 538.0L141.0 538.0L142.0 538.0L143.0 538.0L144.0 538.0L145.0 538.0L146.0 538.0L147.0 538.0L148.0 538.0L149.0 528.4L150.0 528.3L151.0 529.5L152.0 528.9L153.0 528.5L154.0 529.0L155.0 527.5L156.0 527.8L157.0 528.6L158.0 527.8L159.0 527.8L160.0 528.1L161.0 526.9L162.0 527.2L163.0 526.3L164.0 526.2L165.0 526.9L166.0 525.7L167.0 525.7L168.0 524.4L169.0 524.4L170.0 524.0L171.0 524.1L172.0 523.5L173.0 523.3L174.0 523.6L175.0 524.1L176.0 522.9L177.0 523.6L178.0 523.0L179.0 522.6L180.0 524.3L181.0 523.6L182.0 523.0L183.0 522.6L184.0 524.0L185.0 523.1L186.0 523.4L187.0 523.3L188.0 521.6L189.0 523.8L190.0 524.4L191.0 523.5L192.0 523.7L193.0 523.1L194.0 523.2L195.0 523.8L196.0 523.2L197.0 523.6L198.0 522.2L199.0 522.3L200.0 523.0L201.0 523.3L202.0 522.3L203.0 524.0L204.0 521.6L205.0 522.7L206.0 522.4L207.0 523.4L208.0 523.6L209.0 522.8L210.0 522.5L211.0 523.3L212.0 522.9L213.0 522.6L214.0 523.4L215.0 523.4L216.0 523.2L217.0 523.3L218.0 522.3L219.0 524.4L220.0 523.2L221.0 522.7L222.0 524.4L223.0 523.7L224.0 524.2L225.0 523.8L226.0 523.2L227.0 524.2L228.0 523.7L229.0 524.3L230.0 523.5L231.0 523.6L232.0 523.0L233.0 523.2L234.0 523.3L235.0 523.8L236.0 523.8L237.0 523.4L238.0 523.0L239.0 523.7L240.0 524.1L241.0 524.0L242.0 523.8L243.0 524.0L244.0 523.4L245.0 523.6L246.0 522.9L247.0 523.7L248.0 523.6L249.0 522.8L250.0 523.4L251.0 523.5L252.0 524.5L253.0 523.1L254.0 523.1L255.0 522.7L256.0 522.7L257.0 523.6L258.0 523.9L259.0 524.7L260.0 525.5L261.0 525.5L262.0 525.3L263.0 526.1L264.0 525.5L265.0 526.6L266.0 525.9L267.0 526.3L268.0 527.2L269.0 526.9L270.0 525.8L271.0 526.4L272.0 526.9L273.0 526.1L274.0 527.9L275.0 528.2L276.0 527.9L277.0 528.3L278.0 528.1L279.0 528.5L280.0 528.7L281.0 528.5L282.0 529.6L283.0 529.7L284.0 530.1L285.0 529.7L286.0 530.2L287.0 530.5L288.0 530.6L289.0 531.7L290.0 531.7L291.0 532.3L292.0 532.7L293.0 532.6L294.0 533.0L295.0 538.0L296.0 538.0L297.0 538.0L298.0 538.0L299.0 538.0L300.0 538.0L301.0 538.0L302.0 538.0L303.0 538.0L304.0 538.0L305.0 538.0L306.0 538.0L307.0 538.0L308.0 538.0L309.0 538.0L310.0 538.0L311.0 538.0L312.0 538.0L313.0 538.0L314.0 538.0L315.0 538.0L316.0 538.0L317.0 538.0L318.0 538.0L319.0 538.0L320.0 538.0L321.0 538.0L322.0 538.0L323.0 538.0L324.0 538.0L325.0 538.0L326.0 538.0L327.0 538.0L328.0 538.0L329.0 538.0L330.0 538.0L331.0 538.0L332.0 538.0L333.0 538.0L334.0 538.0L335.0 538.0L336.0 538.0L337.0 538.0L338.0 538.0L339.0 538.0L340.0 538.0L341.0 538.0L342.0 538.0L343.0 538.0L344.0 538.0L345.0 538.0L346.0 538.0L347.0 538.0L348.0 538.0L349.0 538.0L350.0 538.0L351.0 538.0L352.0 538.0L353.0 538.0L354.0 538.0L355.0 538.0L356.0 538.0L357.0 538.0L358.0 538.0L359.0 538.0L359.8 538.0Z" fill="#ff2a30" opacity="0.9" filter="url(#bl_y)"/>
<path d="M36.0 538.0L36.0 538.0L37.0 538.0L38.0 538.0L39.0 538.0L40.0 538.0L41.0 538.0L42.0 538.0L43.0 538.0L44.0 538.0L45.0 538.0L46.0 538.0L47.0 538.0L48.0 538.0L49.0 538.0L50.0 538.0L51.0 538.0L52.0 538.0L53.0 538.0L54.0 538.0L55.0 538.0L56.0 538.0L57.0 538.0L58.0 538.0L59.0 538.0L60.0 538.0L61.0 538.0L62.0 538.0L63.0 538.0L64.0 538.0L65.0 538.0L66.0 538.0L67.0 538.0L68.0 538.0L69.0 538.0L70.0 538.0L71.0 538.0L72.0 538.0L73.0 538.0L74.0 538.0L75.0 538.0L76.0 538.0L77.0 538.0L78.0 538.0L79.0 538.0L80.0 538.0L81.0 538.0L82.0 538.0L83.0 538.0L84.0 538.0L85.0 538.0L86.0 538.0L87.0 538.0L88.0 538.0L89.0 538.0L90.0 538.0L91.0 538.0L92.0 538.0L93.0 538.0L94.0 538.0L95.0 538.0L96.0 538.0L97.0 538.0L98.0 538.0L99.0 538.0L100.0 538.0L101.0 538.0L102.0 538.0L103.0 538.0L104.0 538.0L105.0 538.0L106.0 538.0L107.0 538.0L108.0 538.0L109.0 538.0L110.0 538.0L111.0 538.0L112.0 538.0L113.0 538.0L114.0 538.0L115.0 538.0L116.0 538.0L117.0 538.0L118.0 538.0L119.0 538.0L120.0 538.0L121.0 538.0L122.0 538.0L123.0 538.0L124.0 538.0L125.0 538.0L126.0 538.0L127.0 538.0L128.0 538.0L129.0 538.0L130.0 538.0L131.0 538.0L132.0 538.0L133.0 538.0L134.0 538.0L135.0 538.0L136.0 538.0L137.0 538.0L138.0 538.0L139.0 538.0L140.0 538.0L141.0 538.0L142.0 538.0L143.0 538.0L144.0 538.0L145.0 538.0L146.0 538.0L147.0 538.0L148.0 538.0L149.0 530.1L150.0 529.9L151.0 530.6L152.0 530.2L153.0 529.8L154.0 529.9L155.0 529.0L156.0 528.9L157.0 529.5L158.0 528.9L159.0 529.1L160.0 529.1L161.0 528.0L162.0 528.3L163.0 528.0L164.0 527.9L165.0 527.9L166.0 527.3L167.0 527.2L168.0 525.6L169.0 526.0L170.0 524.9L171.0 525.4L172.0 524.7L173.0 524.5L174.0 524.9L175.0 525.2L176.0 524.1L177.0 525.1L178.0 524.7L179.0 524.2L180.0 525.3L181.0 524.5L182.0 524.4L183.0 524.1L184.0 525.3L185.0 524.5L186.0 524.9L187.0 524.3L188.0 523.3L189.0 525.0L190.0 525.3L191.0 524.8L192.0 525.2L193.0 524.8L194.0 524.3L195.0 525.0L196.0 524.8L197.0 524.5L198.0 523.8L199.0 524.0L200.0 524.4L201.0 524.9L202.0 524.1L203.0 524.8L204.0 523.1L205.0 523.7L206.0 524.0L207.0 524.6L208.0 524.9L209.0 523.6L210.0 524.0L211.0 524.9L212.0 524.1L213.0 523.7L214.0 525.1L215.0 524.3L216.0 524.8L217.0 524.7L218.0 524.1L219.0 525.2L220.0 524.4L221.0 524.2L222.0 525.3L223.0 524.8L224.0 525.2L225.0 524.8L226.0 524.5L227.0 525.0L228.0 524.6L229.0 525.6L230.0 524.8L231.0 524.7L232.0 524.5L233.0 524.6L234.0 524.7L235.0 525.5L236.0 525.2L237.0 524.8L238.0 524.7L239.0 525.3L240.0 525.4L241.0 525.2L242.0 524.7L243.0 524.9L244.0 524.6L245.0 525.3L246.0 524.0L247.0 525.0L248.0 525.0L249.0 523.9L250.0 525.2L251.0 524.7L252.0 525.5L253.0 524.3L254.0 524.2L255.0 524.5L256.0 524.5L257.0 524.5L258.0 525.1L259.0 525.7L260.0 526.4L261.0 526.6L262.0 526.9L263.0 527.4L264.0 526.6L265.0 527.8L266.0 527.5L267.0 527.7L268.0 528.1L269.0 528.2L270.0 527.1L271.0 527.8L272.0 528.3L273.0 527.9L274.0 529.2L275.0 529.2L276.0 529.2L277.0 529.1L278.0 529.1L279.0 529.5L280.0 529.9L281.0 529.3L282.0 530.6L283.0 530.7L284.0 531.0L285.0 531.4L286.0 532.0L287.0 531.4L288.0 531.7L289.0 532.9L290.0 533.2L291.0 533.5L292.0 534.0L293.0 534.3L294.0 534.6L295.0 538.0L296.0 538.0L297.0 538.0L298.0 538.0L299.0 538.0L300.0 538.0L301.0 538.0L302.0 538.0L303.0 538.0L304.0 538.0L305.0 538.0L306.0 538.0L307.0 538.0L308.0 538.0L309.0 538.0L310.0 538.0L311.0 538.0L312.0 538.0L313.0 538.0L314.0 538.0L315.0 538.0L316.0 538.0L317.0 538.0L318.0 538.0L319.0 538.0L320.0 538.0L321.0 538.0L322.0 538.0L323.0 538.0L324.0 538.0L325.0 538.0L326.0 538.0L327.0 538.0L328.0 538.0L329.0 538.0L330.0 538.0L331.0 538.0L332.0 538.0L333.0 538.0L334.0 538.0L335.0 538.0L336.0 538.0L337.0 538.0L338.0 538.0L339.0 538.0L340.0 538.0L341.0 538.0L342.0 538.0L343.0 538.0L344.0 538.0L345.0 538.0L346.0 538.0L347.0 538.0L348.0 538.0L349.0 538.0L350.0 538.0L351.0 538.0L352.0 538.0L353.0 538.0L354.0 538.0L355.0 538.0L356.0 538.0L357.0 538.0L358.0 538.0L359.0 538.0L359.8 538.0Z" fill="#f2ff3c" filter="url(#bl_y)"/>
<path d="M99.0 526.4h1.0v1.4h-1.0ZM103.0 526.4h1.4v1.4h-1.4ZM106.0 529.2h1.4v1.4h-1.4ZM107.0 527.9h1.3v1.4h-1.3ZM108.0 531.5h1.3v1.4h-1.3ZM109.0 531.6h1.5v1.4h-1.5ZM112.0 530.7h1.0v1.4h-1.0ZM113.0 531.3h1.3v1.4h-1.3ZM114.0 529.0h1.2v1.4h-1.2ZM117.0 530.1h1.5v1.4h-1.5ZM118.0 531.7h1.2v1.4h-1.2ZM119.0 526.2h1.2v1.4h-1.2ZM121.0 531.5h1.1v1.4h-1.1ZM127.0 531.3h1.3v1.4h-1.3ZM130.0 530.7h1.0v1.4h-1.0ZM131.0 526.0h1.3v1.4h-1.3ZM138.0 529.3h1.1v1.4h-1.1ZM141.0 530.3h1.2v1.4h-1.2ZM142.0 528.2h1.0v1.4h-1.0ZM143.0 526.1h1.4v1.4h-1.4ZM144.0 528.4h1.2v1.4h-1.2ZM145.0 529.7h1.1v1.4h-1.1ZM146.0 526.6h1.3v1.4h-1.3ZM147.0 526.0h1.3v1.4h-1.3ZM148.0 528.8h1.3v1.4h-1.3ZM149.0 527.6h1.6v1.4h-1.6ZM150.0 520.5h1.1v1.4h-1.1ZM151.0 517.6h1.1v1.4h-1.1ZM153.0 524.1h1.0v1.4h-1.0ZM156.0 522.7h1.2v1.4h-1.2ZM162.0 518.4h1.5v1.4h-1.5ZM163.0 516.8h1.1v1.4h-1.1ZM165.0 519.9h1.1v1.4h-1.1ZM168.0 523.4h1.6v1.4h-1.6ZM169.0 524.7h1.5v1.4h-1.5ZM172.0 522.4h1.5v1.4h-1.5ZM175.0 521.0h1.3v1.4h-1.3ZM176.0 522.7h1.6v1.4h-1.6ZM179.0 518.4h1.4v1.4h-1.4ZM180.0 524.5h1.5v1.4h-1.5ZM181.0 524.5h1.3v1.4h-1.3ZM183.0 523.3h1.3v1.4h-1.3ZM186.0 518.7h1.5v1.4h-1.5ZM187.0 520.0h1.3v1.4h-1.3ZM188.0 524.8h1.4v1.4h-1.4ZM191.0 520.0h1.6v1.4h-1.6ZM192.0 517.7h1.2v1.4h-1.2ZM193.0 522.6h1.2v1.4h-1.2ZM195.0 518.1h1.1v1.4h-1.1ZM198.0 518.4h1.2v1.4h-1.2ZM199.0 520.3h1.1v1.4h-1.1ZM201.0 522.2h1.6v1.4h-1.6ZM202.0 521.4h1.2v1.4h-1.2ZM203.0 522.7h1.6v1.4h-1.6ZM205.0 523.8h1.0v1.4h-1.0ZM206.0 521.3h1.1v1.4h-1.1ZM207.0 517.7h1.0v1.4h-1.0ZM208.0 520.9h1.5v1.4h-1.5ZM209.0 524.2h1.6v1.4h-1.6ZM210.0 524.2h1.1v1.4h-1.1ZM211.0 518.0h1.0v1.4h-1.0ZM212.0 518.9h1.5v1.4h-1.5ZM214.0 521.5h1.4v1.4h-1.4ZM215.0 520.2h1.3v1.4h-1.3ZM219.0 522.4h1.3v1.4h-1.3ZM220.0 524.0h1.4v1.4h-1.4ZM221.0 523.2h1.1v1.4h-1.1ZM223.0 523.4h1.0v1.4h-1.0ZM224.0 521.5h1.4v1.4h-1.4ZM227.0 520.4h1.3v1.4h-1.3ZM228.0 523.9h1.5v1.4h-1.5ZM229.0 518.0h1.4v1.4h-1.4ZM231.0 522.9h1.6v1.4h-1.6ZM232.0 520.6h1.5v1.4h-1.5ZM233.0 521.2h1.6v1.4h-1.6ZM234.0 520.9h1.5v1.4h-1.5ZM237.0 523.0h1.1v1.4h-1.1ZM239.0 523.9h1.1v1.4h-1.1ZM240.0 524.5h1.6v1.4h-1.6ZM242.0 523.9h1.0v1.4h-1.0ZM244.0 518.1h1.0v1.4h-1.0ZM248.0 521.8h1.5v1.4h-1.5ZM250.0 523.3h1.5v1.4h-1.5ZM251.0 517.2h1.1v1.4h-1.1ZM252.0 521.4h1.3v1.4h-1.3ZM254.0 524.3h1.2v1.4h-1.2ZM255.0 520.1h1.3v1.4h-1.3ZM257.0 524.4h1.5v1.4h-1.5ZM258.0 519.8h1.2v1.4h-1.2ZM260.0 523.5h1.3v1.4h-1.3ZM262.0 526.8h1.6v1.4h-1.6ZM264.0 527.9h1.3v1.4h-1.3ZM265.0 527.4h1.4v1.4h-1.4ZM266.0 528.4h1.1v1.4h-1.1ZM267.0 528.5h1.5v1.4h-1.5ZM268.0 523.2h1.5v1.4h-1.5ZM269.0 522.8h1.3v1.4h-1.3ZM271.0 530.0h1.3v1.4h-1.3ZM272.0 530.7h1.1v1.4h-1.1ZM273.0 522.5h1.0v1.4h-1.0ZM274.0 529.3h1.1v1.4h-1.1ZM276.0 521.9h1.0v1.4h-1.0ZM277.0 527.8h1.0v1.4h-1.0ZM278.0 530.0h1.2v1.4h-1.2ZM279.0 529.1h1.2v1.4h-1.2ZM280.0 530.6h1.4v1.4h-1.4ZM281.0 528.1h1.2v1.4h-1.2ZM282.0 523.4h1.2v1.4h-1.2ZM286.0 530.6h1.4v1.4h-1.4ZM289.0 522.9h1.5v1.4h-1.5ZM292.0 522.6h1.3v1.4h-1.3ZM293.0 530.7h1.5v1.4h-1.5Z" fill="#ff3040" opacity="0.5" filter="url(#bl_y)"/>
<path d="M99.0 527.6h1.0V535.0h-1.0ZM103.0 527.6h1.4V535.0h-1.4ZM106.0 530.4h1.4V535.0h-1.4ZM107.0 529.1h1.3V535.0h-1.3ZM108.0 532.7h1.3V535.0h-1.3ZM109.0 532.8h1.5V535.0h-1.5ZM112.0 531.9h1.0V535.0h-1.0ZM113.0 532.5h1.3V535.0h-1.3ZM114.0 530.2h1.2V535.0h-1.2ZM117.0 531.3h1.5V535.0h-1.5ZM118.0 532.9h1.2V535.0h-1.2ZM119.0 527.4h1.2V535.0h-1.2ZM121.0 532.7h1.1V535.0h-1.1ZM127.0 532.5h1.3V535.0h-1.3ZM130.0 531.9h1.0V535.0h-1.0ZM131.0 527.2h1.3V535.0h-1.3ZM138.0 530.5h1.1V535.0h-1.1ZM141.0 531.5h1.2V535.0h-1.2ZM142.0 529.4h1.0V535.0h-1.0ZM143.0 527.3h1.4V535.0h-1.4ZM144.0 529.6h1.2V535.0h-1.2ZM145.0 530.9h1.1V535.0h-1.1ZM146.0 527.8h1.3V535.0h-1.3ZM147.0 527.2h1.3V535.0h-1.3ZM148.0 530.0h1.3V535.0h-1.3ZM149.0 528.8h1.6V535.0h-1.6ZM150.0 521.7h1.1V535.0h-1.1ZM151.0 518.8h1.1V535.0h-1.1ZM153.0 525.3h1.0V535.0h-1.0ZM156.0 523.9h1.2V535.0h-1.2ZM162.0 519.6h1.5V535.0h-1.5ZM163.0 518.0h1.1V535.0h-1.1ZM165.0 521.1h1.1V535.0h-1.1ZM168.0 524.6h1.6V535.0h-1.6ZM169.0 525.9h1.5V535.0h-1.5ZM172.0 523.6h1.5V535.0h-1.5ZM175.0 522.2h1.3V535.0h-1.3ZM176.0 523.9h1.6V535.0h-1.6ZM179.0 519.6h1.4V535.0h-1.4ZM180.0 525.7h1.5V535.0h-1.5ZM181.0 525.7h1.3V535.0h-1.3ZM183.0 524.5h1.3V535.0h-1.3ZM186.0 519.9h1.5V535.0h-1.5ZM187.0 521.2h1.3V535.0h-1.3ZM188.0 526.0h1.4V535.0h-1.4ZM191.0 521.2h1.6V535.0h-1.6ZM192.0 518.9h1.2V535.0h-1.2ZM193.0 523.8h1.2V535.0h-1.2ZM195.0 519.3h1.1V535.0h-1.1ZM198.0 519.6h1.2V535.0h-1.2ZM199.0 521.5h1.1V535.0h-1.1ZM201.0 523.4h1.6V535.0h-1.6ZM202.0 522.6h1.2V535.0h-1.2ZM203.0 523.9h1.6V535.0h-1.6ZM205.0 525.0h1.0V535.0h-1.0ZM206.0 522.5h1.1V535.0h-1.1ZM207.0 518.9h1.0V535.0h-1.0ZM208.0 522.1h1.5V535.0h-1.5ZM209.0 525.4h1.6V535.0h-1.6ZM210.0 525.4h1.1V535.0h-1.1ZM211.0 519.2h1.0V535.0h-1.0ZM212.0 520.1h1.5V535.0h-1.5ZM214.0 522.7h1.4V535.0h-1.4ZM215.0 521.4h1.3V535.0h-1.3ZM219.0 523.6h1.3V535.0h-1.3ZM220.0 525.2h1.4V535.0h-1.4ZM221.0 524.4h1.1V535.0h-1.1ZM223.0 524.6h1.0V535.0h-1.0ZM224.0 522.7h1.4V535.0h-1.4ZM227.0 521.6h1.3V535.0h-1.3ZM228.0 525.1h1.5V535.0h-1.5ZM229.0 519.2h1.4V535.0h-1.4ZM231.0 524.1h1.6V535.0h-1.6ZM232.0 521.8h1.5V535.0h-1.5ZM233.0 522.4h1.6V535.0h-1.6ZM234.0 522.1h1.5V535.0h-1.5ZM237.0 524.2h1.1V535.0h-1.1ZM239.0 525.1h1.1V535.0h-1.1ZM240.0 525.7h1.6V535.0h-1.6ZM242.0 525.1h1.0V535.0h-1.0ZM244.0 519.3h1.0V535.0h-1.0ZM248.0 523.0h1.5V535.0h-1.5ZM250.0 524.5h1.5V535.0h-1.5ZM251.0 518.4h1.1V535.0h-1.1ZM252.0 522.6h1.3V535.0h-1.3ZM254.0 525.5h1.2V535.0h-1.2ZM255.0 521.3h1.3V535.0h-1.3ZM257.0 525.6h1.5V535.0h-1.5ZM258.0 521.0h1.2V535.0h-1.2ZM260.0 524.7h1.3V535.0h-1.3ZM262.0 528.0h1.6V535.0h-1.6ZM264.0 529.1h1.3V535.0h-1.3ZM265.0 528.6h1.4V535.0h-1.4ZM266.0 529.6h1.1V535.0h-1.1ZM267.0 529.7h1.5V535.0h-1.5ZM268.0 524.4h1.5V535.0h-1.5ZM269.0 524.0h1.3V535.0h-1.3ZM271.0 531.2h1.3V535.0h-1.3ZM272.0 531.9h1.1V535.0h-1.1ZM273.0 523.7h1.0V535.0h-1.0ZM274.0 530.5h1.1V535.0h-1.1ZM276.0 523.1h1.0V535.0h-1.0ZM277.0 529.0h1.0V535.0h-1.0ZM278.0 531.2h1.2V535.0h-1.2ZM279.0 530.3h1.2V535.0h-1.2ZM280.0 531.8h1.4V535.0h-1.4ZM281.0 529.3h1.2V535.0h-1.2ZM282.0 524.6h1.2V535.0h-1.2ZM286.0 531.8h1.4V535.0h-1.4ZM289.0 524.1h1.5V535.0h-1.5ZM292.0 523.8h1.3V535.0h-1.3ZM293.0 531.9h1.5V535.0h-1.5Z" fill="#f2ff3c" filter="url(#bl_y)"/>
<path d="M151.0 529.4h1.2v3.0h-1.2ZM155.0 521.8h1.2v2.4h-1.2ZM163.0 527.5h1.2v1.9h-1.2ZM164.0 520.1h1.2v3.1h-1.2ZM172.0 528.5h1.2v2.5h-1.2ZM176.0 528.3h1.2v3.0h-1.2ZM180.0 528.6h1.2v2.4h-1.2ZM182.0 528.8h1.2v1.6h-1.2ZM195.0 524.4h1.2v1.9h-1.2ZM199.0 525.8h1.2v2.1h-1.2ZM200.0 524.3h1.2v3.1h-1.2ZM223.0 522.9h1.2v3.5h-1.2ZM232.0 524.4h1.2v2.2h-1.2ZM235.0 525.0h1.2v2.1h-1.2ZM239.0 525.4h1.2v2.4h-1.2ZM246.0 524.2h1.2v2.7h-1.2ZM249.0 524.5h1.2v2.9h-1.2ZM250.0 523.6h1.2v3.3h-1.2ZM251.0 525.7h1.2v3.1h-1.2ZM259.0 528.9h1.2v1.7h-1.2ZM263.0 525.9h1.2v2.5h-1.2ZM266.0 527.7h1.2v2.4h-1.2ZM271.0 530.1h1.2v2.3h-1.2ZM273.0 526.4h1.2v1.9h-1.2ZM281.0 529.4h1.2v2.7h-1.2ZM293.0 529.5h1.2v1.5h-1.2Z" fill="#ff50e0" opacity="0.85" filter="url(#bl_y)"/>
<path d="M36.0 532.5h1.3v2.3h-1.3ZM37.0 530.4h1.3v1.6h-1.3ZM39.0 533.7h1.3v1.7h-1.3ZM40.0 532.5h1.3v1.7h-1.3ZM41.0 531.9h1.3v1.4h-1.3ZM42.0 532.5h1.3v1.3h-1.3ZM43.0 532.9h1.3v2.2h-1.3ZM44.0 533.4h1.3v1.5h-1.3ZM46.0 531.9h1.3v2.2h-1.3ZM47.0 530.5h1.3v1.6h-1.3ZM48.0 533.3h1.3v2.1h-1.3ZM50.0 532.8h1.3v1.7h-1.3ZM51.0 530.1h1.3v2.1h-1.3ZM52.0 531.8h1.3v2.5h-1.3ZM53.0 532.2h1.3v1.7h-1.3ZM55.0 531.4h1.3v2.3h-1.3ZM56.0 531.8h1.3v1.3h-1.3ZM58.0 534.0h1.3v1.4h-1.3ZM59.0 533.3h1.3v1.9h-1.3ZM61.0 533.4h1.3v1.6h-1.3ZM62.0 531.5h1.3v1.4h-1.3ZM63.0 530.7h1.3v2.5h-1.3ZM64.0 533.8h1.3v1.7h-1.3ZM65.0 533.9h1.3v2.1h-1.3ZM66.0 532.4h1.3v1.4h-1.3ZM68.0 533.2h1.3v2.0h-1.3ZM69.0 530.2h1.3v1.6h-1.3ZM70.0 531.1h1.3v2.2h-1.3ZM71.0 532.0h1.3v1.6h-1.3ZM72.0 533.1h1.3v2.2h-1.3ZM73.0 531.0h1.3v1.2h-1.3ZM74.0 533.5h1.3v1.9h-1.3ZM75.0 532.6h1.3v1.4h-1.3ZM76.0 531.1h1.3v1.6h-1.3ZM77.0 532.5h1.3v2.1h-1.3ZM78.0 532.1h1.3v1.7h-1.3ZM79.0 533.8h1.3v2.2h-1.3ZM80.0 532.9h1.3v1.9h-1.3ZM81.0 531.1h1.3v2.4h-1.3ZM82.0 530.8h1.3v2.5h-1.3ZM83.0 533.9h1.3v2.3h-1.3ZM85.0 531.4h1.3v1.9h-1.3ZM86.0 533.3h1.3v1.2h-1.3ZM87.0 530.7h1.3v2.1h-1.3ZM88.0 533.3h1.3v2.4h-1.3ZM99.0 529.9h1.3v1.3h-1.3ZM100.0 533.2h1.3v1.4h-1.3ZM101.0 529.7h1.3v2.3h-1.3ZM102.0 533.0h1.3v1.3h-1.3ZM103.0 532.9h1.3v1.7h-1.3ZM108.0 532.2h1.3v1.4h-1.3ZM109.0 529.5h1.3v2.0h-1.3ZM111.0 533.8h1.3v1.6h-1.3ZM112.0 529.8h1.3v1.5h-1.3ZM113.0 530.6h1.3v2.3h-1.3ZM114.0 529.4h1.3v1.9h-1.3ZM115.0 530.8h1.3v1.9h-1.3ZM118.0 532.9h1.3v1.4h-1.3ZM119.0 533.2h1.3v1.7h-1.3ZM120.0 530.1h1.3v1.5h-1.3ZM121.0 531.5h1.3v1.7h-1.3ZM123.0 529.1h1.3v1.3h-1.3ZM124.0 531.2h1.3v2.2h-1.3ZM125.0 528.4h1.3v1.3h-1.3ZM126.0 533.4h1.3v2.5h-1.3ZM127.0 529.8h1.3v2.1h-1.3ZM129.0 528.2h1.3v1.8h-1.3ZM131.0 533.3h1.3v2.1h-1.3ZM132.0 533.2h1.3v2.3h-1.3ZM133.0 533.8h1.3v1.3h-1.3ZM136.0 529.7h1.3v2.0h-1.3ZM137.0 528.1h1.3v2.0h-1.3ZM139.0 529.5h1.3v2.4h-1.3ZM142.0 530.6h1.3v2.4h-1.3ZM143.0 531.4h1.3v1.3h-1.3ZM144.0 532.6h1.3v2.4h-1.3ZM145.0 528.1h1.3v1.4h-1.3ZM147.0 528.5h1.3v2.5h-1.3ZM148.0 530.4h1.3v1.7h-1.3Z" fill="#f2ff3c" opacity="0.9" filter="url(#bl_y)"/>
<path d="M36.0 533.6h1.2v1.4h-1.2ZM38.0 533.6h2.3v1.4h-2.3ZM46.0 533.6h2.8v1.4h-2.8ZM48.0 533.6h2.0v1.4h-2.0ZM50.0 533.6h2.3v1.4h-2.3ZM52.0 533.6h2.9v1.4h-2.9ZM56.0 533.6h1.4v1.4h-1.4ZM58.0 533.6h1.1v1.4h-1.1ZM60.0 533.6h2.0v1.4h-2.0ZM62.0 533.6h2.3v1.4h-2.3ZM66.0 533.6h1.7v1.4h-1.7ZM68.0 533.6h1.2v1.4h-1.2ZM72.0 533.6h1.7v1.4h-1.7ZM76.0 533.6h1.4v1.4h-1.4ZM84.0 533.6h1.5v1.4h-1.5ZM86.0 533.6h1.4v1.4h-1.4ZM88.0 533.6h1.4v1.4h-1.4ZM90.0 533.6h1.2v1.4h-1.2ZM96.0 533.6h2.5v1.4h-2.5ZM98.0 533.6h1.2v1.4h-1.2ZM100.0 533.6h1.3v1.4h-1.3ZM104.0 533.6h1.8v1.4h-1.8ZM106.0 533.6h2.7v1.4h-2.7ZM108.0 533.6h2.2v1.4h-2.2ZM110.0 533.6h1.5v1.4h-1.5ZM112.0 533.6h1.4v1.4h-1.4ZM114.0 533.6h3.0v1.4h-3.0ZM130.0 533.6h1.7v1.4h-1.7ZM134.0 533.6h1.7v1.4h-1.7ZM136.0 533.6h2.5v1.4h-2.5ZM148.0 533.6h2.1v1.4h-2.1ZM152.0 533.6h1.3v1.4h-1.3ZM156.0 533.6h1.6v1.4h-1.6ZM164.0 533.6h2.5v1.4h-2.5ZM168.0 533.6h1.0v1.4h-1.0ZM170.0 533.6h1.8v1.4h-1.8ZM172.0 533.6h2.2v1.4h-2.2ZM176.0 533.6h2.3v1.4h-2.3ZM178.0 533.6h2.6v1.4h-2.6ZM184.0 533.6h2.1v1.4h-2.1ZM188.0 533.6h2.8v1.4h-2.8ZM190.0 533.6h1.9v1.4h-1.9ZM192.0 533.6h2.0v1.4h-2.0ZM196.0 533.6h2.2v1.4h-2.2ZM202.0 533.6h2.9v1.4h-2.9ZM204.0 533.6h1.7v1.4h-1.7ZM206.0 533.6h1.6v1.4h-1.6ZM214.0 533.6h1.4v1.4h-1.4ZM216.0 533.6h2.7v1.4h-2.7ZM218.0 533.6h1.8v1.4h-1.8ZM220.0 533.6h2.0v1.4h-2.0ZM222.0 533.6h1.6v1.4h-1.6ZM226.0 533.6h2.9v1.4h-2.9ZM228.0 533.6h2.7v1.4h-2.7ZM232.0 533.6h1.1v1.4h-1.1ZM234.0 533.6h1.8v1.4h-1.8ZM238.0 533.6h1.1v1.4h-1.1ZM244.0 533.6h1.4v1.4h-1.4ZM246.0 533.6h1.6v1.4h-1.6ZM254.0 533.6h1.9v1.4h-1.9ZM256.0 533.6h1.7v1.4h-1.7ZM260.0 533.6h2.3v1.4h-2.3ZM264.0 533.6h2.9v1.4h-2.9ZM266.0 533.6h1.0v1.4h-1.0ZM272.0 533.6h2.8v1.4h-2.8ZM276.0 533.6h2.7v1.4h-2.7ZM278.0 533.6h3.0v1.4h-3.0ZM286.0 533.6h2.3v1.4h-2.3ZM288.0 533.6h2.3v1.4h-2.3ZM292.0 533.6h1.9v1.4h-1.9ZM294.0 533.6h1.8v1.4h-1.8ZM296.0 533.6h1.0v1.4h-1.0ZM298.0 533.6h1.2v1.4h-1.2ZM302.0 533.6h1.2v1.4h-1.2ZM306.0 533.6h2.0v1.4h-2.0ZM308.0 533.6h2.8v1.4h-2.8ZM312.0 533.6h1.9v1.4h-1.9ZM316.0 533.6h1.3v1.4h-1.3ZM322.0 533.6h2.6v1.4h-2.6ZM324.0 533.6h2.4v1.4h-2.4ZM328.0 533.6h1.5v1.4h-1.5ZM332.0 533.6h2.5v1.4h-2.5ZM342.0 533.6h1.7v1.4h-1.7ZM344.0 533.6h1.5v1.4h-1.5ZM346.0 533.6h2.4v1.4h-2.4ZM348.0 533.6h2.8v1.4h-2.8ZM350.0 533.6h1.5v1.4h-1.5ZM352.0 533.6h2.1v1.4h-2.1ZM356.0 533.6h1.3v1.4h-1.3ZM358.0 533.6h1.1v1.4h-1.1Z" fill="#e040e0" opacity="0.8"/>
<rect x="36.0" y="453.0" width="323.8" height="0.9" fill="#8a80ff"/>
</svg>
<line x1="35.30" y1="452.70" x2="35.30" y2="536.20" stroke="#000" stroke-width="1.3" />
<line x1="34.70" y1="535.50" x2="360.10" y2="535.50" stroke="#000" stroke-width="1.6" />
<line x1="32.80" y1="453.20" x2="35.30" y2="453.20" stroke="#000" stroke-width="1.2" />
<text x="11.25" y="457.00" font-size="12.40" fill="#000">100</text>
<line x1="32.80" y1="494.00" x2="35.30" y2="494.00" stroke="#000" stroke-width="1.2" />
<text x="18.13" y="497.80" font-size="12.40" fill="#000">50</text>
<line x1="32.80" y1="535.30" x2="35.30" y2="535.30" stroke="#000" stroke-width="1.2" />
<text x="25.01" y="539.10" font-size="12.40" fill="#000">0</text>
<text x="0" y="0" font-size="10.62" fill="#000" transform="translate(14.10,534.19) rotate(-90)">Frequency (Hz)</text>
<text x="36.35" y="461.50" font-size="11.55" fill="#fff">KO-350</text>
<rect x="364.9" y="454.20" width="5.4" height="81.80" fill="url(#cbar)"/>
<text x="371.45" y="459.10" font-size="11.57" fill="#000">Max</text>
<text x="371.43" y="535.90" font-size="11.91" fill="#000">Min</text>
<text x="0" y="0" font-size="11.20" fill="#000" transform="translate(381.30,526.13) rotate(-90)">Power (&#956;V<tspan font-size="7" dy="-4">2</tspan><tspan dy="4">)</tspan></text>
<text x="38.69" y="547.30" font-size="11.43" fill="#000">Time (min)</text>
<line x1="35.80" y1="549.80" x2="97.80" y2="549.80" stroke="#000" stroke-width="1.5" />
<path d="M103.30,549.80 L97.30,546.80 L97.30,552.80 Z" fill="#000"/>
<rect x="434.00" y="118.77" width="32.30" height="83.73" fill="#d6d6d6" stroke="#8c8c8c" stroke-width="1.1" />
<rect x="470.80" y="149.97" width="32.30" height="52.53" fill="#f6dee1" stroke="#ef939b" stroke-width="1.1" />
<rect x="507.70" y="120.48" width="31.80" height="82.02" fill="#bb88bf" stroke="#6c2271" stroke-width="1.1" />
<line x1="450.10" y1="113.30" x2="450.10" y2="123.20" stroke="#a3a3a3" stroke-width="0.9" />
<line x1="442.10" y1="113.30" x2="458.10" y2="113.30" stroke="#a3a3a3" stroke-width="0.9" />
<line x1="442.10" y1="123.20" x2="458.10" y2="123.20" stroke="#a3a3a3" stroke-width="0.9" />
<line x1="486.80" y1="143.40" x2="486.80" y2="155.40" stroke="#f2a5ac" stroke-width="0.9" />
<line x1="478.80" y1="143.40" x2="494.80" y2="143.40" stroke="#f2a5ac" stroke-width="0.9" />
<line x1="478.80" y1="155.40" x2="494.80" y2="155.40" stroke="#f2a5ac" stroke-width="0.9" />
<line x1="523.30" y1="113.10" x2="523.30" y2="126.40" stroke="#a067a6" stroke-width="0.9" />
<line x1="515.80" y1="113.10" x2="530.80" y2="113.10" stroke="#a067a6" stroke-width="0.9" />
<line x1="515.80" y1="126.40" x2="530.80" y2="126.40" stroke="#a067a6" stroke-width="0.9" />
<circle cx="453.30" cy="100.50" r="1.95" fill="#9b9b9b" stroke="#858585" stroke-width="0.4"/>
<circle cx="446.50" cy="104.00" r="1.95" fill="#9b9b9b" stroke="#858585" stroke-width="0.4"/>
<circle cx="446.50" cy="113.80" r="1.95" fill="#9b9b9b" stroke="#858585" stroke-width="0.4"/>
<circle cx="453.60" cy="113.80" r="1.95" fill="#9b9b9b" stroke="#858585" stroke-width="0.4"/>
<circle cx="453.60" cy="121.00" r="1.95" fill="#9b9b9b" stroke="#858585" stroke-width="0.4"/>
<circle cx="446.50" cy="124.20" r="1.95" fill="#9b9b9b" stroke="#858585" stroke-width="0.4"/>
<circle cx="453.60" cy="127.90" r="1.95" fill="#9b9b9b" stroke="#858585" stroke-width="0.4"/>
<circle cx="450.00" cy="141.20" r="1.95" fill="#9b9b9b" stroke="#858585" stroke-width="0.4"/>
<circle cx="486.80" cy="113.80" r="1.95" fill="#f2959d" stroke="#ea8590" stroke-width="0.4"/>
<circle cx="486.80" cy="127.80" r="1.95" fill="#f2959d" stroke="#ea8590" stroke-width="0.4"/>
<circle cx="490.10" cy="144.50" r="1.95" fill="#f2959d" stroke="#ea8590" stroke-width="0.4"/>
<circle cx="476.40" cy="148.10" r="1.95" fill="#f2959d" stroke="#ea8590" stroke-width="0.4"/>
<circle cx="483.30" cy="148.10" r="1.95" fill="#f2959d" stroke="#ea8590" stroke-width="0.4"/>
<circle cx="497.30" cy="148.10" r="1.95" fill="#f2959d" stroke="#ea8590" stroke-width="0.4"/>
<circle cx="490.10" cy="151.60" r="1.95" fill="#f2959d" stroke="#ea8590" stroke-width="0.4"/>
<circle cx="486.80" cy="158.20" r="1.95" fill="#f2959d" stroke="#ea8590" stroke-width="0.4"/>
<circle cx="490.10" cy="174.40" r="1.95" fill="#f2959d" stroke="#ea8590" stroke-width="0.4"/>
<circle cx="483.40" cy="179.00" r="1.95" fill="#f2959d" stroke="#ea8590" stroke-width="0.4"/>
<circle cx="490.60" cy="175.30" r="1.95" fill="#f2959d" stroke="#ea8590" stroke-width="0.4"/>
<circle cx="523.10" cy="86.70" r="1.95" fill="#7b2b82" stroke="#6a2070" stroke-width="0.4"/>
<circle cx="523.10" cy="99.90" r="1.95" fill="#7b2b82" stroke="#6a2070" stroke-width="0.4"/>
<circle cx="516.60" cy="107.10" r="1.95" fill="#7b2b82" stroke="#6a2070" stroke-width="0.4"/>
<circle cx="530.20" cy="104.90" r="1.95" fill="#7b2b82" stroke="#6a2070" stroke-width="0.4"/>
<circle cx="523.10" cy="110.20" r="1.95" fill="#7b2b82" stroke="#6a2070" stroke-width="0.4"/>
<circle cx="516.60" cy="113.60" r="1.95" fill="#7b2b82" stroke="#6a2070" stroke-width="0.4"/>
<circle cx="530.20" cy="113.60" r="1.95" fill="#7b2b82" stroke="#6a2070" stroke-width="0.4"/>
<circle cx="523.10" cy="117.40" r="1.95" fill="#7b2b82" stroke="#6a2070" stroke-width="0.4"/>
<circle cx="523.10" cy="127.50" r="1.95" fill="#7b2b82" stroke="#6a2070" stroke-width="0.4"/>
<circle cx="523.10" cy="136.00" r="1.95" fill="#7b2b82" stroke="#6a2070" stroke-width="0.4"/>
<circle cx="523.10" cy="144.50" r="1.95" fill="#7b2b82" stroke="#6a2070" stroke-width="0.4"/>
<circle cx="523.10" cy="175.20" r="1.95" fill="#7b2b82" stroke="#6a2070" stroke-width="0.4"/>
<line x1="429.60" y1="65.70" x2="429.60" y2="203.10" stroke="#1a1a1a" stroke-width="1.4" />
<line x1="429.00" y1="202.50" x2="543.80" y2="202.50" stroke="#1a1a1a" stroke-width="1.4" />
<line x1="427.00" y1="202.50" x2="429.60" y2="202.50" stroke="#1a1a1a" stroke-width="1.2" />
<text x="421.51" y="205.80" font-size="9.30" fill="#000">0</text>
<line x1="427.00" y1="168.40" x2="429.60" y2="168.40" stroke="#1a1a1a" stroke-width="1.2" />
<text x="416.35" y="171.70" font-size="9.30" fill="#000">10</text>
<line x1="427.00" y1="134.30" x2="429.60" y2="134.30" stroke="#1a1a1a" stroke-width="1.2" />
<text x="416.35" y="137.60" font-size="9.30" fill="#000">20</text>
<line x1="427.00" y1="100.20" x2="429.60" y2="100.20" stroke="#1a1a1a" stroke-width="1.2" />
<text x="416.35" y="103.50" font-size="9.30" fill="#000">30</text>
<line x1="427.00" y1="66.10" x2="429.60" y2="66.10" stroke="#1a1a1a" stroke-width="1.2" />
<text x="416.35" y="69.40" font-size="9.30" fill="#000">40</text>
<line x1="450.30" y1="202.50" x2="450.30" y2="205.10" stroke="#1a1a1a" stroke-width="1.2" />
<text x="433.00" y="214.50" font-size="9.86" fill="#000">WT-Veh</text>
<line x1="486.90" y1="202.50" x2="486.90" y2="205.10" stroke="#1a1a1a" stroke-width="1.2" />
<text x="468.95" y="214.50" font-size="9.93" fill="#000">KO-Veh</text>
<line x1="523.30" y1="202.50" x2="523.30" y2="205.10" stroke="#1a1a1a" stroke-width="1.2" />
<text x="506.78" y="214.50" font-size="9.48" fill="#000">KO-350</text>
<text x="0" y="0" font-size="9.59" fill="#000" transform="translate(412.00,186.52) rotate(-90)">Latency to Seizure (min)</text>
<text x="398.24" y="68.80" font-size="19.00" fill="#000">e</text>
<path d="M449.70,95.50 L449.70,91.30 L484.40,91.30 L484.40,106.80" fill="none" stroke="#333" stroke-width="1.25"/>
<text x="465.86" y="94.06" font-size="13.00" fill="#000">*</text>
<path d="M489.10,106.80 L489.10,78.30 L523.10,78.30 L523.10,82.40" fill="none" stroke="#333" stroke-width="1.25"/>
<text x="503.16" y="81.16" font-size="13.00" fill="#000">*</text>
<rect x="576.90" y="109.60" width="31.20" height="93.00" fill="#d6d6d6" stroke="#8c8c8c" stroke-width="1.1" />
<rect x="612.70" y="143.65" width="30.80" height="58.95" fill="#f6dee1" stroke="#ef939b" stroke-width="1.1" />
<rect x="648.50" y="122.63" width="30.80" height="79.97" fill="#bb88bf" stroke="#6c2271" stroke-width="1.1" />
<line x1="592.40" y1="104.30" x2="592.40" y2="112.50" stroke="#a3a3a3" stroke-width="0.9" />
<line x1="586.10" y1="104.30" x2="598.70" y2="104.30" stroke="#a3a3a3" stroke-width="0.9" />
<line x1="586.10" y1="112.50" x2="598.70" y2="112.50" stroke="#a3a3a3" stroke-width="0.9" />
<line x1="628.10" y1="139.30" x2="628.10" y2="146.80" stroke="#f2a5ac" stroke-width="0.9" />
<line x1="620.20" y1="139.30" x2="636.00" y2="139.30" stroke="#f2a5ac" stroke-width="0.9" />
<line x1="620.20" y1="146.80" x2="636.00" y2="146.80" stroke="#f2a5ac" stroke-width="0.9" />
<line x1="663.80" y1="118.70" x2="663.80" y2="128.50" stroke="#a067a6" stroke-width="0.9" />
<line x1="657.10" y1="118.70" x2="670.50" y2="118.70" stroke="#a067a6" stroke-width="0.9" />
<line x1="657.10" y1="128.50" x2="670.50" y2="128.50" stroke="#a067a6" stroke-width="0.9" />
<circle cx="592.40" cy="86.00" r="1.95" fill="#9b9b9b" stroke="#858585" stroke-width="0.4"/>
<circle cx="592.40" cy="100.50" r="1.95" fill="#9b9b9b" stroke="#858585" stroke-width="0.4"/>
<circle cx="589.00" cy="107.10" r="1.95" fill="#9b9b9b" stroke="#858585" stroke-width="0.4"/>
<circle cx="595.90" cy="108.70" r="1.95" fill="#9b9b9b" stroke="#858585" stroke-width="0.4"/>
<circle cx="589.00" cy="110.60" r="1.95" fill="#9b9b9b" stroke="#858585" stroke-width="0.4"/>
<circle cx="589.00" cy="116.30" r="1.95" fill="#9b9b9b" stroke="#858585" stroke-width="0.4"/>
<circle cx="595.90" cy="119.20" r="1.95" fill="#9b9b9b" stroke="#858585" stroke-width="0.4"/>
<circle cx="589.00" cy="120.30" r="1.95" fill="#9b9b9b" stroke="#858585" stroke-width="0.4"/>
<circle cx="624.80" cy="130.90" r="1.95" fill="#f2959d" stroke="#ea8590" stroke-width="0.4"/>
<circle cx="631.40" cy="128.30" r="1.95" fill="#f2959d" stroke="#ea8590" stroke-width="0.4"/>
<circle cx="631.40" cy="133.50" r="1.95" fill="#f2959d" stroke="#ea8590" stroke-width="0.4"/>
<circle cx="631.40" cy="141.00" r="1.95" fill="#f2959d" stroke="#ea8590" stroke-width="0.4"/>
<circle cx="624.80" cy="143.90" r="1.95" fill="#f2959d" stroke="#ea8590" stroke-width="0.4"/>
<circle cx="631.40" cy="145.40" r="1.95" fill="#f2959d" stroke="#ea8590" stroke-width="0.4"/>
<circle cx="624.80" cy="149.40" r="1.95" fill="#f2959d" stroke="#ea8590" stroke-width="0.4"/>
<circle cx="631.40" cy="151.90" r="1.95" fill="#f2959d" stroke="#ea8590" stroke-width="0.4"/>
<circle cx="628.10" cy="163.00" r="1.95" fill="#f2959d" stroke="#ea8590" stroke-width="0.4"/>
<circle cx="663.80" cy="96.60" r="1.95" fill="#7b2b82" stroke="#6a2070" stroke-width="0.4"/>
<circle cx="657.00" cy="117.50" r="1.95" fill="#7b2b82" stroke="#6a2070" stroke-width="0.4"/>
<circle cx="670.40" cy="120.40" r="1.95" fill="#7b2b82" stroke="#6a2070" stroke-width="0.4"/>
<circle cx="657.00" cy="123.00" r="1.95" fill="#7b2b82" stroke="#6a2070" stroke-width="0.4"/>
<circle cx="657.00" cy="127.00" r="1.95" fill="#7b2b82" stroke="#6a2070" stroke-width="0.4"/>
<circle cx="663.50" cy="128.30" r="1.95" fill="#7b2b82" stroke="#6a2070" stroke-width="0.4"/>
<circle cx="670.40" cy="125.20" r="1.95" fill="#7b2b82" stroke="#6a2070" stroke-width="0.4"/>
<circle cx="670.40" cy="129.80" r="1.95" fill="#7b2b82" stroke="#6a2070" stroke-width="0.4"/>
<circle cx="657.00" cy="132.40" r="1.95" fill="#7b2b82" stroke="#6a2070" stroke-width="0.4"/>
<line x1="572.90" y1="69.20" x2="572.90" y2="203.20" stroke="#1a1a1a" stroke-width="1.4" />
<line x1="572.30" y1="202.60" x2="683.70" y2="202.60" stroke="#1a1a1a" stroke-width="1.4" />
<line x1="570.30" y1="202.60" x2="572.90" y2="202.60" stroke="#1a1a1a" stroke-width="1.2" />
<text x="564.51" y="205.90" font-size="9.30" fill="#000">0</text>
<line x1="570.30" y1="176.00" x2="572.90" y2="176.00" stroke="#1a1a1a" stroke-width="1.2" />
<text x="559.35" y="179.30" font-size="9.30" fill="#000">20</text>
<line x1="570.30" y1="149.40" x2="572.90" y2="149.40" stroke="#1a1a1a" stroke-width="1.2" />
<text x="559.35" y="152.70" font-size="9.30" fill="#000">40</text>
<line x1="570.30" y1="122.80" x2="572.90" y2="122.80" stroke="#1a1a1a" stroke-width="1.2" />
<text x="559.35" y="126.10" font-size="9.30" fill="#000">60</text>
<line x1="570.30" y1="96.20" x2="572.90" y2="96.20" stroke="#1a1a1a" stroke-width="1.2" />
<text x="559.35" y="99.50" font-size="9.30" fill="#000">80</text>
<line x1="570.30" y1="69.60" x2="572.90" y2="69.60" stroke="#1a1a1a" stroke-width="1.2" />
<text x="554.19" y="72.90" font-size="9.30" fill="#000">100</text>
<line x1="592.30" y1="202.60" x2="592.30" y2="205.20" stroke="#1a1a1a" stroke-width="1.2" />
<text x="575.50" y="213.90" font-size="9.38" fill="#000">WT-Veh</text>
<line x1="628.30" y1="202.60" x2="628.30" y2="205.20" stroke="#1a1a1a" stroke-width="1.2" />
<text x="611.38" y="213.90" font-size="9.53" fill="#000">KO-Veh</text>
<line x1="663.90" y1="202.60" x2="663.90" y2="205.20" stroke="#1a1a1a" stroke-width="1.2" />
<text x="647.09" y="213.90" font-size="9.46" fill="#000">KO-350</text>
<text x="0" y="0" font-size="9.45" fill="#000" transform="translate(554.30,176.01) rotate(-90)">Latency to SE (min)</text>
<text x="545.92" y="70.00" font-size="19.00" fill="#000">f</text>
<path d="M592.40,73.90 L592.40,71.30 L664.10,71.30 L664.10,73.90" fill="none" stroke="#333" stroke-width="1.25"/>
<text x="627.46" y="74.47" font-size="13.00" fill="#000">*</text>
<path d="M592.40,81.50 L592.40,78.90 L628.30,78.90 L628.30,123.60" fill="none" stroke="#333" stroke-width="1.25"/>
<text x="604.93" y="82.06" font-size="13.00" fill="#000">**</text>
<path d="M631.40,123.60 L631.40,78.90 L664.10,78.90 L664.10,91.80" fill="none" stroke="#333" stroke-width="1.25"/>
<text x="644.06" y="82.06" font-size="13.00" fill="#000">*</text>
<rect x="433.40" y="300.68" width="31.90" height="66.72" fill="#d6d6d6" stroke="#8c8c8c" stroke-width="1.1" />
<rect x="469.80" y="275.23" width="31.70" height="92.17" fill="#f6dee1" stroke="#ef939b" stroke-width="1.1" />
<rect x="506.70" y="291.79" width="31.60" height="75.61" fill="#bb88bf" stroke="#6c2271" stroke-width="1.1" />
<line x1="449.10" y1="296.80" x2="449.10" y2="303.30" stroke="#a3a3a3" stroke-width="0.9" />
<line x1="441.10" y1="296.80" x2="457.10" y2="296.80" stroke="#a3a3a3" stroke-width="0.9" />
<line x1="441.10" y1="303.30" x2="457.10" y2="303.30" stroke="#a3a3a3" stroke-width="0.9" />
<line x1="485.60" y1="271.30" x2="485.60" y2="277.30" stroke="#f2a5ac" stroke-width="0.9" />
<line x1="477.70" y1="271.30" x2="493.50" y2="271.30" stroke="#f2a5ac" stroke-width="0.9" />
<line x1="477.70" y1="277.30" x2="493.50" y2="277.30" stroke="#f2a5ac" stroke-width="0.9" />
<line x1="522.00" y1="283.80" x2="522.00" y2="298.10" stroke="#a067a6" stroke-width="0.9" />
<line x1="514.40" y1="283.80" x2="529.60" y2="283.80" stroke="#a067a6" stroke-width="0.9" />
<line x1="514.40" y1="298.10" x2="529.60" y2="298.10" stroke="#a067a6" stroke-width="0.9" />
<circle cx="445.90" cy="290.80" r="1.95" fill="#9b9b9b" stroke="#858585" stroke-width="0.4"/>
<circle cx="452.70" cy="287.90" r="1.95" fill="#9b9b9b" stroke="#858585" stroke-width="0.4"/>
<circle cx="442.30" cy="298.70" r="1.95" fill="#9b9b9b" stroke="#858585" stroke-width="0.4"/>
<circle cx="449.10" cy="297.50" r="1.95" fill="#9b9b9b" stroke="#858585" stroke-width="0.4"/>
<circle cx="456.00" cy="296.10" r="1.95" fill="#9b9b9b" stroke="#858585" stroke-width="0.4"/>
<circle cx="456.00" cy="300.40" r="1.95" fill="#9b9b9b" stroke="#858585" stroke-width="0.4"/>
<circle cx="449.10" cy="306.90" r="1.95" fill="#9b9b9b" stroke="#858585" stroke-width="0.4"/>
<circle cx="449.10" cy="322.10" r="1.95" fill="#9b9b9b" stroke="#858585" stroke-width="0.4"/>
<circle cx="485.60" cy="259.90" r="1.95" fill="#f2959d" stroke="#ea8590" stroke-width="0.4"/>
<circle cx="482.30" cy="269.00" r="1.95" fill="#f2959d" stroke="#ea8590" stroke-width="0.4"/>
<circle cx="489.20" cy="271.60" r="1.95" fill="#f2959d" stroke="#ea8590" stroke-width="0.4"/>
<circle cx="482.30" cy="273.30" r="1.95" fill="#f2959d" stroke="#ea8590" stroke-width="0.4"/>
<circle cx="489.20" cy="277.00" r="1.95" fill="#f2959d" stroke="#ea8590" stroke-width="0.4"/>
<circle cx="482.30" cy="279.90" r="1.95" fill="#f2959d" stroke="#ea8590" stroke-width="0.4"/>
<circle cx="489.20" cy="281.40" r="1.95" fill="#f2959d" stroke="#ea8590" stroke-width="0.4"/>
<circle cx="482.30" cy="283.80" r="1.95" fill="#f2959d" stroke="#ea8590" stroke-width="0.4"/>
<circle cx="522.00" cy="264.90" r="1.95" fill="#7b2b82" stroke="#6a2070" stroke-width="0.4"/>
<circle cx="522.00" cy="270.30" r="1.95" fill="#7b2b82" stroke="#6a2070" stroke-width="0.4"/>
<circle cx="518.80" cy="275.80" r="1.95" fill="#7b2b82" stroke="#6a2070" stroke-width="0.4"/>
<circle cx="525.90" cy="275.80" r="1.95" fill="#7b2b82" stroke="#6a2070" stroke-width="0.4"/>
<circle cx="518.80" cy="280.10" r="1.95" fill="#7b2b82" stroke="#6a2070" stroke-width="0.4"/>
<circle cx="525.90" cy="281.20" r="1.95" fill="#7b2b82" stroke="#6a2070" stroke-width="0.4"/>
<circle cx="518.80" cy="284.40" r="1.95" fill="#7b2b82" stroke="#6a2070" stroke-width="0.4"/>
<circle cx="522.00" cy="296.40" r="1.95" fill="#7b2b82" stroke="#6a2070" stroke-width="0.4"/>
<circle cx="522.00" cy="309.80" r="1.95" fill="#7b2b82" stroke="#6a2070" stroke-width="0.4"/>
<circle cx="522.00" cy="323.50" r="1.95" fill="#7b2b82" stroke="#6a2070" stroke-width="0.4"/>
<circle cx="522.00" cy="338.60" r="1.95" fill="#7b2b82" stroke="#6a2070" stroke-width="0.4"/>
<line x1="429.20" y1="232.30" x2="429.20" y2="368.00" stroke="#1a1a1a" stroke-width="1.4" />
<line x1="428.60" y1="367.40" x2="543.50" y2="367.40" stroke="#1a1a1a" stroke-width="1.4" />
<line x1="426.60" y1="367.40" x2="429.20" y2="367.40" stroke="#1a1a1a" stroke-width="1.2" />
<text x="421.21" y="370.70" font-size="9.30" fill="#000">0</text>
<line x1="426.60" y1="340.46" x2="429.20" y2="340.46" stroke="#1a1a1a" stroke-width="1.2" />
<text x="416.05" y="343.76" font-size="9.30" fill="#000">20</text>
<line x1="426.60" y1="313.52" x2="429.20" y2="313.52" stroke="#1a1a1a" stroke-width="1.2" />
<text x="416.05" y="316.82" font-size="9.30" fill="#000">40</text>
<line x1="426.60" y1="286.58" x2="429.20" y2="286.58" stroke="#1a1a1a" stroke-width="1.2" />
<text x="416.05" y="289.88" font-size="9.30" fill="#000">60</text>
<line x1="426.60" y1="259.64" x2="429.20" y2="259.64" stroke="#1a1a1a" stroke-width="1.2" />
<text x="416.05" y="262.94" font-size="9.30" fill="#000">80</text>
<line x1="426.60" y1="232.70" x2="429.20" y2="232.70" stroke="#1a1a1a" stroke-width="1.2" />
<text x="410.89" y="236.00" font-size="9.30" fill="#000">100</text>
<line x1="449.40" y1="367.40" x2="449.40" y2="370.00" stroke="#1a1a1a" stroke-width="1.2" />
<text x="432.00" y="379.30" font-size="9.63" fill="#000">WT-Veh</text>
<line x1="485.50" y1="367.40" x2="485.50" y2="370.00" stroke="#1a1a1a" stroke-width="1.2" />
<text x="467.76" y="379.30" font-size="9.81" fill="#000">KO-Veh</text>
<line x1="522.20" y1="367.40" x2="522.20" y2="370.00" stroke="#1a1a1a" stroke-width="1.2" />
<text x="505.29" y="379.30" font-size="9.46" fill="#000">KO-350</text>
<text x="0" y="0" font-size="9.52" fill="#000" transform="translate(411.00,362.34) rotate(-90)">% Epilepctic activity (mins)</text>
<text x="398.24" y="231.10" font-size="19.00" fill="#000">g</text>
<path d="M449.20,283.50 L449.20,252.10 L485.60,252.10 L485.60,255.60" fill="none" stroke="#333" stroke-width="1.25"/>
<text x="465.36" y="255.06" font-size="13.00" fill="#000">*</text>
<rect x="574.70" y="293.02" width="31.60" height="74.38" fill="#d6d6d6" stroke="#8c8c8c" stroke-width="1.1" />
<rect x="611.50" y="298.19" width="31.70" height="69.20" fill="#f6dee1" stroke="#ef939b" stroke-width="1.1" />
<rect x="647.90" y="311.88" width="31.30" height="55.52" fill="#bb88bf" stroke="#6c2271" stroke-width="1.1" />
<line x1="590.80" y1="286.40" x2="590.80" y2="298.40" stroke="#a3a3a3" stroke-width="0.9" />
<line x1="582.60" y1="286.40" x2="599.00" y2="286.40" stroke="#a3a3a3" stroke-width="0.9" />
<line x1="582.60" y1="298.40" x2="599.00" y2="298.40" stroke="#a3a3a3" stroke-width="0.9" />
<line x1="627.10" y1="288.40" x2="627.10" y2="306.10" stroke="#f2a5ac" stroke-width="0.9" />
<line x1="619.00" y1="288.40" x2="635.20" y2="288.40" stroke="#f2a5ac" stroke-width="0.9" />
<line x1="619.00" y1="306.10" x2="635.20" y2="306.10" stroke="#f2a5ac" stroke-width="0.9" />
<line x1="663.40" y1="302.10" x2="663.40" y2="320.20" stroke="#a067a6" stroke-width="0.9" />
<line x1="655.10" y1="302.10" x2="671.70" y2="302.10" stroke="#a067a6" stroke-width="0.9" />
<line x1="655.10" y1="320.20" x2="671.70" y2="320.20" stroke="#a067a6" stroke-width="0.9" />
<circle cx="590.80" cy="272.90" r="1.95" fill="#9b9b9b" stroke="#858585" stroke-width="0.4"/>
<circle cx="587.20" cy="278.30" r="1.95" fill="#9b9b9b" stroke="#858585" stroke-width="0.4"/>
<circle cx="594.30" cy="281.40" r="1.95" fill="#9b9b9b" stroke="#858585" stroke-width="0.4"/>
<circle cx="590.80" cy="284.90" r="1.95" fill="#9b9b9b" stroke="#858585" stroke-width="0.4"/>
<circle cx="590.80" cy="292.80" r="1.95" fill="#9b9b9b" stroke="#858585" stroke-width="0.4"/>
<circle cx="590.80" cy="299.40" r="1.95" fill="#9b9b9b" stroke="#858585" stroke-width="0.4"/>
<circle cx="590.80" cy="311.50" r="1.95" fill="#9b9b9b" stroke="#858585" stroke-width="0.4"/>
<circle cx="590.80" cy="317.70" r="1.95" fill="#9b9b9b" stroke="#858585" stroke-width="0.4"/>
<circle cx="627.10" cy="267.30" r="1.95" fill="#f2959d" stroke="#ea8590" stroke-width="0.4"/>
<circle cx="627.10" cy="273.90" r="1.95" fill="#f2959d" stroke="#ea8590" stroke-width="0.4"/>
<circle cx="627.10" cy="280.80" r="1.95" fill="#f2959d" stroke="#ea8590" stroke-width="0.4"/>
<circle cx="624.00" cy="292.80" r="1.95" fill="#f2959d" stroke="#ea8590" stroke-width="0.4"/>
<circle cx="630.60" cy="296.30" r="1.95" fill="#f2959d" stroke="#ea8590" stroke-width="0.4"/>
<circle cx="627.10" cy="304.00" r="1.95" fill="#f2959d" stroke="#ea8590" stroke-width="0.4"/>
<circle cx="627.10" cy="323.30" r="1.95" fill="#f2959d" stroke="#ea8590" stroke-width="0.4"/>
<circle cx="627.10" cy="342.00" r="1.95" fill="#f2959d" stroke="#ea8590" stroke-width="0.4"/>
<circle cx="663.50" cy="242.60" r="1.95" fill="#7b2b82" stroke="#6a2070" stroke-width="0.4"/>
<circle cx="663.80" cy="276.00" r="1.95" fill="#7b2b82" stroke="#6a2070" stroke-width="0.4"/>
<circle cx="663.80" cy="300.90" r="1.95" fill="#7b2b82" stroke="#6a2070" stroke-width="0.4"/>
<circle cx="663.80" cy="307.10" r="1.95" fill="#7b2b82" stroke="#6a2070" stroke-width="0.4"/>
<circle cx="660.30" cy="315.00" r="1.95" fill="#7b2b82" stroke="#6a2070" stroke-width="0.4"/>
<circle cx="666.90" cy="315.00" r="1.95" fill="#7b2b82" stroke="#6a2070" stroke-width="0.4"/>
<circle cx="660.30" cy="320.20" r="1.95" fill="#7b2b82" stroke="#6a2070" stroke-width="0.4"/>
<circle cx="666.90" cy="321.70" r="1.95" fill="#7b2b82" stroke="#6a2070" stroke-width="0.4"/>
<circle cx="663.40" cy="339.50" r="1.95" fill="#7b2b82" stroke="#6a2070" stroke-width="0.4"/>
<circle cx="660.30" cy="343.70" r="1.95" fill="#7b2b82" stroke="#6a2070" stroke-width="0.4"/>
<circle cx="666.90" cy="343.70" r="1.95" fill="#7b2b82" stroke="#6a2070" stroke-width="0.4"/>
<line x1="570.50" y1="232.00" x2="570.50" y2="368.00" stroke="#1a1a1a" stroke-width="1.4" />
<line x1="569.90" y1="367.40" x2="683.50" y2="367.40" stroke="#1a1a1a" stroke-width="1.4" />
<line x1="567.90" y1="367.40" x2="570.50" y2="367.40" stroke="#1a1a1a" stroke-width="1.2" />
<text x="562.61" y="370.70" font-size="9.30" fill="#000">0</text>
<line x1="567.90" y1="322.40" x2="570.50" y2="322.40" stroke="#1a1a1a" stroke-width="1.2" />
<text x="562.47" y="325.70" font-size="9.30" fill="#000">1</text>
<line x1="567.90" y1="277.40" x2="570.50" y2="277.40" stroke="#1a1a1a" stroke-width="1.2" />
<text x="562.61" y="280.70" font-size="9.30" fill="#000">2</text>
<line x1="567.90" y1="232.40" x2="570.50" y2="232.40" stroke="#1a1a1a" stroke-width="1.2" />
<text x="562.56" y="235.70" font-size="9.30" fill="#000">3</text>
<line x1="590.90" y1="367.40" x2="590.90" y2="370.00" stroke="#1a1a1a" stroke-width="1.2" />
<text x="573.40" y="379.30" font-size="9.72" fill="#000">WT-Veh</text>
<line x1="626.90" y1="367.40" x2="626.90" y2="370.00" stroke="#1a1a1a" stroke-width="1.2" />
<text x="609.56" y="379.30" font-size="9.81" fill="#000">KO-Veh</text>
<line x1="663.50" y1="367.40" x2="663.50" y2="370.00" stroke="#1a1a1a" stroke-width="1.2" />
<text x="647.09" y="379.30" font-size="9.46" fill="#000">KO-350</text>
<text x="0" y="0" font-size="9.70" fill="#000" transform="translate(557.60,344.53) rotate(-90)">Epileptic Power (&#956;V<tspan font-size="6.5" dy="-3.5">2</tspan><tspan dy="3.5">)</tspan></text>
<text x="547.27" y="233.70" font-size="19.00" fill="#000">h</text>
<rect x="434.90" y="447.00" width="31.30" height="41.33" fill="#d6d6d6" stroke="#8c8c8c" stroke-width="1.1" />
<rect x="470.80" y="447.00" width="31.30" height="25.90" fill="#f6dee1" stroke="#ef939b" stroke-width="1.1" />
<rect x="506.90" y="447.00" width="31.40" height="62.83" fill="#bb88bf" stroke="#6c2271" stroke-width="1.1" />
<line x1="450.10" y1="480.10" x2="450.10" y2="498.30" stroke="#a3a3a3" stroke-width="0.9" />
<line x1="442.40" y1="480.10" x2="457.80" y2="480.10" stroke="#a3a3a3" stroke-width="0.9" />
<line x1="442.40" y1="498.30" x2="457.80" y2="498.30" stroke="#a3a3a3" stroke-width="0.9" />
<line x1="486.60" y1="463.70" x2="486.60" y2="484.30" stroke="#f2a5ac" stroke-width="0.9" />
<line x1="478.90" y1="463.70" x2="494.30" y2="463.70" stroke="#f2a5ac" stroke-width="0.9" />
<line x1="478.90" y1="484.30" x2="494.30" y2="484.30" stroke="#f2a5ac" stroke-width="0.9" />
<line x1="523.30" y1="504.20" x2="523.30" y2="517.20" stroke="#a067a6" stroke-width="0.9" />
<line x1="515.60" y1="504.20" x2="531.00" y2="504.20" stroke="#a067a6" stroke-width="0.9" />
<line x1="515.60" y1="517.20" x2="531.00" y2="517.20" stroke="#a067a6" stroke-width="0.9" />
<circle cx="450.10" cy="453.40" r="1.95" fill="#9b9b9b" stroke="#858585" stroke-width="0.4"/>
<circle cx="447.00" cy="465.70" r="1.95" fill="#9b9b9b" stroke="#858585" stroke-width="0.4"/>
<circle cx="453.80" cy="467.40" r="1.95" fill="#9b9b9b" stroke="#858585" stroke-width="0.4"/>
<circle cx="447.00" cy="489.40" r="1.95" fill="#9b9b9b" stroke="#858585" stroke-width="0.4"/>
<circle cx="453.80" cy="489.40" r="1.95" fill="#9b9b9b" stroke="#858585" stroke-width="0.4"/>
<circle cx="450.10" cy="503.20" r="1.95" fill="#9b9b9b" stroke="#858585" stroke-width="0.4"/>
<circle cx="447.00" cy="522.80" r="1.95" fill="#9b9b9b" stroke="#858585" stroke-width="0.4"/>
<circle cx="453.80" cy="521.70" r="1.95" fill="#9b9b9b" stroke="#858585" stroke-width="0.4"/>
<circle cx="486.60" cy="435.00" r="1.95" fill="#f2959d" stroke="#ea8590" stroke-width="0.4"/>
<circle cx="486.30" cy="448.20" r="1.95" fill="#f2959d" stroke="#ea8590" stroke-width="0.4"/>
<circle cx="486.30" cy="452.80" r="1.95" fill="#f2959d" stroke="#ea8590" stroke-width="0.4"/>
<circle cx="486.30" cy="472.30" r="1.95" fill="#f2959d" stroke="#ea8590" stroke-width="0.4"/>
<circle cx="486.30" cy="476.00" r="1.95" fill="#f2959d" stroke="#ea8590" stroke-width="0.4"/>
<circle cx="486.30" cy="488.80" r="1.95" fill="#f2959d" stroke="#ea8590" stroke-width="0.4"/>
<circle cx="486.30" cy="494.10" r="1.95" fill="#f2959d" stroke="#ea8590" stroke-width="0.4"/>
<circle cx="486.30" cy="523.80" r="1.95" fill="#f2959d" stroke="#ea8590" stroke-width="0.4"/>
<circle cx="522.80" cy="466.10" r="1.95" fill="#7b2b82" stroke="#6a2070" stroke-width="0.4"/>
<circle cx="519.30" cy="488.80" r="1.95" fill="#7b2b82" stroke="#6a2070" stroke-width="0.4"/>
<circle cx="525.90" cy="488.40" r="1.95" fill="#7b2b82" stroke="#6a2070" stroke-width="0.4"/>
<circle cx="522.80" cy="498.30" r="1.95" fill="#7b2b82" stroke="#6a2070" stroke-width="0.4"/>
<circle cx="519.30" cy="519.30" r="1.95" fill="#7b2b82" stroke="#6a2070" stroke-width="0.4"/>
<circle cx="525.90" cy="516.80" r="1.95" fill="#7b2b82" stroke="#6a2070" stroke-width="0.4"/>
<circle cx="512.50" cy="526.50" r="1.95" fill="#7b2b82" stroke="#6a2070" stroke-width="0.4"/>
<circle cx="519.30" cy="524.80" r="1.95" fill="#7b2b82" stroke="#6a2070" stroke-width="0.4"/>
<circle cx="519.30" cy="530.60" r="1.95" fill="#7b2b82" stroke="#6a2070" stroke-width="0.4"/>
<circle cx="525.90" cy="528.50" r="1.95" fill="#7b2b82" stroke="#6a2070" stroke-width="0.4"/>
<circle cx="533.10" cy="526.00" r="1.95" fill="#7b2b82" stroke="#6a2070" stroke-width="0.4"/>
<line x1="430.00" y1="402.00" x2="430.00" y2="536.80" stroke="#1a1a1a" stroke-width="1.4" />
<line x1="429.40" y1="536.20" x2="542.80" y2="536.20" stroke="#1a1a1a" stroke-width="1.4" />
<line x1="430.00" y1="447.00" x2="543.40" y2="447.00" stroke="#1a1a1a" stroke-width="1.4" />
<line x1="427.40" y1="536.20" x2="430.00" y2="536.20" stroke="#1a1a1a" stroke-width="1.2" />
<text x="408.67" y="539.50" font-size="9.30" fill="#000">-100</text>
<line x1="427.40" y1="491.60" x2="430.00" y2="491.60" stroke="#1a1a1a" stroke-width="1.2" />
<text x="413.83" y="494.90" font-size="9.30" fill="#000">-50</text>
<line x1="427.40" y1="447.00" x2="430.00" y2="447.00" stroke="#1a1a1a" stroke-width="1.2" />
<text x="422.11" y="450.30" font-size="9.30" fill="#000">0</text>
<line x1="427.40" y1="402.40" x2="430.00" y2="402.40" stroke="#1a1a1a" stroke-width="1.2" />
<text x="416.95" y="405.70" font-size="9.30" fill="#000">50</text>
<line x1="450.10" y1="536.20" x2="450.10" y2="538.80" stroke="#1a1a1a" stroke-width="1.2" />
<text x="432.80" y="548.50" font-size="9.69" fill="#000">WT-Veh</text>
<line x1="486.40" y1="536.20" x2="486.40" y2="538.80" stroke="#1a1a1a" stroke-width="1.2" />
<text x="468.67" y="548.50" font-size="9.73" fill="#000">KO-Veh</text>
<line x1="522.80" y1="536.20" x2="522.80" y2="538.80" stroke="#1a1a1a" stroke-width="1.2" />
<text x="505.68" y="548.50" font-size="9.57" fill="#000">KO-350</text>
<text x="0" y="0" font-size="9.60" fill="#000" transform="translate(406.90,547.34) rotate(-90)">% Change in Post DZ Power (&#956;V<tspan font-size="6.5" dy="-3.5">2</tspan><tspan dy="3.5">)</tspan></text>
<text x="392.97" y="403.30" font-size="19.00" fill="#000">i</text>
<path d="M486.40,430.20 L486.40,426.60 L523.10,426.60 L523.10,439.60" fill="none" stroke="#333" stroke-width="1.25"/>
<text x="501.06" y="428.67" font-size="13.00" fill="#000">*</text>
</svg>
</body></html>
